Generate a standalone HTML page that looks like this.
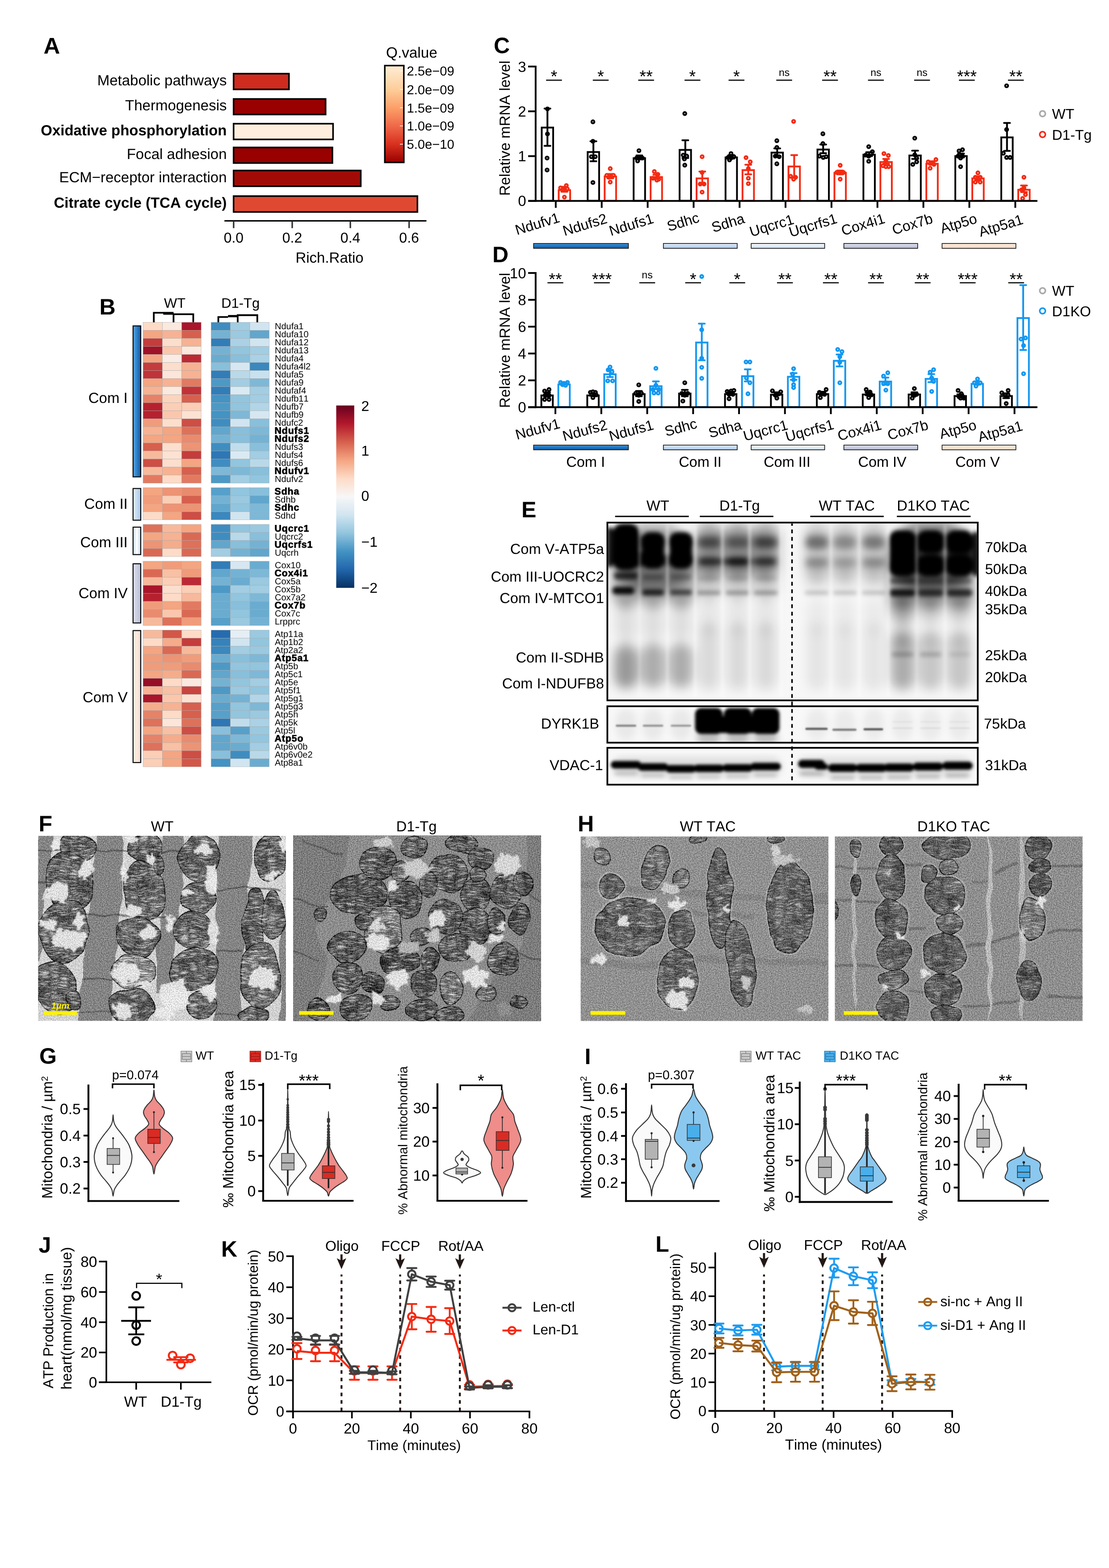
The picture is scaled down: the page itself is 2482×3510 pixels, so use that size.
<!DOCTYPE html>
<html lang="en"><head><meta charset="utf-8"><title>Figure</title>
<style>
html,body{margin:0;padding:0;background:#fff;}
body{width:2482px;height:3510px;overflow:hidden;}
svg{display:block;font-family:'Liberation Sans', Arial, Helvetica, sans-serif;font-kerning:none;text-rendering:geometricPrecision;}
</style></head><body>
<svg width="2482" height="3510" viewBox="0 0 2482 3510">
<defs>
<linearGradient id="qg" x1="0" y1="0" x2="0" y2="1"><stop offset="0" stop-color="#feead1"/><stop offset="0.06" stop-color="#fee6c8"/><stop offset="0.25" stop-color="#fdcd98"/><stop offset="0.44" stop-color="#fc9e68"/><stop offset="0.62" stop-color="#ef6a4a"/><stop offset="0.81" stop-color="#d8311f"/><stop offset="1" stop-color="#990000"/></linearGradient>
<linearGradient id="cb1" x1="0" y1="0" x2="0" y2="1"><stop offset="0" stop-color="#3f93d6"/><stop offset="1" stop-color="#0a59a6"/></linearGradient>
<linearGradient id="cb2" x1="0" y1="0" x2="0" y2="1"><stop offset="0" stop-color="#e2edf9"/><stop offset="1" stop-color="#a9c9ec"/></linearGradient>
<linearGradient id="cb3" x1="0" y1="0" x2="0" y2="1"><stop offset="0" stop-color="#fbfcfe"/><stop offset="1" stop-color="#c9ddf2"/></linearGradient>
<linearGradient id="cb4" x1="0" y1="0" x2="0" y2="1"><stop offset="0" stop-color="#dfe2ee"/><stop offset="1" stop-color="#b4b9d4"/></linearGradient>
<linearGradient id="cb5" x1="0" y1="0" x2="0" y2="1"><stop offset="0" stop-color="#fdebdd"/><stop offset="1" stop-color="#f6d9c4"/></linearGradient>
<linearGradient id="hb1" x1="0" y1="0" x2="1" y2="0"><stop offset="0" stop-color="#56a6e4"/><stop offset="1" stop-color="#0a5aa8"/></linearGradient>
<linearGradient id="hb2" x1="0" y1="0" x2="1" y2="0"><stop offset="0" stop-color="#e3eefa"/><stop offset="1" stop-color="#a6c7eb"/></linearGradient>
<linearGradient id="hb3" x1="0" y1="0" x2="1" y2="0"><stop offset="0" stop-color="#c4daf1"/><stop offset="0.5" stop-color="#ffffff"/><stop offset="1" stop-color="#c0d7f0"/></linearGradient>
<linearGradient id="hb4" x1="0" y1="0" x2="1" y2="0"><stop offset="0" stop-color="#dcdfec"/><stop offset="1" stop-color="#b9bed7"/></linearGradient>
<linearGradient id="hb5" x1="0" y1="0" x2="1" y2="0"><stop offset="0" stop-color="#fdebdd"/><stop offset="0.7" stop-color="#fbe5d8"/><stop offset="1" stop-color="#c9cdea"/></linearGradient>
<linearGradient id="rdbu" x1="0" y1="0" x2="0" y2="1"><stop offset="0" stop-color="#67001f"/><stop offset="0.1" stop-color="#b2182b"/><stop offset="0.2" stop-color="#d6604d"/><stop offset="0.3" stop-color="#f4a582"/><stop offset="0.4" stop-color="#fddbc7"/><stop offset="0.5" stop-color="#f7f7f7"/><stop offset="0.6" stop-color="#d1e5f0"/><stop offset="0.7" stop-color="#92c5de"/><stop offset="0.8" stop-color="#4393c3"/><stop offset="0.9" stop-color="#2166ac"/><stop offset="1" stop-color="#053061"/></linearGradient>
<filter id="bl3" x="-20%" y="-20%" width="140%" height="140%"><feGaussianBlur stdDeviation="3"/></filter>
<filter id="bl5" x="-20%" y="-20%" width="140%" height="140%"><feGaussianBlur stdDeviation="5"/></filter>
<filter id="bl8" x="-20%" y="-20%" width="140%" height="140%"><feGaussianBlur stdDeviation="8"/></filter>
<filter id="bl12" x="-20%" y="-20%" width="140%" height="140%"><feGaussianBlur stdDeviation="12"/></filter>
<filter id="bl2" x="-20%" y="-20%" width="140%" height="140%"><feGaussianBlur stdDeviation="1.6"/></filter>
<clipPath id="cE1"><rect x="1359.3" y="1169.8" width="829" height="398"/></clipPath>
<clipPath id="cE2"><rect x="1359.3" y="1581" width="829" height="81.5"/></clipPath>
<clipPath id="cE3"><rect x="1359.3" y="1674" width="829" height="82.5"/></clipPath>
<clipPath id="emc1"><rect x="85.3" y="1870.9" width="554.6" height="414.4"/></clipPath>
<filter id="emw1" x="65.3" y="1850.9" width="594.6" height="454.4" filterUnits="userSpaceOnUse" color-interpolation-filters="sRGB"><feTurbulence type="fractalNoise" baseFrequency="0.02" numOctaves="2" seed="3" result="lo"/><feDisplacementMap in="SourceGraphic" in2="lo" scale="16" xChannelSelector="R" yChannelSelector="G"/></filter>
<filter id="emg1" x="65.3" y="1850.9" width="594.6" height="454.4" filterUnits="userSpaceOnUse" color-interpolation-filters="sRGB"><feTurbulence type="fractalNoise" baseFrequency="0.42" numOctaves="2" seed="10" result="hi"/><feColorMatrix in="hi" type="matrix" values="1 0 0 0 0  1 0 0 0 0  1 0 0 0 0  0 0 0 0 1" result="g"/><feComposite in="SourceGraphic" in2="g" operator="arithmetic" k1="0" k2="1" k3="0.55" k4="-0.28"/></filter>
<filter id="emm1" x="65.3" y="1850.9" width="594.6" height="454.4" filterUnits="userSpaceOnUse" color-interpolation-filters="sRGB"><feTurbulence type="turbulence" baseFrequency="0.045 0.21" numOctaves="2" seed="16" result="hi"/><feColorMatrix in="hi" type="matrix" values="1 0 0 0 0  1 0 0 0 0  1 0 0 0 0  0 0 0 0 1" result="g"/><feTurbulence type="fractalNoise" baseFrequency="0.03" numOctaves="2" seed="44" result="lo"/><feColorMatrix in="lo" type="matrix" values="1 0 0 0 0  1 0 0 0 0  1 0 0 0 0  0 0 0 0 1" result="gl"/><feComposite in="SourceGraphic" in2="g" operator="arithmetic" k1="0" k2="1" k3="0.8" k4="-0.24" result="c0"/><feComposite in="c0" in2="gl" operator="arithmetic" k1="0" k2="1" k3="0.3" k4="-0.15" result="c"/><feComposite in="c" in2="SourceGraphic" operator="in"/></filter>
<filter id="emr1" x="65.3" y="1850.9" width="594.6" height="454.4" filterUnits="userSpaceOnUse" color-interpolation-filters="sRGB"><feTurbulence type="fractalNoise" baseFrequency="0.07" numOctaves="3" seed="32" result="lo"/><feDisplacementMap in="SourceGraphic" in2="lo" scale="26" xChannelSelector="R" yChannelSelector="G" result="d"/><feGaussianBlur in="d" stdDeviation="1.2"/></filter>
<pattern id="emp1" width="3.2" height="40" patternUnits="userSpaceOnUse"><rect width="3.2" height="40" fill="#8e8e8e"/><rect width="1.2" height="40" fill="#000" fill-opacity="0.16"/></pattern>
<clipPath id="emc2"><rect x="656.3" y="1870.9" width="554.2" height="414.6"/></clipPath>
<filter id="emw2" x="636.3" y="1850.9" width="594.2" height="454.6" filterUnits="userSpaceOnUse" color-interpolation-filters="sRGB"><feTurbulence type="fractalNoise" baseFrequency="0.02" numOctaves="2" seed="9" result="lo"/><feDisplacementMap in="SourceGraphic" in2="lo" scale="16" xChannelSelector="R" yChannelSelector="G"/></filter>
<filter id="emg2" x="636.3" y="1850.9" width="594.2" height="454.6" filterUnits="userSpaceOnUse" color-interpolation-filters="sRGB"><feTurbulence type="fractalNoise" baseFrequency="0.42" numOctaves="2" seed="16" result="hi"/><feColorMatrix in="hi" type="matrix" values="1 0 0 0 0  1 0 0 0 0  1 0 0 0 0  0 0 0 0 1" result="g"/><feComposite in="SourceGraphic" in2="g" operator="arithmetic" k1="0" k2="1" k3="0.55" k4="-0.28"/></filter>
<filter id="emm2" x="636.3" y="1850.9" width="594.2" height="454.6" filterUnits="userSpaceOnUse" color-interpolation-filters="sRGB"><feTurbulence type="turbulence" baseFrequency="0.045 0.21" numOctaves="2" seed="22" result="hi"/><feColorMatrix in="hi" type="matrix" values="1 0 0 0 0  1 0 0 0 0  1 0 0 0 0  0 0 0 0 1" result="g"/><feTurbulence type="fractalNoise" baseFrequency="0.03" numOctaves="2" seed="50" result="lo"/><feColorMatrix in="lo" type="matrix" values="1 0 0 0 0  1 0 0 0 0  1 0 0 0 0  0 0 0 0 1" result="gl"/><feComposite in="SourceGraphic" in2="g" operator="arithmetic" k1="0" k2="1" k3="0.8" k4="-0.24" result="c0"/><feComposite in="c0" in2="gl" operator="arithmetic" k1="0" k2="1" k3="0.3" k4="-0.15" result="c"/><feComposite in="c" in2="SourceGraphic" operator="in"/></filter>
<filter id="emr2" x="636.3" y="1850.9" width="594.2" height="454.6" filterUnits="userSpaceOnUse" color-interpolation-filters="sRGB"><feTurbulence type="fractalNoise" baseFrequency="0.07" numOctaves="3" seed="38" result="lo"/><feDisplacementMap in="SourceGraphic" in2="lo" scale="26" xChannelSelector="R" yChannelSelector="G" result="d"/><feGaussianBlur in="d" stdDeviation="1.2"/></filter>
<pattern id="emp2" width="3.2" height="40" patternUnits="userSpaceOnUse"><rect width="3.2" height="40" fill="#868686"/><rect width="1.2" height="40" fill="#000" fill-opacity="0.16"/></pattern>
<clipPath id="emc3"><rect x="1299.6" y="1872.6" width="554.4" height="412.8"/></clipPath>
<filter id="emw3" x="1279.6" y="1852.6" width="594.4" height="452.8" filterUnits="userSpaceOnUse" color-interpolation-filters="sRGB"><feTurbulence type="fractalNoise" baseFrequency="0.02" numOctaves="2" seed="17" result="lo"/><feDisplacementMap in="SourceGraphic" in2="lo" scale="16" xChannelSelector="R" yChannelSelector="G"/></filter>
<filter id="emg3" x="1279.6" y="1852.6" width="594.4" height="452.8" filterUnits="userSpaceOnUse" color-interpolation-filters="sRGB"><feTurbulence type="fractalNoise" baseFrequency="0.42" numOctaves="2" seed="24" result="hi"/><feColorMatrix in="hi" type="matrix" values="1 0 0 0 0  1 0 0 0 0  1 0 0 0 0  0 0 0 0 1" result="g"/><feComposite in="SourceGraphic" in2="g" operator="arithmetic" k1="0" k2="1" k3="0.55" k4="-0.28"/></filter>
<filter id="emm3" x="1279.6" y="1852.6" width="594.4" height="452.8" filterUnits="userSpaceOnUse" color-interpolation-filters="sRGB"><feTurbulence type="turbulence" baseFrequency="0.045 0.21" numOctaves="2" seed="30" result="hi"/><feColorMatrix in="hi" type="matrix" values="1 0 0 0 0  1 0 0 0 0  1 0 0 0 0  0 0 0 0 1" result="g"/><feTurbulence type="fractalNoise" baseFrequency="0.03" numOctaves="2" seed="58" result="lo"/><feColorMatrix in="lo" type="matrix" values="1 0 0 0 0  1 0 0 0 0  1 0 0 0 0  0 0 0 0 1" result="gl"/><feComposite in="SourceGraphic" in2="g" operator="arithmetic" k1="0" k2="1" k3="0.63" k4="-0.19" result="c0"/><feComposite in="c0" in2="gl" operator="arithmetic" k1="0" k2="1" k3="0.3" k4="-0.15" result="c"/><feComposite in="c" in2="SourceGraphic" operator="in"/></filter>
<filter id="emr3" x="1279.6" y="1852.6" width="594.4" height="452.8" filterUnits="userSpaceOnUse" color-interpolation-filters="sRGB"><feTurbulence type="fractalNoise" baseFrequency="0.07" numOctaves="3" seed="46" result="lo"/><feDisplacementMap in="SourceGraphic" in2="lo" scale="26" xChannelSelector="R" yChannelSelector="G" result="d"/><feGaussianBlur in="d" stdDeviation="1.2"/></filter>
<pattern id="emp3" width="3.2" height="40" patternUnits="userSpaceOnUse"><rect width="3.2" height="40" fill="#9b9b9b"/><rect width="1.2" height="40" fill="#000" fill-opacity="0.16"/></pattern>
<clipPath id="emc4"><rect x="1868.5" y="1872.6" width="554.3" height="412.8"/></clipPath>
<filter id="emw4" x="1848.5" y="1852.6" width="594.3" height="452.8" filterUnits="userSpaceOnUse" color-interpolation-filters="sRGB"><feTurbulence type="fractalNoise" baseFrequency="0.02" numOctaves="2" seed="23" result="lo"/><feDisplacementMap in="SourceGraphic" in2="lo" scale="16" xChannelSelector="R" yChannelSelector="G"/></filter>
<filter id="emg4" x="1848.5" y="1852.6" width="594.3" height="452.8" filterUnits="userSpaceOnUse" color-interpolation-filters="sRGB"><feTurbulence type="fractalNoise" baseFrequency="0.42" numOctaves="2" seed="30" result="hi"/><feColorMatrix in="hi" type="matrix" values="1 0 0 0 0  1 0 0 0 0  1 0 0 0 0  0 0 0 0 1" result="g"/><feComposite in="SourceGraphic" in2="g" operator="arithmetic" k1="0" k2="1" k3="0.55" k4="-0.28"/></filter>
<filter id="emm4" x="1848.5" y="1852.6" width="594.3" height="452.8" filterUnits="userSpaceOnUse" color-interpolation-filters="sRGB"><feTurbulence type="turbulence" baseFrequency="0.045 0.21" numOctaves="2" seed="36" result="hi"/><feColorMatrix in="hi" type="matrix" values="1 0 0 0 0  1 0 0 0 0  1 0 0 0 0  0 0 0 0 1" result="g"/><feTurbulence type="fractalNoise" baseFrequency="0.03" numOctaves="2" seed="64" result="lo"/><feColorMatrix in="lo" type="matrix" values="1 0 0 0 0  1 0 0 0 0  1 0 0 0 0  0 0 0 0 1" result="gl"/><feComposite in="SourceGraphic" in2="g" operator="arithmetic" k1="0" k2="1" k3="0.56" k4="-0.17" result="c0"/><feComposite in="c0" in2="gl" operator="arithmetic" k1="0" k2="1" k3="0.3" k4="-0.15" result="c"/><feComposite in="c" in2="SourceGraphic" operator="in"/></filter>
<filter id="emr4" x="1848.5" y="1852.6" width="594.3" height="452.8" filterUnits="userSpaceOnUse" color-interpolation-filters="sRGB"><feTurbulence type="fractalNoise" baseFrequency="0.07" numOctaves="3" seed="52" result="lo"/><feDisplacementMap in="SourceGraphic" in2="lo" scale="26" xChannelSelector="R" yChannelSelector="G" result="d"/><feGaussianBlur in="d" stdDeviation="1.2"/></filter>
<pattern id="emp4" width="3.2" height="40" patternUnits="userSpaceOnUse"><rect width="3.2" height="40" fill="#999999"/><rect width="1.2" height="40" fill="#000" fill-opacity="0.16"/></pattern>
</defs>
<rect width="2482" height="3510" fill="#fff"/>
<g id="panelA">
<text x="97.5" y="120" font-size="51" font-weight="bold">A</text>
<rect x="522.8" y="164.9" width="123.9" height="35.2" fill="#cf2b1e" stroke="#000" stroke-width="3.6"/>
<text x="507.5" y="191" font-size="33" text-anchor="end">Metabolic pathways</text>
<rect x="522.8" y="221.5" width="205.9" height="34.8" fill="#990000" stroke="#000" stroke-width="3.6"/>
<text x="507.5" y="247.4" font-size="33" text-anchor="end">Thermogenesis</text>
<rect x="522.8" y="276.9" width="222.6" height="35.2" fill="#feeedd" stroke="#000" stroke-width="3.6"/>
<text x="507.5" y="303" font-size="33" text-anchor="end" font-weight="bold">Oxidative phosphorylation</text>
<rect x="522.8" y="330.1" width="221.1" height="34.8" fill="#990000" stroke="#000" stroke-width="3.6"/>
<text x="507.5" y="356" font-size="33" text-anchor="end">Focal adhesion</text>
<rect x="522.8" y="381.7" width="284.6" height="35.2" fill="#a10b07" stroke="#000" stroke-width="3.6"/>
<text x="507.5" y="407.8" font-size="33" text-anchor="end">ECM−receptor interaction</text>
<rect x="522.8" y="439" width="411.4" height="35.5" fill="#e04931" stroke="#000" stroke-width="3.6"/>
<text x="507.5" y="465.25" font-size="33" text-anchor="end" font-weight="bold">Citrate cycle (TCA cycle)</text>
<line x1="502.3" y1="494.4" x2="954.4" y2="494.4" stroke="#000" stroke-width="3.4"/>
<line x1="522.9" y1="495" x2="522.9" y2="510.7" stroke="#333" stroke-width="3.4"/>
<text x="522.9" y="543.2" font-size="32" text-anchor="middle">0.0</text>
<line x1="654" y1="495" x2="654" y2="510.7" stroke="#333" stroke-width="3.4"/>
<text x="654" y="543.2" font-size="32" text-anchor="middle">0.2</text>
<line x1="784.1" y1="495" x2="784.1" y2="510.7" stroke="#333" stroke-width="3.4"/>
<text x="784.1" y="543.2" font-size="32" text-anchor="middle">0.4</text>
<line x1="915.6" y1="495" x2="915.6" y2="510.7" stroke="#333" stroke-width="3.4"/>
<text x="915.6" y="543.2" font-size="32" text-anchor="middle">0.6</text>
<text x="737.5" y="587.6" font-size="33" text-anchor="middle">Rich.Ratio</text>
<text x="864" y="129" font-size="33.3">Q.value</text>
<rect x="861.2" y="146.8" width="42.6" height="216.8" fill="url(#qg)" stroke="#000" stroke-width="3.4"/>
<line x1="895" y1="158.7" x2="902" y2="158.7" stroke="#fff" stroke-width="1.5"/>
<text x="910.5" y="169.3" font-size="29.2">2.5e−09</text>
<line x1="895" y1="200.1" x2="902" y2="200.1" stroke="#fff" stroke-width="1.5"/>
<text x="910.5" y="210.7" font-size="29.2">2.0e−09</text>
<line x1="895" y1="241.1" x2="902" y2="241.1" stroke="#fff" stroke-width="1.5"/>
<text x="910.5" y="251.7" font-size="29.2">1.5e−09</text>
<line x1="895" y1="281.7" x2="902" y2="281.7" stroke="#fff" stroke-width="1.5"/>
<text x="910.5" y="292.3" font-size="29.2">1.0e−09</text>
<line x1="895" y1="322.7" x2="902" y2="322.7" stroke="#fff" stroke-width="1.5"/>
<text x="910.5" y="333.3" font-size="29.2">5.0e−10</text>
</g>
<g>
<text x="1105" y="119" font-size="50" font-weight="bold">C</text>
<text text-anchor="middle" transform="translate(1141 287) rotate(-90)" font-size="33">Relative mRNA level</text>
<line x1="1243.8" y1="449.8" x2="1243.8" y2="465.3" stroke="#000" stroke-width="4"/>
<rect x="1212.4" y="285.58" width="25.6" height="163.92" fill="#fff" stroke="#000" stroke-width="4"/>
<line x1="1225.2" y1="242.93" x2="1225.2" y2="326.55" stroke="#000" stroke-width="4.1"/>
<line x1="1218.6" y1="242.93" x2="1231.8" y2="242.93" stroke="#000" stroke-width="4" stroke-linecap="round"/>
<line x1="1218.6" y1="326.55" x2="1231.8" y2="326.55" stroke="#000" stroke-width="4" stroke-linecap="round"/>
<circle cx="1225.26" cy="243.79" r="3.25" fill="none" stroke="#000" stroke-width="4.1"/>
<circle cx="1225.26" cy="299.83" r="3.25" fill="none" stroke="#000" stroke-width="4.1"/>
<circle cx="1224.4" cy="353.7" r="3.25" fill="none" stroke="#000" stroke-width="4.1"/>
<circle cx="1224.4" cy="380.43" r="3.25" fill="none" stroke="#000" stroke-width="4.1"/>
<rect x="1250.4" y="425.66" width="25.6" height="23.84" fill="#fff" stroke="#f42a12" stroke-width="4"/>
<line x1="1263.2" y1="418.36" x2="1263.2" y2="429.13" stroke="#f42a12" stroke-width="4.1"/>
<line x1="1256.6" y1="418.36" x2="1269.8" y2="418.36" stroke="#f42a12" stroke-width="4" stroke-linecap="round"/>
<line x1="1256.6" y1="429.13" x2="1269.8" y2="429.13" stroke="#f42a12" stroke-width="4" stroke-linecap="round"/>
<circle cx="1254.57" cy="420.51" r="3.25" fill="none" stroke="#f42a12" stroke-width="4.1"/>
<circle cx="1267.5" cy="415.34" r="3.25" fill="none" stroke="#f42a12" stroke-width="4.1"/>
<circle cx="1258.88" cy="424.82" r="3.25" fill="none" stroke="#f42a12" stroke-width="4.1"/>
<circle cx="1269.65" cy="422.67" r="3.25" fill="none" stroke="#f42a12" stroke-width="4.1"/>
<circle cx="1263.19" cy="441.2" r="3.25" fill="none" stroke="#f42a12" stroke-width="4.1"/>
<line x1="1222.2" y1="179.5" x2="1257.6" y2="179.5" stroke="#000" stroke-width="2.6"/>
<text x="1239.9" y="184.2" font-size="38" text-anchor="middle">*</text>
<text text-anchor="end" transform="translate(1254.6 496.5) rotate(-17)" font-size="32.2">Ndufv1</text>
<line x1="1346.65" y1="449.8" x2="1346.65" y2="465.3" stroke="#000" stroke-width="4"/>
<rect x="1315.25" y="340.32" width="25.6" height="109.18" fill="#fff" stroke="#000" stroke-width="4"/>
<line x1="1328.05" y1="316.2" x2="1328.05" y2="361.03" stroke="#000" stroke-width="4.1"/>
<line x1="1321.45" y1="316.2" x2="1334.65" y2="316.2" stroke="#000" stroke-width="4" stroke-linecap="round"/>
<line x1="1321.45" y1="361.03" x2="1334.65" y2="361.03" stroke="#000" stroke-width="4" stroke-linecap="round"/>
<circle cx="1326.98" cy="272.67" r="3.25" fill="none" stroke="#000" stroke-width="4.1"/>
<circle cx="1326.98" cy="316.2" r="3.25" fill="none" stroke="#000" stroke-width="4.1"/>
<circle cx="1323.53" cy="350.69" r="3.25" fill="none" stroke="#000" stroke-width="4.1"/>
<circle cx="1332.15" cy="350.69" r="3.25" fill="none" stroke="#000" stroke-width="4.1"/>
<circle cx="1326.98" cy="408.44" r="3.25" fill="none" stroke="#000" stroke-width="4.1"/>
<rect x="1353.25" y="395.06" width="25.6" height="54.44" fill="#fff" stroke="#f42a12" stroke-width="4"/>
<line x1="1366.05" y1="389.48" x2="1366.05" y2="398.96" stroke="#f42a12" stroke-width="4.1"/>
<line x1="1359.45" y1="389.48" x2="1372.65" y2="389.48" stroke="#f42a12" stroke-width="4" stroke-linecap="round"/>
<line x1="1359.45" y1="398.96" x2="1372.65" y2="398.96" stroke="#f42a12" stroke-width="4" stroke-linecap="round"/>
<circle cx="1365.77" cy="377.41" r="3.25" fill="none" stroke="#f42a12" stroke-width="4.1"/>
<circle cx="1358.01" cy="392.5" r="3.25" fill="none" stroke="#f42a12" stroke-width="4.1"/>
<circle cx="1373.1" cy="392.5" r="3.25" fill="none" stroke="#f42a12" stroke-width="4.1"/>
<circle cx="1362.32" cy="396.81" r="3.25" fill="none" stroke="#f42a12" stroke-width="4.1"/>
<circle cx="1365.77" cy="407.58" r="3.25" fill="none" stroke="#f42a12" stroke-width="4.1"/>
<line x1="1326.75" y1="179.5" x2="1362.15" y2="179.5" stroke="#000" stroke-width="2.6"/>
<text x="1344.45" y="184.2" font-size="38" text-anchor="middle">*</text>
<text text-anchor="end" transform="translate(1361 498.5) rotate(-17)" font-size="32.2">Ndufs2</text>
<line x1="1449.5" y1="449.8" x2="1449.5" y2="465.3" stroke="#000" stroke-width="4"/>
<rect x="1418.1" y="354.11" width="25.6" height="95.39" fill="#fff" stroke="#000" stroke-width="4"/>
<line x1="1430.9" y1="348.1" x2="1430.9" y2="356.72" stroke="#000" stroke-width="4.1"/>
<line x1="1424.3" y1="348.1" x2="1437.5" y2="348.1" stroke="#000" stroke-width="4" stroke-linecap="round"/>
<line x1="1424.3" y1="356.72" x2="1437.5" y2="356.72" stroke="#000" stroke-width="4" stroke-linecap="round"/>
<circle cx="1430" cy="337.32" r="3.25" fill="none" stroke="#000" stroke-width="4.1"/>
<circle cx="1424.82" cy="353.7" r="3.25" fill="none" stroke="#000" stroke-width="4.1"/>
<circle cx="1433.44" cy="352.41" r="3.25" fill="none" stroke="#000" stroke-width="4.1"/>
<circle cx="1437.75" cy="353.7" r="3.25" fill="none" stroke="#000" stroke-width="4.1"/>
<circle cx="1426.98" cy="360.17" r="3.25" fill="none" stroke="#000" stroke-width="4.1"/>
<rect x="1456.1" y="396.35" width="25.6" height="53.15" fill="#fff" stroke="#f42a12" stroke-width="4"/>
<line x1="1468.9" y1="391.2" x2="1468.9" y2="398.96" stroke="#f42a12" stroke-width="4.1"/>
<line x1="1462.3" y1="391.2" x2="1475.5" y2="391.2" stroke="#f42a12" stroke-width="4" stroke-linecap="round"/>
<line x1="1462.3" y1="398.96" x2="1475.5" y2="398.96" stroke="#f42a12" stroke-width="4" stroke-linecap="round"/>
<circle cx="1464.48" cy="383.88" r="3.25" fill="none" stroke="#f42a12" stroke-width="4.1"/>
<circle cx="1472.24" cy="390.34" r="3.25" fill="none" stroke="#f42a12" stroke-width="4.1"/>
<circle cx="1461.46" cy="398.96" r="3.25" fill="none" stroke="#f42a12" stroke-width="4.1"/>
<circle cx="1470.08" cy="403.27" r="3.25" fill="none" stroke="#f42a12" stroke-width="4.1"/>
<circle cx="1474.39" cy="401.12" r="3.25" fill="none" stroke="#f42a12" stroke-width="4.1"/>
<line x1="1428.4" y1="179.5" x2="1463.8" y2="179.5" stroke="#000" stroke-width="2.6"/>
<text x="1446.1" y="184.2" font-size="38" text-anchor="middle">**</text>
<text text-anchor="end" transform="translate(1464.9 498.5) rotate(-17)" font-size="32.2">Ndufs1</text>
<line x1="1552.35" y1="449.8" x2="1552.35" y2="465.3" stroke="#000" stroke-width="4"/>
<rect x="1520.95" y="335.58" width="25.6" height="113.92" fill="#fff" stroke="#000" stroke-width="4"/>
<line x1="1533.75" y1="314.05" x2="1533.75" y2="353.7" stroke="#000" stroke-width="4.1"/>
<line x1="1527.15" y1="314.05" x2="1540.35" y2="314.05" stroke="#000" stroke-width="4" stroke-linecap="round"/>
<line x1="1527.15" y1="353.7" x2="1540.35" y2="353.7" stroke="#000" stroke-width="4" stroke-linecap="round"/>
<circle cx="1532.58" cy="254.14" r="3.25" fill="none" stroke="#000" stroke-width="4.1"/>
<circle cx="1529.13" cy="347.24" r="3.25" fill="none" stroke="#000" stroke-width="4.1"/>
<circle cx="1536.89" cy="349.39" r="3.25" fill="none" stroke="#000" stroke-width="4.1"/>
<circle cx="1531.72" cy="355.86" r="3.25" fill="none" stroke="#000" stroke-width="4.1"/>
<circle cx="1532.58" cy="369.65" r="3.25" fill="none" stroke="#000" stroke-width="4.1"/>
<rect x="1558.95" y="399.37" width="25.6" height="50.13" fill="#fff" stroke="#f42a12" stroke-width="4"/>
<line x1="1571.75" y1="383.88" x2="1571.75" y2="411.89" stroke="#f42a12" stroke-width="4.1"/>
<line x1="1565.15" y1="383.88" x2="1578.35" y2="383.88" stroke="#f42a12" stroke-width="4" stroke-linecap="round"/>
<line x1="1565.15" y1="411.89" x2="1578.35" y2="411.89" stroke="#f42a12" stroke-width="4" stroke-linecap="round"/>
<circle cx="1571.37" cy="350.69" r="3.25" fill="none" stroke="#f42a12" stroke-width="4.1"/>
<circle cx="1571.37" cy="386.03" r="3.25" fill="none" stroke="#f42a12" stroke-width="4.1"/>
<circle cx="1567.06" cy="411.89" r="3.25" fill="none" stroke="#f42a12" stroke-width="4.1"/>
<circle cx="1575.68" cy="411.89" r="3.25" fill="none" stroke="#f42a12" stroke-width="4.1"/>
<circle cx="1571.37" cy="430" r="3.25" fill="none" stroke="#f42a12" stroke-width="4.1"/>
<line x1="1532.05" y1="179.5" x2="1567.45" y2="179.5" stroke="#000" stroke-width="2.6"/>
<text x="1549.75" y="184.2" font-size="38" text-anchor="middle">*</text>
<text text-anchor="end" transform="translate(1567 496.5) rotate(-17)" font-size="32.2">Sdhc</text>
<line x1="1655.2" y1="449.8" x2="1655.2" y2="465.3" stroke="#000" stroke-width="4"/>
<rect x="1623.8" y="352.39" width="25.6" height="97.11" fill="#fff" stroke="#000" stroke-width="4"/>
<line x1="1636.6" y1="347.24" x2="1636.6" y2="355" stroke="#000" stroke-width="4.1"/>
<line x1="1630" y1="347.24" x2="1643.2" y2="347.24" stroke="#000" stroke-width="4" stroke-linecap="round"/>
<line x1="1630" y1="355" x2="1643.2" y2="355" stroke="#000" stroke-width="4" stroke-linecap="round"/>
<circle cx="1636.03" cy="343.79" r="3.25" fill="none" stroke="#000" stroke-width="4.1"/>
<circle cx="1629.56" cy="352.41" r="3.25" fill="none" stroke="#000" stroke-width="4.1"/>
<circle cx="1636.03" cy="353.7" r="3.25" fill="none" stroke="#000" stroke-width="4.1"/>
<circle cx="1642.49" cy="350.69" r="3.25" fill="none" stroke="#000" stroke-width="4.1"/>
<circle cx="1632.58" cy="358.01" r="3.25" fill="none" stroke="#000" stroke-width="4.1"/>
<rect x="1661.8" y="380.83" width="25.6" height="68.67" fill="#fff" stroke="#f42a12" stroke-width="4"/>
<line x1="1674.6" y1="368.79" x2="1674.6" y2="390.34" stroke="#f42a12" stroke-width="4.1"/>
<line x1="1668" y1="368.79" x2="1681.2" y2="368.79" stroke="#f42a12" stroke-width="4" stroke-linecap="round"/>
<line x1="1668" y1="390.34" x2="1681.2" y2="390.34" stroke="#f42a12" stroke-width="4" stroke-linecap="round"/>
<circle cx="1669.65" cy="352.84" r="3.25" fill="none" stroke="#f42a12" stroke-width="4.1"/>
<circle cx="1679.13" cy="362.32" r="3.25" fill="none" stroke="#f42a12" stroke-width="4.1"/>
<circle cx="1674.82" cy="377.41" r="3.25" fill="none" stroke="#f42a12" stroke-width="4.1"/>
<circle cx="1674.82" cy="398.96" r="3.25" fill="none" stroke="#f42a12" stroke-width="4.1"/>
<circle cx="1674.82" cy="411.03" r="3.25" fill="none" stroke="#f42a12" stroke-width="4.1"/>
<line x1="1630.6" y1="179.5" x2="1666" y2="179.5" stroke="#000" stroke-width="2.6"/>
<text x="1648.3" y="184.2" font-size="38" text-anchor="middle">*</text>
<text text-anchor="end" transform="translate(1668.4 498.5) rotate(-17)" font-size="32.2">Sdha</text>
<line x1="1758.05" y1="449.8" x2="1758.05" y2="465.3" stroke="#000" stroke-width="4"/>
<rect x="1726.65" y="341.61" width="25.6" height="107.89" fill="#fff" stroke="#000" stroke-width="4"/>
<line x1="1739.45" y1="332.15" x2="1739.45" y2="349.39" stroke="#000" stroke-width="4.1"/>
<line x1="1732.85" y1="332.15" x2="1746.05" y2="332.15" stroke="#000" stroke-width="4" stroke-linecap="round"/>
<line x1="1732.85" y1="349.39" x2="1746.05" y2="349.39" stroke="#000" stroke-width="4" stroke-linecap="round"/>
<circle cx="1738.61" cy="314.91" r="3.25" fill="none" stroke="#000" stroke-width="4.1"/>
<circle cx="1738.61" cy="330" r="3.25" fill="none" stroke="#000" stroke-width="4.1"/>
<circle cx="1735.17" cy="349.39" r="3.25" fill="none" stroke="#000" stroke-width="4.1"/>
<circle cx="1743.79" cy="350.69" r="3.25" fill="none" stroke="#000" stroke-width="4.1"/>
<circle cx="1738.61" cy="366.63" r="3.25" fill="none" stroke="#000" stroke-width="4.1"/>
<rect x="1764.65" y="372.65" width="25.6" height="76.85" fill="#fff" stroke="#f42a12" stroke-width="4"/>
<line x1="1777.45" y1="347.24" x2="1777.45" y2="396.81" stroke="#f42a12" stroke-width="4.1"/>
<line x1="1770.85" y1="347.24" x2="1784.05" y2="347.24" stroke="#f42a12" stroke-width="4" stroke-linecap="round"/>
<line x1="1770.85" y1="396.81" x2="1784.05" y2="396.81" stroke="#f42a12" stroke-width="4" stroke-linecap="round"/>
<circle cx="1776.11" cy="271.81" r="3.25" fill="none" stroke="#f42a12" stroke-width="4.1"/>
<circle cx="1769.65" cy="394.65" r="3.25" fill="none" stroke="#f42a12" stroke-width="4.1"/>
<circle cx="1776.11" cy="401.12" r="3.25" fill="none" stroke="#f42a12" stroke-width="4.1"/>
<circle cx="1780.42" cy="396.81" r="3.25" fill="none" stroke="#f42a12" stroke-width="4.1"/>
<line x1="1737.35" y1="179.5" x2="1772.75" y2="179.5" stroke="#000" stroke-width="2.6"/>
<text x="1755.05" y="169.5" font-size="23" text-anchor="middle">ns</text>
<text text-anchor="end" transform="translate(1779 500.5) rotate(-17)" font-size="32.2">Uqcrc1</text>
<line x1="1860.9" y1="449.8" x2="1860.9" y2="465.3" stroke="#000" stroke-width="4"/>
<rect x="1829.5" y="334.71" width="25.6" height="114.79" fill="#fff" stroke="#000" stroke-width="4"/>
<line x1="1842.3" y1="323.53" x2="1842.3" y2="342.93" stroke="#000" stroke-width="4.1"/>
<line x1="1835.7" y1="323.53" x2="1848.9" y2="323.53" stroke="#000" stroke-width="4" stroke-linecap="round"/>
<line x1="1835.7" y1="342.93" x2="1848.9" y2="342.93" stroke="#000" stroke-width="4" stroke-linecap="round"/>
<circle cx="1841.64" cy="299.39" r="3.25" fill="none" stroke="#000" stroke-width="4.1"/>
<circle cx="1841.64" cy="321.38" r="3.25" fill="none" stroke="#000" stroke-width="4.1"/>
<circle cx="1833.88" cy="349.39" r="3.25" fill="none" stroke="#000" stroke-width="4.1"/>
<circle cx="1842.5" cy="352.41" r="3.25" fill="none" stroke="#000" stroke-width="4.1"/>
<circle cx="1848.96" cy="350.69" r="3.25" fill="none" stroke="#000" stroke-width="4.1"/>
<rect x="1867.5" y="386.87" width="25.6" height="62.63" fill="#fff" stroke="#f42a12" stroke-width="4"/>
<line x1="1880.3" y1="381.72" x2="1880.3" y2="390.34" stroke="#f42a12" stroke-width="4.1"/>
<line x1="1873.7" y1="381.72" x2="1886.9" y2="381.72" stroke="#f42a12" stroke-width="4" stroke-linecap="round"/>
<line x1="1873.7" y1="390.34" x2="1886.9" y2="390.34" stroke="#f42a12" stroke-width="4" stroke-linecap="round"/>
<circle cx="1880.43" cy="370.08" r="3.25" fill="none" stroke="#f42a12" stroke-width="4.1"/>
<circle cx="1872.67" cy="386.03" r="3.25" fill="none" stroke="#f42a12" stroke-width="4.1"/>
<circle cx="1880.43" cy="386.89" r="3.25" fill="none" stroke="#f42a12" stroke-width="4.1"/>
<circle cx="1887.76" cy="386.03" r="3.25" fill="none" stroke="#f42a12" stroke-width="4.1"/>
<circle cx="1880.43" cy="401.12" r="3.25" fill="none" stroke="#f42a12" stroke-width="4.1"/>
<line x1="1840" y1="179.5" x2="1875.4" y2="179.5" stroke="#000" stroke-width="2.6"/>
<text x="1857.7" y="184.2" font-size="38" text-anchor="middle">**</text>
<text text-anchor="end" transform="translate(1875.7 498.5) rotate(-17)" font-size="32.2">Uqcrfs1</text>
<line x1="1963.75" y1="449.8" x2="1963.75" y2="465.3" stroke="#000" stroke-width="4"/>
<rect x="1932.35" y="346.35" width="25.6" height="103.15" fill="#fff" stroke="#000" stroke-width="4"/>
<line x1="1945.15" y1="340.77" x2="1945.15" y2="349.39" stroke="#000" stroke-width="4.1"/>
<line x1="1938.55" y1="340.77" x2="1951.75" y2="340.77" stroke="#000" stroke-width="4" stroke-linecap="round"/>
<line x1="1938.55" y1="349.39" x2="1951.75" y2="349.39" stroke="#000" stroke-width="4" stroke-linecap="round"/>
<circle cx="1944.22" cy="328.27" r="3.25" fill="none" stroke="#000" stroke-width="4.1"/>
<circle cx="1952.41" cy="339.48" r="3.25" fill="none" stroke="#000" stroke-width="4.1"/>
<circle cx="1937.33" cy="347.24" r="3.25" fill="none" stroke="#000" stroke-width="4.1"/>
<circle cx="1944.22" cy="349.39" r="3.25" fill="none" stroke="#000" stroke-width="4.1"/>
<circle cx="1944.22" cy="361.03" r="3.25" fill="none" stroke="#000" stroke-width="4.1"/>
<rect x="1970.35" y="362.73" width="25.6" height="86.77" fill="#fff" stroke="#f42a12" stroke-width="4"/>
<line x1="1983.15" y1="355.86" x2="1983.15" y2="366.63" stroke="#f42a12" stroke-width="4.1"/>
<line x1="1976.55" y1="355.86" x2="1989.75" y2="355.86" stroke="#f42a12" stroke-width="4" stroke-linecap="round"/>
<line x1="1976.55" y1="366.63" x2="1989.75" y2="366.63" stroke="#f42a12" stroke-width="4" stroke-linecap="round"/>
<circle cx="1978.27" cy="343.79" r="3.25" fill="none" stroke="#f42a12" stroke-width="4.1"/>
<circle cx="1988.19" cy="348.1" r="3.25" fill="none" stroke="#f42a12" stroke-width="4.1"/>
<circle cx="1982.58" cy="360.17" r="3.25" fill="none" stroke="#f42a12" stroke-width="4.1"/>
<circle cx="1976.12" cy="370.95" r="3.25" fill="none" stroke="#f42a12" stroke-width="4.1"/>
<circle cx="1982.58" cy="373.1" r="3.25" fill="none" stroke="#f42a12" stroke-width="4.1"/>
<circle cx="1989.05" cy="373.1" r="3.25" fill="none" stroke="#f42a12" stroke-width="4.1"/>
<line x1="1942.65" y1="179.5" x2="1978.05" y2="179.5" stroke="#000" stroke-width="2.6"/>
<text x="1960.35" y="169.5" font-size="23" text-anchor="middle">ns</text>
<text text-anchor="end" transform="translate(1982.6 498.5) rotate(-17)" font-size="32.2">Cox4i1</text>
<line x1="2066.6" y1="449.8" x2="2066.6" y2="465.3" stroke="#000" stroke-width="4"/>
<rect x="2035.2" y="348.08" width="25.6" height="101.42" fill="#fff" stroke="#000" stroke-width="4"/>
<line x1="2048" y1="337.32" x2="2048" y2="355.86" stroke="#000" stroke-width="4.1"/>
<line x1="2041.4" y1="337.32" x2="2054.6" y2="337.32" stroke="#000" stroke-width="4" stroke-linecap="round"/>
<line x1="2041.4" y1="355.86" x2="2054.6" y2="355.86" stroke="#000" stroke-width="4" stroke-linecap="round"/>
<circle cx="2047.24" cy="309.31" r="3.25" fill="none" stroke="#000" stroke-width="4.1"/>
<circle cx="2047.24" cy="346.38" r="3.25" fill="none" stroke="#000" stroke-width="4.1"/>
<circle cx="2051.55" cy="353.7" r="3.25" fill="none" stroke="#000" stroke-width="4.1"/>
<circle cx="2042.93" cy="367.93" r="3.25" fill="none" stroke="#000" stroke-width="4.1"/>
<circle cx="2051.55" cy="362.32" r="3.25" fill="none" stroke="#000" stroke-width="4.1"/>
<rect x="2073.2" y="366.61" width="25.6" height="82.89" fill="#fff" stroke="#f42a12" stroke-width="4"/>
<line x1="2086" y1="361.03" x2="2086" y2="368.79" stroke="#f42a12" stroke-width="4.1"/>
<line x1="2079.4" y1="361.03" x2="2092.6" y2="361.03" stroke="#f42a12" stroke-width="4" stroke-linecap="round"/>
<line x1="2079.4" y1="368.79" x2="2092.6" y2="368.79" stroke="#f42a12" stroke-width="4" stroke-linecap="round"/>
<circle cx="2094.65" cy="357.15" r="3.25" fill="none" stroke="#f42a12" stroke-width="4.1"/>
<circle cx="2077.41" cy="362.32" r="3.25" fill="none" stroke="#f42a12" stroke-width="4.1"/>
<circle cx="2086.03" cy="364.48" r="3.25" fill="none" stroke="#f42a12" stroke-width="4.1"/>
<circle cx="2090.34" cy="367.93" r="3.25" fill="none" stroke="#f42a12" stroke-width="4.1"/>
<circle cx="2081.72" cy="376.55" r="3.25" fill="none" stroke="#f42a12" stroke-width="4.1"/>
<line x1="2045.9" y1="179.5" x2="2081.3" y2="179.5" stroke="#000" stroke-width="2.6"/>
<text x="2063.6" y="169.5" font-size="23" text-anchor="middle">ns</text>
<text text-anchor="end" transform="translate(2089.5 498.5) rotate(-17)" font-size="32.2">Cox7b</text>
<line x1="2169.45" y1="449.8" x2="2169.45" y2="465.3" stroke="#000" stroke-width="4"/>
<rect x="2138.05" y="349.37" width="25.6" height="100.13" fill="#fff" stroke="#000" stroke-width="4"/>
<line x1="2150.85" y1="343.79" x2="2150.85" y2="352.41" stroke="#000" stroke-width="4.1"/>
<line x1="2144.25" y1="343.79" x2="2157.45" y2="343.79" stroke="#000" stroke-width="4" stroke-linecap="round"/>
<line x1="2144.25" y1="352.41" x2="2157.45" y2="352.41" stroke="#000" stroke-width="4" stroke-linecap="round"/>
<circle cx="2154.13" cy="335.17" r="3.25" fill="none" stroke="#000" stroke-width="4.1"/>
<circle cx="2146.38" cy="337.76" r="3.25" fill="none" stroke="#000" stroke-width="4.1"/>
<circle cx="2144.22" cy="349.39" r="3.25" fill="none" stroke="#000" stroke-width="4.1"/>
<circle cx="2154.13" cy="349.39" r="3.25" fill="none" stroke="#000" stroke-width="4.1"/>
<circle cx="2149.82" cy="353.7" r="3.25" fill="none" stroke="#000" stroke-width="4.1"/>
<circle cx="2149.82" cy="373.1" r="3.25" fill="none" stroke="#000" stroke-width="4.1"/>
<rect x="2176.05" y="399.37" width="25.6" height="50.13" fill="#fff" stroke="#f42a12" stroke-width="4"/>
<line x1="2188.85" y1="394.65" x2="2188.85" y2="401.12" stroke="#f42a12" stroke-width="4.1"/>
<line x1="2182.25" y1="394.65" x2="2195.45" y2="394.65" stroke="#f42a12" stroke-width="4" stroke-linecap="round"/>
<line x1="2182.25" y1="401.12" x2="2195.45" y2="401.12" stroke="#f42a12" stroke-width="4" stroke-linecap="round"/>
<circle cx="2188.62" cy="386.89" r="3.25" fill="none" stroke="#f42a12" stroke-width="4.1"/>
<circle cx="2183.01" cy="396.81" r="3.25" fill="none" stroke="#f42a12" stroke-width="4.1"/>
<circle cx="2193.79" cy="396.81" r="3.25" fill="none" stroke="#f42a12" stroke-width="4.1"/>
<circle cx="2188.62" cy="401.12" r="3.25" fill="none" stroke="#f42a12" stroke-width="4.1"/>
<circle cx="2183.01" cy="407.58" r="3.25" fill="none" stroke="#f42a12" stroke-width="4.1"/>
<circle cx="2193.79" cy="407.58" r="3.25" fill="none" stroke="#f42a12" stroke-width="4.1"/>
<line x1="2146.15" y1="179.5" x2="2181.55" y2="179.5" stroke="#000" stroke-width="2.6"/>
<text x="2163.85" y="184.2" font-size="38" text-anchor="middle">***</text>
<text text-anchor="end" transform="translate(2188.6 498.5) rotate(-17)" font-size="32.2">Atp5o</text>
<line x1="2272.3" y1="449.8" x2="2272.3" y2="465.3" stroke="#000" stroke-width="4"/>
<rect x="2240.9" y="307.56" width="25.6" height="141.94" fill="#fff" stroke="#000" stroke-width="4"/>
<line x1="2253.7" y1="275.26" x2="2253.7" y2="337.76" stroke="#000" stroke-width="4.1"/>
<line x1="2247.1" y1="275.26" x2="2260.3" y2="275.26" stroke="#000" stroke-width="4" stroke-linecap="round"/>
<line x1="2247.1" y1="337.76" x2="2260.3" y2="337.76" stroke="#000" stroke-width="4" stroke-linecap="round"/>
<circle cx="2252.84" cy="192.07" r="3.25" fill="none" stroke="#000" stroke-width="4.1"/>
<circle cx="2252.84" cy="289.91" r="3.25" fill="none" stroke="#000" stroke-width="4.1"/>
<circle cx="2245.51" cy="342.93" r="3.25" fill="none" stroke="#000" stroke-width="4.1"/>
<circle cx="2252.84" cy="352.41" r="3.25" fill="none" stroke="#000" stroke-width="4.1"/>
<circle cx="2260.6" cy="352.41" r="3.25" fill="none" stroke="#000" stroke-width="4.1"/>
<rect x="2278.9" y="424.8" width="25.6" height="24.7" fill="#fff" stroke="#f42a12" stroke-width="4"/>
<line x1="2291.7" y1="415.34" x2="2291.7" y2="430" stroke="#f42a12" stroke-width="4.1"/>
<line x1="2285.1" y1="415.34" x2="2298.3" y2="415.34" stroke="#f42a12" stroke-width="4" stroke-linecap="round"/>
<line x1="2285.1" y1="430" x2="2298.3" y2="430" stroke="#f42a12" stroke-width="4" stroke-linecap="round"/>
<circle cx="2291.63" cy="396.81" r="3.25" fill="none" stroke="#f42a12" stroke-width="4.1"/>
<circle cx="2291.63" cy="420.51" r="3.25" fill="none" stroke="#f42a12" stroke-width="4.1"/>
<circle cx="2286.46" cy="424.82" r="3.25" fill="none" stroke="#f42a12" stroke-width="4.1"/>
<circle cx="2295.08" cy="435.6" r="3.25" fill="none" stroke="#f42a12" stroke-width="4.1"/>
<circle cx="2288.62" cy="444.22" r="3.25" fill="none" stroke="#f42a12" stroke-width="4.1"/>
<line x1="2255.9" y1="179.5" x2="2291.3" y2="179.5" stroke="#000" stroke-width="2.6"/>
<text x="2273.6" y="184.2" font-size="38" text-anchor="middle">**</text>
<text text-anchor="end" transform="translate(2292 500.5) rotate(-17)" font-size="32.2">Atp5a1</text>
<line x1="1198.8" y1="146.9" x2="1198.8" y2="451.8" stroke="#000" stroke-width="4"/>
<line x1="1182" y1="449.8" x2="2321.8" y2="449.8" stroke="#000" stroke-width="4"/>
<line x1="1182" y1="449.8" x2="1198.8" y2="449.8" stroke="#000" stroke-width="4"/>
<text x="1177.5" y="461.4" font-size="33" text-anchor="end">0</text>
<line x1="1182" y1="349.5" x2="1198.8" y2="349.5" stroke="#000" stroke-width="4"/>
<text x="1177.5" y="361.1" font-size="33" text-anchor="end">1</text>
<line x1="1182" y1="249.2" x2="1198.8" y2="249.2" stroke="#000" stroke-width="4"/>
<text x="1177.5" y="260.8" font-size="33" text-anchor="end">2</text>
<line x1="1182" y1="148.9" x2="1198.8" y2="148.9" stroke="#000" stroke-width="4"/>
<text x="1177.5" y="160.5" font-size="33" text-anchor="end">3</text>
<rect x="1194.2" y="545" width="212.2" height="10.9" fill="url(#cb1)" stroke="#111" stroke-width="1.6"/>
<rect x="1484.7" y="545" width="165.2" height="10.9" fill="url(#cb2)" stroke="#111" stroke-width="1.6"/>
<rect x="1681.2" y="545" width="164.4" height="10.9" fill="url(#cb3)" stroke="#111" stroke-width="1.6"/>
<rect x="1888.6" y="545" width="165.2" height="10.9" fill="url(#cb4)" stroke="#111" stroke-width="1.6"/>
<rect x="2108.4" y="545" width="165.2" height="10.9" fill="url(#cb5)" stroke="#111" stroke-width="1.6"/>
<circle cx="2333.3" cy="254.6" r="6.3" fill="none" stroke="#aaaaaa" stroke-width="3.6"/>
<text x="2354.5" y="266.1" font-size="32">WT</text>
<circle cx="2333.3" cy="301.1" r="6.3" fill="none" stroke="#f42a12" stroke-width="3.6"/>
<text x="2354.5" y="312.6" font-size="32">D1-Tg</text>
</g>
<g>
<text x="1102" y="587" font-size="50" font-weight="bold">D</text>
<text text-anchor="middle" transform="translate(1141 762) rotate(-90)" font-size="33">Relative mRNA level</text>
<line x1="1243" y1="911.5" x2="1243" y2="927" stroke="#000" stroke-width="4"/>
<rect x="1211.6" y="885.23" width="25.6" height="25.97" fill="#fff" stroke="#000" stroke-width="4"/>
<line x1="1224.4" y1="878.36" x2="1224.4" y2="888.27" stroke="#000" stroke-width="4.1"/>
<line x1="1217.8" y1="878.36" x2="1231" y2="878.36" stroke="#000" stroke-width="4" stroke-linecap="round"/>
<line x1="1217.8" y1="888.27" x2="1231" y2="888.27" stroke="#000" stroke-width="4" stroke-linecap="round"/>
<circle cx="1218.79" cy="875.34" r="3.25" fill="none" stroke="#000" stroke-width="4.1"/>
<circle cx="1228.71" cy="871.89" r="3.25" fill="none" stroke="#000" stroke-width="4.1"/>
<circle cx="1220.08" cy="884.82" r="3.25" fill="none" stroke="#000" stroke-width="4.1"/>
<circle cx="1228.71" cy="884.82" r="3.25" fill="none" stroke="#000" stroke-width="4.1"/>
<circle cx="1218.79" cy="894.31" r="3.25" fill="none" stroke="#000" stroke-width="4.1"/>
<circle cx="1228.71" cy="894.31" r="3.25" fill="none" stroke="#000" stroke-width="4.1"/>
<rect x="1249.6" y="860.66" width="25.6" height="50.54" fill="#fff" stroke="#1397f0" stroke-width="4"/>
<line x1="1262.4" y1="856.81" x2="1262.4" y2="861.12" stroke="#1397f0" stroke-width="4.1"/>
<line x1="1255.8" y1="856.81" x2="1269" y2="856.81" stroke="#1397f0" stroke-width="4" stroke-linecap="round"/>
<line x1="1255.8" y1="861.12" x2="1269" y2="861.12" stroke="#1397f0" stroke-width="4" stroke-linecap="round"/>
<circle cx="1254.57" cy="855.94" r="3.25" fill="none" stroke="#1397f0" stroke-width="4.1"/>
<circle cx="1262.33" cy="858.1" r="3.25" fill="none" stroke="#1397f0" stroke-width="4.1"/>
<circle cx="1270.08" cy="855.94" r="3.25" fill="none" stroke="#1397f0" stroke-width="4.1"/>
<circle cx="1258.88" cy="861.12" r="3.25" fill="none" stroke="#1397f0" stroke-width="4.1"/>
<circle cx="1265.77" cy="862.41" r="3.25" fill="none" stroke="#1397f0" stroke-width="4.1"/>
<line x1="1225.3" y1="633" x2="1260.7" y2="633" stroke="#000" stroke-width="2.6"/>
<text x="1243" y="637.7" font-size="38" text-anchor="middle">**</text>
<text text-anchor="end" transform="translate(1255.4 957.8) rotate(-15.2)" font-size="32.2">Ndufv1</text>
<line x1="1345.75" y1="911.5" x2="1345.75" y2="927" stroke="#000" stroke-width="4"/>
<rect x="1314.35" y="885.23" width="25.6" height="25.97" fill="#fff" stroke="#000" stroke-width="4"/>
<line x1="1327.15" y1="880.51" x2="1327.15" y2="886.12" stroke="#000" stroke-width="4.1"/>
<line x1="1320.55" y1="880.51" x2="1333.75" y2="880.51" stroke="#000" stroke-width="4" stroke-linecap="round"/>
<line x1="1320.55" y1="886.12" x2="1333.75" y2="886.12" stroke="#000" stroke-width="4" stroke-linecap="round"/>
<circle cx="1321.38" cy="878.36" r="3.25" fill="none" stroke="#000" stroke-width="4.1"/>
<circle cx="1326.98" cy="877.07" r="3.25" fill="none" stroke="#000" stroke-width="4.1"/>
<circle cx="1332.58" cy="878.36" r="3.25" fill="none" stroke="#000" stroke-width="4.1"/>
<circle cx="1326.98" cy="890" r="3.25" fill="none" stroke="#000" stroke-width="4.1"/>
<circle cx="1334.31" cy="883.96" r="3.25" fill="none" stroke="#000" stroke-width="4.1"/>
<rect x="1352.35" y="837.82" width="25.6" height="73.38" fill="#fff" stroke="#1397f0" stroke-width="4"/>
<line x1="1365.15" y1="827.93" x2="1365.15" y2="843.88" stroke="#1397f0" stroke-width="4.1"/>
<line x1="1358.55" y1="827.93" x2="1371.75" y2="827.93" stroke="#1397f0" stroke-width="4" stroke-linecap="round"/>
<line x1="1358.55" y1="843.88" x2="1371.75" y2="843.88" stroke="#1397f0" stroke-width="4" stroke-linecap="round"/>
<circle cx="1365.34" cy="821.46" r="3.25" fill="none" stroke="#1397f0" stroke-width="4.1"/>
<circle cx="1361.03" cy="827.93" r="3.25" fill="none" stroke="#1397f0" stroke-width="4.1"/>
<circle cx="1369.65" cy="832.24" r="3.25" fill="none" stroke="#1397f0" stroke-width="4.1"/>
<circle cx="1360.17" cy="852.5" r="3.25" fill="none" stroke="#1397f0" stroke-width="4.1"/>
<circle cx="1370.95" cy="852.5" r="3.25" fill="none" stroke="#1397f0" stroke-width="4.1"/>
<line x1="1329.35" y1="633" x2="1364.75" y2="633" stroke="#000" stroke-width="2.6"/>
<text x="1347.05" y="637.7" font-size="38" text-anchor="middle">***</text>
<text text-anchor="end" transform="translate(1361 960.8) rotate(-15.2)" font-size="32.2">Ndufs2</text>
<line x1="1448.5" y1="911.5" x2="1448.5" y2="927" stroke="#000" stroke-width="4"/>
<rect x="1417.1" y="882.21" width="25.6" height="28.99" fill="#fff" stroke="#000" stroke-width="4"/>
<line x1="1429.9" y1="875.34" x2="1429.9" y2="886.98" stroke="#000" stroke-width="4.1"/>
<line x1="1423.3" y1="875.34" x2="1436.5" y2="875.34" stroke="#000" stroke-width="4" stroke-linecap="round"/>
<line x1="1423.3" y1="886.98" x2="1436.5" y2="886.98" stroke="#000" stroke-width="4" stroke-linecap="round"/>
<circle cx="1429.57" cy="861.55" r="3.25" fill="none" stroke="#000" stroke-width="4.1"/>
<circle cx="1422.67" cy="880.51" r="3.25" fill="none" stroke="#000" stroke-width="4.1"/>
<circle cx="1435.6" cy="880.51" r="3.25" fill="none" stroke="#000" stroke-width="4.1"/>
<circle cx="1429.57" cy="884.82" r="3.25" fill="none" stroke="#000" stroke-width="4.1"/>
<circle cx="1429.57" cy="898.62" r="3.25" fill="none" stroke="#000" stroke-width="4.1"/>
<rect x="1455.1" y="864.54" width="25.6" height="46.66" fill="#fff" stroke="#1397f0" stroke-width="4"/>
<line x1="1467.9" y1="853.79" x2="1467.9" y2="871.03" stroke="#1397f0" stroke-width="4.1"/>
<line x1="1461.3" y1="853.79" x2="1474.5" y2="853.79" stroke="#1397f0" stroke-width="4" stroke-linecap="round"/>
<line x1="1461.3" y1="871.03" x2="1474.5" y2="871.03" stroke="#1397f0" stroke-width="4" stroke-linecap="round"/>
<circle cx="1467.93" cy="824.48" r="3.25" fill="none" stroke="#1397f0" stroke-width="4.1"/>
<circle cx="1467.93" cy="862.41" r="3.25" fill="none" stroke="#1397f0" stroke-width="4.1"/>
<circle cx="1461.46" cy="871.89" r="3.25" fill="none" stroke="#1397f0" stroke-width="4.1"/>
<circle cx="1474.39" cy="871.89" r="3.25" fill="none" stroke="#1397f0" stroke-width="4.1"/>
<circle cx="1463.62" cy="879.65" r="3.25" fill="none" stroke="#1397f0" stroke-width="4.1"/>
<circle cx="1473.1" cy="879.65" r="3.25" fill="none" stroke="#1397f0" stroke-width="4.1"/>
<line x1="1430.8" y1="633" x2="1466.2" y2="633" stroke="#000" stroke-width="2.6"/>
<text x="1448.5" y="623" font-size="23" text-anchor="middle">ns</text>
<text text-anchor="end" transform="translate(1464.9 960.8) rotate(-15.2)" font-size="32.2">Ndufs1</text>
<line x1="1551.25" y1="911.5" x2="1551.25" y2="927" stroke="#000" stroke-width="4"/>
<rect x="1519.85" y="880.92" width="25.6" height="30.28" fill="#fff" stroke="#000" stroke-width="4"/>
<line x1="1532.65" y1="872.76" x2="1532.65" y2="886.98" stroke="#000" stroke-width="4.1"/>
<line x1="1526.05" y1="872.76" x2="1539.25" y2="872.76" stroke="#000" stroke-width="4" stroke-linecap="round"/>
<line x1="1526.05" y1="886.98" x2="1539.25" y2="886.98" stroke="#000" stroke-width="4" stroke-linecap="round"/>
<circle cx="1532.58" cy="856.81" r="3.25" fill="none" stroke="#000" stroke-width="4.1"/>
<circle cx="1526.12" cy="880.51" r="3.25" fill="none" stroke="#000" stroke-width="4.1"/>
<circle cx="1539.05" cy="880.51" r="3.25" fill="none" stroke="#000" stroke-width="4.1"/>
<circle cx="1532.58" cy="884.82" r="3.25" fill="none" stroke="#000" stroke-width="4.1"/>
<circle cx="1528.27" cy="897.75" r="3.25" fill="none" stroke="#000" stroke-width="4.1"/>
<rect x="1557.85" y="766.7" width="25.6" height="144.5" fill="#fff" stroke="#1397f0" stroke-width="4"/>
<line x1="1570.65" y1="724.48" x2="1570.65" y2="806.38" stroke="#1397f0" stroke-width="4.1"/>
<line x1="1564.05" y1="724.48" x2="1577.25" y2="724.48" stroke="#1397f0" stroke-width="4" stroke-linecap="round"/>
<line x1="1564.05" y1="806.38" x2="1577.25" y2="806.38" stroke="#1397f0" stroke-width="4" stroke-linecap="round"/>
<circle cx="1570.51" cy="618.88" r="3.25" fill="none" stroke="#1397f0" stroke-width="4.1"/>
<circle cx="1570.51" cy="738.27" r="3.25" fill="none" stroke="#1397f0" stroke-width="4.1"/>
<circle cx="1570.51" cy="802.07" r="3.25" fill="none" stroke="#1397f0" stroke-width="4.1"/>
<circle cx="1570.51" cy="822.32" r="3.25" fill="none" stroke="#1397f0" stroke-width="4.1"/>
<circle cx="1570.51" cy="846.89" r="3.25" fill="none" stroke="#1397f0" stroke-width="4.1"/>
<line x1="1533.55" y1="633" x2="1568.95" y2="633" stroke="#000" stroke-width="2.6"/>
<text x="1551.25" y="637.7" font-size="38" text-anchor="middle">*</text>
<text text-anchor="end" transform="translate(1561.9 957.8) rotate(-15.2)" font-size="32.2">Sdhc</text>
<line x1="1654" y1="911.5" x2="1654" y2="927" stroke="#000" stroke-width="4"/>
<rect x="1622.6" y="882.21" width="25.6" height="28.99" fill="#fff" stroke="#000" stroke-width="4"/>
<line x1="1635.4" y1="877.07" x2="1635.4" y2="882.67" stroke="#000" stroke-width="4.1"/>
<line x1="1628.8" y1="877.07" x2="1642" y2="877.07" stroke="#000" stroke-width="4" stroke-linecap="round"/>
<line x1="1628.8" y1="882.67" x2="1642" y2="882.67" stroke="#000" stroke-width="4" stroke-linecap="round"/>
<circle cx="1627.41" cy="876.2" r="3.25" fill="none" stroke="#000" stroke-width="4.1"/>
<circle cx="1636.03" cy="875.34" r="3.25" fill="none" stroke="#000" stroke-width="4.1"/>
<circle cx="1642.49" cy="874.05" r="3.25" fill="none" stroke="#000" stroke-width="4.1"/>
<circle cx="1631.72" cy="882.67" r="3.25" fill="none" stroke="#000" stroke-width="4.1"/>
<circle cx="1640.34" cy="882.67" r="3.25" fill="none" stroke="#000" stroke-width="4.1"/>
<circle cx="1631.72" cy="892.58" r="3.25" fill="none" stroke="#000" stroke-width="4.1"/>
<rect x="1660.6" y="842.13" width="25.6" height="69.07" fill="#fff" stroke="#1397f0" stroke-width="4"/>
<line x1="1673.4" y1="826.63" x2="1673.4" y2="853.79" stroke="#1397f0" stroke-width="4.1"/>
<line x1="1666.8" y1="826.63" x2="1680" y2="826.63" stroke="#1397f0" stroke-width="4" stroke-linecap="round"/>
<line x1="1666.8" y1="853.79" x2="1680" y2="853.79" stroke="#1397f0" stroke-width="4" stroke-linecap="round"/>
<circle cx="1669.65" cy="810.26" r="3.25" fill="none" stroke="#1397f0" stroke-width="4.1"/>
<circle cx="1678.27" cy="810.26" r="3.25" fill="none" stroke="#1397f0" stroke-width="4.1"/>
<circle cx="1670.51" cy="846.03" r="3.25" fill="none" stroke="#1397f0" stroke-width="4.1"/>
<circle cx="1678.27" cy="856.81" r="3.25" fill="none" stroke="#1397f0" stroke-width="4.1"/>
<circle cx="1673.96" cy="881.38" r="3.25" fill="none" stroke="#1397f0" stroke-width="4.1"/>
<line x1="1632.3" y1="633" x2="1667.7" y2="633" stroke="#000" stroke-width="2.6"/>
<text x="1650" y="637.7" font-size="38" text-anchor="middle">*</text>
<text text-anchor="end" transform="translate(1661.9 960.8) rotate(-15.2)" font-size="32.2">Sdha</text>
<line x1="1756.75" y1="911.5" x2="1756.75" y2="927" stroke="#000" stroke-width="4"/>
<rect x="1725.35" y="883.51" width="25.6" height="27.69" fill="#fff" stroke="#000" stroke-width="4"/>
<line x1="1738.15" y1="878.36" x2="1738.15" y2="884.82" stroke="#000" stroke-width="4.1"/>
<line x1="1731.55" y1="878.36" x2="1744.75" y2="878.36" stroke="#000" stroke-width="4" stroke-linecap="round"/>
<line x1="1731.55" y1="884.82" x2="1744.75" y2="884.82" stroke="#000" stroke-width="4" stroke-linecap="round"/>
<circle cx="1728.7" cy="874.91" r="3.25" fill="none" stroke="#000" stroke-width="4.1"/>
<circle cx="1747.23" cy="877.07" r="3.25" fill="none" stroke="#000" stroke-width="4.1"/>
<circle cx="1738.61" cy="882.67" r="3.25" fill="none" stroke="#000" stroke-width="4.1"/>
<circle cx="1735.17" cy="884.82" r="3.25" fill="none" stroke="#000" stroke-width="4.1"/>
<circle cx="1738.61" cy="891.29" r="3.25" fill="none" stroke="#000" stroke-width="4.1"/>
<rect x="1763.35" y="843.42" width="25.6" height="67.78" fill="#fff" stroke="#1397f0" stroke-width="4"/>
<line x1="1776.15" y1="835.26" x2="1776.15" y2="850.34" stroke="#1397f0" stroke-width="4.1"/>
<line x1="1769.55" y1="835.26" x2="1782.75" y2="835.26" stroke="#1397f0" stroke-width="4" stroke-linecap="round"/>
<line x1="1769.55" y1="850.34" x2="1782.75" y2="850.34" stroke="#1397f0" stroke-width="4" stroke-linecap="round"/>
<circle cx="1776.11" cy="825.34" r="3.25" fill="none" stroke="#1397f0" stroke-width="4.1"/>
<circle cx="1773.96" cy="837.41" r="3.25" fill="none" stroke="#1397f0" stroke-width="4.1"/>
<circle cx="1776.11" cy="850.34" r="3.25" fill="none" stroke="#1397f0" stroke-width="4.1"/>
<circle cx="1776.11" cy="861.12" r="3.25" fill="none" stroke="#1397f0" stroke-width="4.1"/>
<circle cx="1776.11" cy="867.58" r="3.25" fill="none" stroke="#1397f0" stroke-width="4.1"/>
<line x1="1739.05" y1="633" x2="1774.45" y2="633" stroke="#000" stroke-width="2.6"/>
<text x="1756.75" y="637.7" font-size="38" text-anchor="middle">**</text>
<text text-anchor="end" transform="translate(1765.3 960.8) rotate(-15.2)" font-size="32.2">Uqcrc1</text>
<line x1="1859.5" y1="911.5" x2="1859.5" y2="927" stroke="#000" stroke-width="4"/>
<rect x="1828.1" y="882.21" width="25.6" height="28.99" fill="#fff" stroke="#000" stroke-width="4"/>
<line x1="1840.9" y1="877.07" x2="1840.9" y2="883.96" stroke="#000" stroke-width="4.1"/>
<line x1="1834.3" y1="877.07" x2="1847.5" y2="877.07" stroke="#000" stroke-width="4" stroke-linecap="round"/>
<line x1="1834.3" y1="883.96" x2="1847.5" y2="883.96" stroke="#000" stroke-width="4" stroke-linecap="round"/>
<circle cx="1848.96" cy="871.89" r="3.25" fill="none" stroke="#000" stroke-width="4.1"/>
<circle cx="1833.88" cy="878.36" r="3.25" fill="none" stroke="#000" stroke-width="4.1"/>
<circle cx="1841.64" cy="881.38" r="3.25" fill="none" stroke="#000" stroke-width="4.1"/>
<circle cx="1845.52" cy="882.67" r="3.25" fill="none" stroke="#000" stroke-width="4.1"/>
<circle cx="1836.03" cy="890" r="3.25" fill="none" stroke="#000" stroke-width="4.1"/>
<rect x="1866.1" y="807.65" width="25.6" height="103.55" fill="#fff" stroke="#1397f0" stroke-width="4"/>
<line x1="1878.9" y1="793.45" x2="1878.9" y2="820.17" stroke="#1397f0" stroke-width="4.1"/>
<line x1="1872.3" y1="793.45" x2="1885.5" y2="793.45" stroke="#1397f0" stroke-width="4" stroke-linecap="round"/>
<line x1="1872.3" y1="820.17" x2="1885.5" y2="820.17" stroke="#1397f0" stroke-width="4" stroke-linecap="round"/>
<circle cx="1874.83" cy="782.24" r="3.25" fill="none" stroke="#1397f0" stroke-width="4.1"/>
<circle cx="1884.31" cy="786.98" r="3.25" fill="none" stroke="#1397f0" stroke-width="4.1"/>
<circle cx="1879.57" cy="798.62" r="3.25" fill="none" stroke="#1397f0" stroke-width="4.1"/>
<circle cx="1879.57" cy="810.69" r="3.25" fill="none" stroke="#1397f0" stroke-width="4.1"/>
<circle cx="1879.57" cy="856.81" r="3.25" fill="none" stroke="#1397f0" stroke-width="4.1"/>
<line x1="1841.8" y1="633" x2="1877.2" y2="633" stroke="#000" stroke-width="2.6"/>
<text x="1859.5" y="637.7" font-size="38" text-anchor="middle">**</text>
<text text-anchor="end" transform="translate(1868.4 959.8) rotate(-15.2)" font-size="32.2">Uqcrfs1</text>
<line x1="1962.25" y1="911.5" x2="1962.25" y2="927" stroke="#000" stroke-width="4"/>
<rect x="1930.85" y="883.08" width="25.6" height="28.12" fill="#fff" stroke="#000" stroke-width="4"/>
<line x1="1943.65" y1="878.36" x2="1943.65" y2="884.82" stroke="#000" stroke-width="4.1"/>
<line x1="1937.05" y1="878.36" x2="1950.25" y2="878.36" stroke="#000" stroke-width="4" stroke-linecap="round"/>
<line x1="1937.05" y1="884.82" x2="1950.25" y2="884.82" stroke="#000" stroke-width="4" stroke-linecap="round"/>
<circle cx="1938.62" cy="871.89" r="3.25" fill="none" stroke="#000" stroke-width="4.1"/>
<circle cx="1947.24" cy="877.5" r="3.25" fill="none" stroke="#000" stroke-width="4.1"/>
<circle cx="1941.64" cy="882.67" r="3.25" fill="none" stroke="#000" stroke-width="4.1"/>
<circle cx="1950.26" cy="883.96" r="3.25" fill="none" stroke="#000" stroke-width="4.1"/>
<circle cx="1944.22" cy="890" r="3.25" fill="none" stroke="#000" stroke-width="4.1"/>
<rect x="1968.85" y="854.2" width="25.6" height="57" fill="#fff" stroke="#1397f0" stroke-width="4"/>
<line x1="1981.65" y1="845.17" x2="1981.65" y2="861.12" stroke="#1397f0" stroke-width="4.1"/>
<line x1="1975.05" y1="845.17" x2="1988.25" y2="845.17" stroke="#1397f0" stroke-width="4" stroke-linecap="round"/>
<line x1="1975.05" y1="861.12" x2="1988.25" y2="861.12" stroke="#1397f0" stroke-width="4" stroke-linecap="round"/>
<circle cx="1986.89" cy="834.39" r="3.25" fill="none" stroke="#1397f0" stroke-width="4.1"/>
<circle cx="1977.41" cy="841.72" r="3.25" fill="none" stroke="#1397f0" stroke-width="4.1"/>
<circle cx="1982.58" cy="856.81" r="3.25" fill="none" stroke="#1397f0" stroke-width="4.1"/>
<circle cx="1986.89" cy="858.96" r="3.25" fill="none" stroke="#1397f0" stroke-width="4.1"/>
<circle cx="1977.41" cy="858.96" r="3.25" fill="none" stroke="#1397f0" stroke-width="4.1"/>
<circle cx="1982.58" cy="873.19" r="3.25" fill="none" stroke="#1397f0" stroke-width="4.1"/>
<line x1="1942.85" y1="633" x2="1978.25" y2="633" stroke="#000" stroke-width="2.6"/>
<text x="1960.55" y="637.7" font-size="38" text-anchor="middle">**</text>
<text text-anchor="end" transform="translate(1974.8 960.8) rotate(-15.2)" font-size="32.2">Cox4i1</text>
<line x1="2065" y1="911.5" x2="2065" y2="927" stroke="#000" stroke-width="4"/>
<rect x="2033.6" y="883.08" width="25.6" height="28.12" fill="#fff" stroke="#000" stroke-width="4"/>
<line x1="2046.4" y1="878.36" x2="2046.4" y2="884.82" stroke="#000" stroke-width="4.1"/>
<line x1="2039.8" y1="878.36" x2="2053" y2="878.36" stroke="#000" stroke-width="4" stroke-linecap="round"/>
<line x1="2039.8" y1="884.82" x2="2053" y2="884.82" stroke="#000" stroke-width="4" stroke-linecap="round"/>
<circle cx="2046.38" cy="869.74" r="3.25" fill="none" stroke="#000" stroke-width="4.1"/>
<circle cx="2042.93" cy="882.67" r="3.25" fill="none" stroke="#000" stroke-width="4.1"/>
<circle cx="2051.55" cy="882.67" r="3.25" fill="none" stroke="#000" stroke-width="4.1"/>
<circle cx="2047.24" cy="884.82" r="3.25" fill="none" stroke="#000" stroke-width="4.1"/>
<circle cx="2041.64" cy="891.29" r="3.25" fill="none" stroke="#000" stroke-width="4.1"/>
<rect x="2071.6" y="848.16" width="25.6" height="63.04" fill="#fff" stroke="#1397f0" stroke-width="4"/>
<line x1="2084.4" y1="837.41" x2="2084.4" y2="855.51" stroke="#1397f0" stroke-width="4.1"/>
<line x1="2077.8" y1="837.41" x2="2091" y2="837.41" stroke="#1397f0" stroke-width="4" stroke-linecap="round"/>
<line x1="2077.8" y1="855.51" x2="2091" y2="855.51" stroke="#1397f0" stroke-width="4" stroke-linecap="round"/>
<circle cx="2089.48" cy="827.5" r="3.25" fill="none" stroke="#1397f0" stroke-width="4.1"/>
<circle cx="2081.72" cy="833.1" r="3.25" fill="none" stroke="#1397f0" stroke-width="4.1"/>
<circle cx="2085.17" cy="846.03" r="3.25" fill="none" stroke="#1397f0" stroke-width="4.1"/>
<circle cx="2089.48" cy="853.79" r="3.25" fill="none" stroke="#1397f0" stroke-width="4.1"/>
<circle cx="2085.17" cy="876.2" r="3.25" fill="none" stroke="#1397f0" stroke-width="4.1"/>
<line x1="2047.3" y1="633" x2="2082.7" y2="633" stroke="#000" stroke-width="2.6"/>
<text x="2065" y="637.7" font-size="38" text-anchor="middle">**</text>
<text text-anchor="end" transform="translate(2079.6 960.8) rotate(-15.2)" font-size="32.2">Cox7b</text>
<line x1="2167.75" y1="911.5" x2="2167.75" y2="927" stroke="#000" stroke-width="4"/>
<rect x="2136.35" y="886.52" width="25.6" height="24.68" fill="#fff" stroke="#000" stroke-width="4"/>
<line x1="2149.15" y1="882.67" x2="2149.15" y2="888.27" stroke="#000" stroke-width="4.1"/>
<line x1="2142.55" y1="882.67" x2="2155.75" y2="882.67" stroke="#000" stroke-width="4" stroke-linecap="round"/>
<line x1="2142.55" y1="888.27" x2="2155.75" y2="888.27" stroke="#000" stroke-width="4" stroke-linecap="round"/>
<circle cx="2144.22" cy="874.05" r="3.25" fill="none" stroke="#000" stroke-width="4.1"/>
<circle cx="2151.55" cy="881.38" r="3.25" fill="none" stroke="#000" stroke-width="4.1"/>
<circle cx="2146.38" cy="888.27" r="3.25" fill="none" stroke="#000" stroke-width="4.1"/>
<circle cx="2155" cy="888.27" r="3.25" fill="none" stroke="#000" stroke-width="4.1"/>
<circle cx="2149.82" cy="891.29" r="3.25" fill="none" stroke="#000" stroke-width="4.1"/>
<circle cx="2157.15" cy="891.29" r="3.25" fill="none" stroke="#000" stroke-width="4.1"/>
<rect x="2174.35" y="859.37" width="25.6" height="51.83" fill="#fff" stroke="#1397f0" stroke-width="4"/>
<line x1="2187.15" y1="853.79" x2="2187.15" y2="861.12" stroke="#1397f0" stroke-width="4.1"/>
<line x1="2180.55" y1="853.79" x2="2193.75" y2="853.79" stroke="#1397f0" stroke-width="4" stroke-linecap="round"/>
<line x1="2180.55" y1="861.12" x2="2193.75" y2="861.12" stroke="#1397f0" stroke-width="4" stroke-linecap="round"/>
<circle cx="2187.75" cy="848.19" r="3.25" fill="none" stroke="#1397f0" stroke-width="4.1"/>
<circle cx="2180.86" cy="856.81" r="3.25" fill="none" stroke="#1397f0" stroke-width="4.1"/>
<circle cx="2193.79" cy="856.81" r="3.25" fill="none" stroke="#1397f0" stroke-width="4.1"/>
<circle cx="2187.75" cy="858.96" r="3.25" fill="none" stroke="#1397f0" stroke-width="4.1"/>
<circle cx="2184.31" cy="864.13" r="3.25" fill="none" stroke="#1397f0" stroke-width="4.1"/>
<line x1="2148.05" y1="633" x2="2183.45" y2="633" stroke="#000" stroke-width="2.6"/>
<text x="2165.75" y="637.7" font-size="38" text-anchor="middle">***</text>
<text text-anchor="end" transform="translate(2187.3 960.8) rotate(-15.2)" font-size="32.2">Atp5o</text>
<line x1="2270.5" y1="911.5" x2="2270.5" y2="927" stroke="#000" stroke-width="4"/>
<rect x="2239.1" y="886.52" width="25.6" height="24.68" fill="#fff" stroke="#000" stroke-width="4"/>
<line x1="2251.9" y1="880.51" x2="2251.9" y2="891.29" stroke="#000" stroke-width="4.1"/>
<line x1="2245.3" y1="880.51" x2="2258.5" y2="880.51" stroke="#000" stroke-width="4" stroke-linecap="round"/>
<line x1="2245.3" y1="891.29" x2="2258.5" y2="891.29" stroke="#000" stroke-width="4" stroke-linecap="round"/>
<circle cx="2256.29" cy="874.05" r="3.25" fill="none" stroke="#000" stroke-width="4.1"/>
<circle cx="2242.06" cy="879.22" r="3.25" fill="none" stroke="#000" stroke-width="4.1"/>
<circle cx="2249.82" cy="884.82" r="3.25" fill="none" stroke="#000" stroke-width="4.1"/>
<circle cx="2256.29" cy="884.82" r="3.25" fill="none" stroke="#000" stroke-width="4.1"/>
<circle cx="2251.98" cy="903.36" r="3.25" fill="none" stroke="#000" stroke-width="4.1"/>
<rect x="2277.1" y="711.96" width="25.6" height="199.24" fill="#fff" stroke="#1397f0" stroke-width="4"/>
<line x1="2289.9" y1="638.27" x2="2289.9" y2="783.53" stroke="#1397f0" stroke-width="4.1"/>
<line x1="2283.3" y1="638.27" x2="2296.5" y2="638.27" stroke="#1397f0" stroke-width="4" stroke-linecap="round"/>
<line x1="2283.3" y1="783.53" x2="2296.5" y2="783.53" stroke="#1397f0" stroke-width="4" stroke-linecap="round"/>
<circle cx="2285.17" cy="758.96" r="3.25" fill="none" stroke="#1397f0" stroke-width="4.1"/>
<circle cx="2295.08" cy="756.38" r="3.25" fill="none" stroke="#1397f0" stroke-width="4.1"/>
<circle cx="2290.77" cy="773.62" r="3.25" fill="none" stroke="#1397f0" stroke-width="4.1"/>
<circle cx="2290.77" cy="836.55" r="3.25" fill="none" stroke="#1397f0" stroke-width="4.1"/>
<line x1="2256.5" y1="633" x2="2291.9" y2="633" stroke="#000" stroke-width="2.6"/>
<text x="2274.2" y="637.7" font-size="38" text-anchor="middle">**</text>
<text text-anchor="end" transform="translate(2290.8 962.8) rotate(-15.2)" font-size="32.2">Atp5a1</text>
<line x1="1198.8" y1="609.1" x2="1198.8" y2="913.5" stroke="#000" stroke-width="4"/>
<line x1="1182" y1="911.5" x2="2321.8" y2="911.5" stroke="#000" stroke-width="4"/>
<line x1="1182" y1="911.5" x2="1198.8" y2="911.5" stroke="#000" stroke-width="4"/>
<text x="1177.5" y="923.1" font-size="33" text-anchor="end">0</text>
<line x1="1182" y1="851.42" x2="1198.8" y2="851.42" stroke="#000" stroke-width="4"/>
<text x="1177.5" y="863.02" font-size="33" text-anchor="end">2</text>
<line x1="1182" y1="791.34" x2="1198.8" y2="791.34" stroke="#000" stroke-width="4"/>
<text x="1177.5" y="802.94" font-size="33" text-anchor="end">4</text>
<line x1="1182" y1="731.26" x2="1198.8" y2="731.26" stroke="#000" stroke-width="4"/>
<text x="1177.5" y="742.86" font-size="33" text-anchor="end">6</text>
<line x1="1182" y1="671.18" x2="1198.8" y2="671.18" stroke="#000" stroke-width="4"/>
<text x="1177.5" y="682.78" font-size="33" text-anchor="end">8</text>
<line x1="1182" y1="611.1" x2="1198.8" y2="611.1" stroke="#000" stroke-width="4"/>
<text x="1177.5" y="622.7" font-size="33" text-anchor="end">10</text>
<rect x="1194.2" y="996.4" width="212.2" height="10.5" fill="url(#cb1)" stroke="#111" stroke-width="1.6"/>
<rect x="1484.7" y="996.4" width="165.2" height="10.5" fill="url(#cb2)" stroke="#111" stroke-width="1.6"/>
<rect x="1681.2" y="996.4" width="164.4" height="10.5" fill="url(#cb3)" stroke="#111" stroke-width="1.6"/>
<rect x="1888.6" y="996.4" width="165.2" height="10.5" fill="url(#cb4)" stroke="#111" stroke-width="1.6"/>
<rect x="2108.4" y="996.4" width="165.2" height="10.5" fill="url(#cb5)" stroke="#111" stroke-width="1.6"/>
<text x="1310.6" y="1045.3" font-size="32.5" text-anchor="middle">Com I</text>
<text x="1567" y="1045.3" font-size="32.5" text-anchor="middle">Com II</text>
<text x="1761.5" y="1045.3" font-size="32.5" text-anchor="middle">Com III</text>
<text x="1974.6" y="1045.3" font-size="32.5" text-anchor="middle">Com IV</text>
<text x="2188" y="1045.3" font-size="32.5" text-anchor="middle">Com V</text>
<circle cx="2333.3" cy="650.8" r="6.3" fill="none" stroke="#aaaaaa" stroke-width="3.6"/>
<text x="2354.5" y="662.3" font-size="32">WT</text>
<circle cx="2333.3" cy="696" r="6.3" fill="none" stroke="#1397f0" stroke-width="3.6"/>
<text x="2354.5" y="707.5" font-size="32">D1KO</text>
</g>
<g id="panelB">
<text x="222.5" y="704" font-size="50" font-weight="bold">B</text>
<text x="391" y="689.3" font-size="31" text-anchor="middle">WT</text>
<text x="538.2" y="689.3" font-size="31" text-anchor="middle">D1-Tg</text>
<g stroke="#a9a9a9" stroke-width="0.6">
<rect x="320.1" y="721.5" width="43.35" height="18" fill="#fddbc7"/>
<rect x="363.45" y="721.5" width="43.35" height="18" fill="#fae9df"/>
<rect x="406.8" y="721.5" width="43.35" height="18" fill="#a9152a"/>
<rect x="472.4" y="721.5" width="43.35" height="18" fill="#3f8dc0"/>
<rect x="515.75" y="721.5" width="43.35" height="18" fill="#a2cde2"/>
<rect x="559.1" y="721.5" width="43.35" height="18" fill="#d1e5f0"/>
<rect x="320.1" y="739.5" width="43.35" height="18" fill="#f4a582"/>
<rect x="363.45" y="739.5" width="43.35" height="18" fill="#f6b293"/>
<rect x="406.8" y="739.5" width="43.35" height="18" fill="#d6604d"/>
<rect x="472.4" y="739.5" width="43.35" height="18" fill="#74b2d4"/>
<rect x="515.75" y="739.5" width="43.35" height="18" fill="#9ac9e0"/>
<rect x="559.1" y="739.5" width="43.35" height="18" fill="#61a6cd"/>
<rect x="320.1" y="757.5" width="43.35" height="18" fill="#c43c3c"/>
<rect x="363.45" y="757.5" width="43.35" height="18" fill="#fcdecd"/>
<rect x="406.8" y="757.5" width="43.35" height="18" fill="#f6b293"/>
<rect x="472.4" y="757.5" width="43.35" height="18" fill="#327db8"/>
<rect x="515.75" y="757.5" width="43.35" height="18" fill="#aad1e5"/>
<rect x="559.1" y="757.5" width="43.35" height="18" fill="#d1e5f0"/>
<rect x="320.1" y="775.5" width="43.35" height="18" fill="#9f1228"/>
<rect x="363.45" y="775.5" width="43.35" height="18" fill="#fac7ad"/>
<rect x="406.8" y="775.5" width="43.35" height="18" fill="#fae9df"/>
<rect x="472.4" y="775.5" width="43.35" height="18" fill="#74b2d4"/>
<rect x="515.75" y="775.5" width="43.35" height="18" fill="#92c5de"/>
<rect x="559.1" y="775.5" width="43.35" height="18" fill="#a2cde2"/>
<rect x="320.1" y="793.5" width="43.35" height="18" fill="#f4a582"/>
<rect x="363.45" y="793.5" width="43.35" height="18" fill="#f9ece5"/>
<rect x="406.8" y="793.5" width="43.35" height="18" fill="#bb2a34"/>
<rect x="472.4" y="793.5" width="43.35" height="18" fill="#6aacd0"/>
<rect x="515.75" y="793.5" width="43.35" height="18" fill="#88bfdb"/>
<rect x="559.1" y="793.5" width="43.35" height="18" fill="#aad1e5"/>
<rect x="320.1" y="811.5" width="43.35" height="18" fill="#c43c3c"/>
<rect x="363.45" y="811.5" width="43.35" height="18" fill="#fcdecd"/>
<rect x="406.8" y="811.5" width="43.35" height="18" fill="#f6b293"/>
<rect x="472.4" y="811.5" width="43.35" height="18" fill="#88bfdb"/>
<rect x="515.75" y="811.5" width="43.35" height="18" fill="#d6e7f1"/>
<rect x="559.1" y="811.5" width="43.35" height="18" fill="#3a88bd"/>
<rect x="320.1" y="829.5" width="43.35" height="18" fill="#c03338"/>
<rect x="363.45" y="829.5" width="43.35" height="18" fill="#fbe6d9"/>
<rect x="406.8" y="829.5" width="43.35" height="18" fill="#f6b293"/>
<rect x="472.4" y="829.5" width="43.35" height="18" fill="#327db8"/>
<rect x="515.75" y="829.5" width="43.35" height="18" fill="#b9d9e9"/>
<rect x="559.1" y="829.5" width="43.35" height="18" fill="#c9e1ee"/>
<rect x="320.1" y="847.5" width="43.35" height="18" fill="#f4a582"/>
<rect x="363.45" y="847.5" width="43.35" height="18" fill="#f6b293"/>
<rect x="406.8" y="847.5" width="43.35" height="18" fill="#e17a61"/>
<rect x="472.4" y="847.5" width="43.35" height="18" fill="#4d99c6"/>
<rect x="515.75" y="847.5" width="43.35" height="18" fill="#a2cde2"/>
<rect x="559.1" y="847.5" width="43.35" height="18" fill="#7eb8d7"/>
<rect x="320.1" y="865.5" width="43.35" height="18" fill="#f6b293"/>
<rect x="363.45" y="865.5" width="43.35" height="18" fill="#fae9df"/>
<rect x="406.8" y="865.5" width="43.35" height="18" fill="#c03338"/>
<rect x="472.4" y="865.5" width="43.35" height="18" fill="#327db8"/>
<rect x="515.75" y="865.5" width="43.35" height="18" fill="#daeaf2"/>
<rect x="559.1" y="865.5" width="43.35" height="18" fill="#a2cde2"/>
<rect x="320.1" y="883.5" width="43.35" height="18" fill="#e58268"/>
<rect x="363.45" y="883.5" width="43.35" height="18" fill="#fcd4be"/>
<rect x="406.8" y="883.5" width="43.35" height="18" fill="#d6604d"/>
<rect x="472.4" y="883.5" width="43.35" height="18" fill="#4393c3"/>
<rect x="515.75" y="883.5" width="43.35" height="18" fill="#92c5de"/>
<rect x="559.1" y="883.5" width="43.35" height="18" fill="#a2cde2"/>
<rect x="320.1" y="901.5" width="43.35" height="18" fill="#b6212f"/>
<rect x="363.45" y="901.5" width="43.35" height="18" fill="#fbceb6"/>
<rect x="406.8" y="901.5" width="43.35" height="18" fill="#fbceb6"/>
<rect x="472.4" y="901.5" width="43.35" height="18" fill="#4d99c6"/>
<rect x="515.75" y="901.5" width="43.35" height="18" fill="#92c5de"/>
<rect x="559.1" y="901.5" width="43.35" height="18" fill="#b2d5e7"/>
<rect x="320.1" y="919.5" width="43.35" height="18" fill="#b6212f"/>
<rect x="363.45" y="919.5" width="43.35" height="18" fill="#fac7ad"/>
<rect x="406.8" y="919.5" width="43.35" height="18" fill="#fce2d3"/>
<rect x="472.4" y="919.5" width="43.35" height="18" fill="#4393c3"/>
<rect x="515.75" y="919.5" width="43.35" height="18" fill="#7eb8d7"/>
<rect x="559.1" y="919.5" width="43.35" height="18" fill="#d6e7f1"/>
<rect x="320.1" y="937.5" width="43.35" height="18" fill="#f09c7b"/>
<rect x="363.45" y="937.5" width="43.35" height="18" fill="#fcdecd"/>
<rect x="406.8" y="937.5" width="43.35" height="18" fill="#cd4e44"/>
<rect x="472.4" y="937.5" width="43.35" height="18" fill="#3f8dc0"/>
<rect x="515.75" y="937.5" width="43.35" height="18" fill="#d1e5f0"/>
<rect x="559.1" y="937.5" width="43.35" height="18" fill="#88bfdb"/>
<rect x="320.1" y="955.5" width="43.35" height="18" fill="#f6b293"/>
<rect x="363.45" y="955.5" width="43.35" height="18" fill="#f4a582"/>
<rect x="406.8" y="955.5" width="43.35" height="18" fill="#de715a"/>
<rect x="472.4" y="955.5" width="43.35" height="18" fill="#61a6cd"/>
<rect x="515.75" y="955.5" width="43.35" height="18" fill="#88bfdb"/>
<rect x="559.1" y="955.5" width="43.35" height="18" fill="#7eb8d7"/>
<rect x="320.1" y="973.5" width="43.35" height="18" fill="#f4a582"/>
<rect x="363.45" y="973.5" width="43.35" height="18" fill="#f4a582"/>
<rect x="406.8" y="973.5" width="43.35" height="18" fill="#e98b6e"/>
<rect x="472.4" y="973.5" width="43.35" height="18" fill="#74b2d4"/>
<rect x="515.75" y="973.5" width="43.35" height="18" fill="#88bfdb"/>
<rect x="559.1" y="973.5" width="43.35" height="18" fill="#74b2d4"/>
<rect x="320.1" y="991.5" width="43.35" height="18" fill="#d6604d"/>
<rect x="363.45" y="991.5" width="43.35" height="18" fill="#fcdecd"/>
<rect x="406.8" y="991.5" width="43.35" height="18" fill="#ec9475"/>
<rect x="472.4" y="991.5" width="43.35" height="18" fill="#3f8dc0"/>
<rect x="515.75" y="991.5" width="43.35" height="18" fill="#c1ddec"/>
<rect x="559.1" y="991.5" width="43.35" height="18" fill="#88bfdb"/>
<rect x="320.1" y="1009.5" width="43.35" height="18" fill="#f7b99c"/>
<rect x="363.45" y="1009.5" width="43.35" height="18" fill="#fce2d3"/>
<rect x="406.8" y="1009.5" width="43.35" height="18" fill="#c43c3c"/>
<rect x="472.4" y="1009.5" width="43.35" height="18" fill="#2e77b5"/>
<rect x="515.75" y="1009.5" width="43.35" height="18" fill="#daeaf2"/>
<rect x="559.1" y="1009.5" width="43.35" height="18" fill="#a2cde2"/>
<rect x="320.1" y="1027.5" width="43.35" height="18" fill="#cd4e44"/>
<rect x="363.45" y="1027.5" width="43.35" height="18" fill="#fcdecd"/>
<rect x="406.8" y="1027.5" width="43.35" height="18" fill="#f4a582"/>
<rect x="472.4" y="1027.5" width="43.35" height="18" fill="#3f8dc0"/>
<rect x="515.75" y="1027.5" width="43.35" height="18" fill="#92c5de"/>
<rect x="559.1" y="1027.5" width="43.35" height="18" fill="#b9d9e9"/>
<rect x="320.1" y="1045.5" width="43.35" height="18" fill="#f7b99c"/>
<rect x="363.45" y="1045.5" width="43.35" height="18" fill="#f6b293"/>
<rect x="406.8" y="1045.5" width="43.35" height="18" fill="#d6604d"/>
<rect x="472.4" y="1045.5" width="43.35" height="18" fill="#7eb8d7"/>
<rect x="515.75" y="1045.5" width="43.35" height="18" fill="#7eb8d7"/>
<rect x="559.1" y="1045.5" width="43.35" height="18" fill="#88bfdb"/>
<rect x="320.1" y="1063.5" width="43.35" height="18" fill="#e17a61"/>
<rect x="363.45" y="1063.5" width="43.35" height="18" fill="#fddbc7"/>
<rect x="406.8" y="1063.5" width="43.35" height="18" fill="#e17a61"/>
<rect x="472.4" y="1063.5" width="43.35" height="18" fill="#4d99c6"/>
<rect x="515.75" y="1063.5" width="43.35" height="18" fill="#a2cde2"/>
<rect x="559.1" y="1063.5" width="43.35" height="18" fill="#92c5de"/>
<rect x="320.1" y="1091.7" width="43.35" height="18" fill="#f4a582"/>
<rect x="363.45" y="1091.7" width="43.35" height="18" fill="#ec9475"/>
<rect x="406.8" y="1091.7" width="43.35" height="18" fill="#e98b6e"/>
<rect x="472.4" y="1091.7" width="43.35" height="18" fill="#57a0ca"/>
<rect x="515.75" y="1091.7" width="43.35" height="18" fill="#92c5de"/>
<rect x="559.1" y="1091.7" width="43.35" height="18" fill="#88bfdb"/>
<rect x="320.1" y="1109.7" width="43.35" height="18" fill="#f09c7b"/>
<rect x="363.45" y="1109.7" width="43.35" height="18" fill="#fbceb6"/>
<rect x="406.8" y="1109.7" width="43.35" height="18" fill="#d6604d"/>
<rect x="472.4" y="1109.7" width="43.35" height="18" fill="#74b2d4"/>
<rect x="515.75" y="1109.7" width="43.35" height="18" fill="#9ac9e0"/>
<rect x="559.1" y="1109.7" width="43.35" height="18" fill="#61a6cd"/>
<rect x="320.1" y="1127.7" width="43.35" height="18" fill="#f4a582"/>
<rect x="363.45" y="1127.7" width="43.35" height="18" fill="#ec9475"/>
<rect x="406.8" y="1127.7" width="43.35" height="18" fill="#ec9475"/>
<rect x="472.4" y="1127.7" width="43.35" height="18" fill="#61a6cd"/>
<rect x="515.75" y="1127.7" width="43.35" height="18" fill="#92c5de"/>
<rect x="559.1" y="1127.7" width="43.35" height="18" fill="#7eb8d7"/>
<rect x="320.1" y="1145.7" width="43.35" height="18" fill="#fddbc7"/>
<rect x="363.45" y="1145.7" width="43.35" height="18" fill="#f4a582"/>
<rect x="406.8" y="1145.7" width="43.35" height="18" fill="#cd4e44"/>
<rect x="472.4" y="1145.7" width="43.35" height="18" fill="#3a88bd"/>
<rect x="515.75" y="1145.7" width="43.35" height="18" fill="#d1e5f0"/>
<rect x="559.1" y="1145.7" width="43.35" height="18" fill="#7eb8d7"/>
<rect x="320.1" y="1173.9" width="43.35" height="18" fill="#de715a"/>
<rect x="363.45" y="1173.9" width="43.35" height="18" fill="#f7b99c"/>
<rect x="406.8" y="1173.9" width="43.35" height="18" fill="#f4a582"/>
<rect x="472.4" y="1173.9" width="43.35" height="18" fill="#3f8dc0"/>
<rect x="515.75" y="1173.9" width="43.35" height="18" fill="#92c5de"/>
<rect x="559.1" y="1173.9" width="43.35" height="18" fill="#9ac9e0"/>
<rect x="320.1" y="1191.9" width="43.35" height="18" fill="#f4a582"/>
<rect x="363.45" y="1191.9" width="43.35" height="18" fill="#f6b293"/>
<rect x="406.8" y="1191.9" width="43.35" height="18" fill="#da6954"/>
<rect x="472.4" y="1191.9" width="43.35" height="18" fill="#3f8dc0"/>
<rect x="515.75" y="1191.9" width="43.35" height="18" fill="#b9d9e9"/>
<rect x="559.1" y="1191.9" width="43.35" height="18" fill="#88bfdb"/>
<rect x="320.1" y="1209.9" width="43.35" height="18" fill="#ec9475"/>
<rect x="363.45" y="1209.9" width="43.35" height="18" fill="#f5ac8b"/>
<rect x="406.8" y="1209.9" width="43.35" height="18" fill="#de715a"/>
<rect x="472.4" y="1209.9" width="43.35" height="18" fill="#61a6cd"/>
<rect x="515.75" y="1209.9" width="43.35" height="18" fill="#88bfdb"/>
<rect x="559.1" y="1209.9" width="43.35" height="18" fill="#74b2d4"/>
<rect x="320.1" y="1227.9" width="43.35" height="18" fill="#da6954"/>
<rect x="363.45" y="1227.9" width="43.35" height="18" fill="#fddbc7"/>
<rect x="406.8" y="1227.9" width="43.35" height="18" fill="#da6954"/>
<rect x="472.4" y="1227.9" width="43.35" height="18" fill="#a2cde2"/>
<rect x="515.75" y="1227.9" width="43.35" height="18" fill="#74b2d4"/>
<rect x="559.1" y="1227.9" width="43.35" height="18" fill="#61a6cd"/>
<rect x="320.1" y="1256.2" width="43.35" height="18" fill="#f4a582"/>
<rect x="363.45" y="1256.2" width="43.35" height="18" fill="#f09c7b"/>
<rect x="406.8" y="1256.2" width="43.35" height="18" fill="#f4a582"/>
<rect x="472.4" y="1256.2" width="43.35" height="18" fill="#327db8"/>
<rect x="515.75" y="1256.2" width="43.35" height="18" fill="#d6e7f1"/>
<rect x="559.1" y="1256.2" width="43.35" height="18" fill="#6aacd0"/>
<rect x="320.1" y="1274.2" width="43.35" height="18" fill="#da6954"/>
<rect x="363.45" y="1274.2" width="43.35" height="18" fill="#f8c0a4"/>
<rect x="406.8" y="1274.2" width="43.35" height="18" fill="#f09c7b"/>
<rect x="472.4" y="1274.2" width="43.35" height="18" fill="#61a6cd"/>
<rect x="515.75" y="1274.2" width="43.35" height="18" fill="#74b2d4"/>
<rect x="559.1" y="1274.2" width="43.35" height="18" fill="#7eb8d7"/>
<rect x="320.1" y="1292.2" width="43.35" height="18" fill="#f7b99c"/>
<rect x="363.45" y="1292.2" width="43.35" height="18" fill="#fbceb6"/>
<rect x="406.8" y="1292.2" width="43.35" height="18" fill="#bb2a34"/>
<rect x="472.4" y="1292.2" width="43.35" height="18" fill="#74b2d4"/>
<rect x="515.75" y="1292.2" width="43.35" height="18" fill="#6aacd0"/>
<rect x="559.1" y="1292.2" width="43.35" height="18" fill="#9ac9e0"/>
<rect x="320.1" y="1310.2" width="43.35" height="18" fill="#a9152a"/>
<rect x="363.45" y="1310.2" width="43.35" height="18" fill="#fcdecd"/>
<rect x="406.8" y="1310.2" width="43.35" height="18" fill="#fbceb6"/>
<rect x="472.4" y="1310.2" width="43.35" height="18" fill="#4d99c6"/>
<rect x="515.75" y="1310.2" width="43.35" height="18" fill="#a2cde2"/>
<rect x="559.1" y="1310.2" width="43.35" height="18" fill="#a2cde2"/>
<rect x="320.1" y="1328.2" width="43.35" height="18" fill="#b6212f"/>
<rect x="363.45" y="1328.2" width="43.35" height="18" fill="#fddbc7"/>
<rect x="406.8" y="1328.2" width="43.35" height="18" fill="#f7b99c"/>
<rect x="472.4" y="1328.2" width="43.35" height="18" fill="#6aacd0"/>
<rect x="515.75" y="1328.2" width="43.35" height="18" fill="#92c5de"/>
<rect x="559.1" y="1328.2" width="43.35" height="18" fill="#7eb8d7"/>
<rect x="320.1" y="1346.2" width="43.35" height="18" fill="#f09c7b"/>
<rect x="363.45" y="1346.2" width="43.35" height="18" fill="#f4a582"/>
<rect x="406.8" y="1346.2" width="43.35" height="18" fill="#e17a61"/>
<rect x="472.4" y="1346.2" width="43.35" height="18" fill="#6aacd0"/>
<rect x="515.75" y="1346.2" width="43.35" height="18" fill="#88bfdb"/>
<rect x="559.1" y="1346.2" width="43.35" height="18" fill="#6aacd0"/>
<rect x="320.1" y="1364.2" width="43.35" height="18" fill="#e98b6e"/>
<rect x="363.45" y="1364.2" width="43.35" height="18" fill="#fac7ad"/>
<rect x="406.8" y="1364.2" width="43.35" height="18" fill="#da6954"/>
<rect x="472.4" y="1364.2" width="43.35" height="18" fill="#6aacd0"/>
<rect x="515.75" y="1364.2" width="43.35" height="18" fill="#92c5de"/>
<rect x="559.1" y="1364.2" width="43.35" height="18" fill="#6aacd0"/>
<rect x="320.1" y="1382.2" width="43.35" height="18" fill="#f7b99c"/>
<rect x="363.45" y="1382.2" width="43.35" height="18" fill="#de715a"/>
<rect x="406.8" y="1382.2" width="43.35" height="18" fill="#f09c7b"/>
<rect x="472.4" y="1382.2" width="43.35" height="18" fill="#57a0ca"/>
<rect x="515.75" y="1382.2" width="43.35" height="18" fill="#9ac9e0"/>
<rect x="559.1" y="1382.2" width="43.35" height="18" fill="#74b2d4"/>
<rect x="320.1" y="1410.4" width="43.35" height="18" fill="#f7b99c"/>
<rect x="363.45" y="1410.4" width="43.35" height="18" fill="#d25749"/>
<rect x="406.8" y="1410.4" width="43.35" height="18" fill="#fddbc7"/>
<rect x="472.4" y="1410.4" width="43.35" height="18" fill="#256caf"/>
<rect x="515.75" y="1410.4" width="43.35" height="18" fill="#e4eef4"/>
<rect x="559.1" y="1410.4" width="43.35" height="18" fill="#9ac9e0"/>
<rect x="320.1" y="1428.4" width="43.35" height="18" fill="#fddbc7"/>
<rect x="363.45" y="1428.4" width="43.35" height="18" fill="#f5ac8b"/>
<rect x="406.8" y="1428.4" width="43.35" height="18" fill="#c43c3c"/>
<rect x="472.4" y="1428.4" width="43.35" height="18" fill="#3682ba"/>
<rect x="515.75" y="1428.4" width="43.35" height="18" fill="#d1e5f0"/>
<rect x="559.1" y="1428.4" width="43.35" height="18" fill="#92c5de"/>
<rect x="320.1" y="1446.4" width="43.35" height="18" fill="#f4a582"/>
<rect x="363.45" y="1446.4" width="43.35" height="18" fill="#da6954"/>
<rect x="406.8" y="1446.4" width="43.35" height="18" fill="#f7b99c"/>
<rect x="472.4" y="1446.4" width="43.35" height="18" fill="#3a88bd"/>
<rect x="515.75" y="1446.4" width="43.35" height="18" fill="#a2cde2"/>
<rect x="559.1" y="1446.4" width="43.35" height="18" fill="#9ac9e0"/>
<rect x="320.1" y="1464.4" width="43.35" height="18" fill="#f09c7b"/>
<rect x="363.45" y="1464.4" width="43.35" height="18" fill="#ec9475"/>
<rect x="406.8" y="1464.4" width="43.35" height="18" fill="#f09c7b"/>
<rect x="472.4" y="1464.4" width="43.35" height="18" fill="#6aacd0"/>
<rect x="515.75" y="1464.4" width="43.35" height="18" fill="#88bfdb"/>
<rect x="559.1" y="1464.4" width="43.35" height="18" fill="#7eb8d7"/>
<rect x="320.1" y="1482.4" width="43.35" height="18" fill="#f09c7b"/>
<rect x="363.45" y="1482.4" width="43.35" height="18" fill="#f09c7b"/>
<rect x="406.8" y="1482.4" width="43.35" height="18" fill="#e98b6e"/>
<rect x="472.4" y="1482.4" width="43.35" height="18" fill="#4d99c6"/>
<rect x="515.75" y="1482.4" width="43.35" height="18" fill="#92c5de"/>
<rect x="559.1" y="1482.4" width="43.35" height="18" fill="#92c5de"/>
<rect x="320.1" y="1500.4" width="43.35" height="18" fill="#f4a582"/>
<rect x="363.45" y="1500.4" width="43.35" height="18" fill="#f5ac8b"/>
<rect x="406.8" y="1500.4" width="43.35" height="18" fill="#da6954"/>
<rect x="472.4" y="1500.4" width="43.35" height="18" fill="#61a6cd"/>
<rect x="515.75" y="1500.4" width="43.35" height="18" fill="#88bfdb"/>
<rect x="559.1" y="1500.4" width="43.35" height="18" fill="#7eb8d7"/>
<rect x="320.1" y="1518.4" width="43.35" height="18" fill="#960f26"/>
<rect x="363.45" y="1518.4" width="43.35" height="18" fill="#fddbc7"/>
<rect x="406.8" y="1518.4" width="43.35" height="18" fill="#fae9df"/>
<rect x="472.4" y="1518.4" width="43.35" height="18" fill="#74b2d4"/>
<rect x="515.75" y="1518.4" width="43.35" height="18" fill="#92c5de"/>
<rect x="559.1" y="1518.4" width="43.35" height="18" fill="#a2cde2"/>
<rect x="320.1" y="1536.4" width="43.35" height="18" fill="#f6b293"/>
<rect x="363.45" y="1536.4" width="43.35" height="18" fill="#f8c0a4"/>
<rect x="406.8" y="1536.4" width="43.35" height="18" fill="#c84540"/>
<rect x="472.4" y="1536.4" width="43.35" height="18" fill="#4d99c6"/>
<rect x="515.75" y="1536.4" width="43.35" height="18" fill="#9ac9e0"/>
<rect x="559.1" y="1536.4" width="43.35" height="18" fill="#92c5de"/>
<rect x="320.1" y="1554.4" width="43.35" height="18" fill="#a9152a"/>
<rect x="363.45" y="1554.4" width="43.35" height="18" fill="#fac7ad"/>
<rect x="406.8" y="1554.4" width="43.35" height="18" fill="#fce2d3"/>
<rect x="472.4" y="1554.4" width="43.35" height="18" fill="#6aacd0"/>
<rect x="515.75" y="1554.4" width="43.35" height="18" fill="#74b2d4"/>
<rect x="559.1" y="1554.4" width="43.35" height="18" fill="#b2d5e7"/>
<rect x="320.1" y="1572.4" width="43.35" height="18" fill="#f5ac8b"/>
<rect x="363.45" y="1572.4" width="43.35" height="18" fill="#f6b293"/>
<rect x="406.8" y="1572.4" width="43.35" height="18" fill="#d6604d"/>
<rect x="472.4" y="1572.4" width="43.35" height="18" fill="#57a0ca"/>
<rect x="515.75" y="1572.4" width="43.35" height="18" fill="#92c5de"/>
<rect x="559.1" y="1572.4" width="43.35" height="18" fill="#7eb8d7"/>
<rect x="320.1" y="1590.4" width="43.35" height="18" fill="#e58268"/>
<rect x="363.45" y="1590.4" width="43.35" height="18" fill="#fddbc7"/>
<rect x="406.8" y="1590.4" width="43.35" height="18" fill="#d6604d"/>
<rect x="472.4" y="1590.4" width="43.35" height="18" fill="#57a0ca"/>
<rect x="515.75" y="1590.4" width="43.35" height="18" fill="#92c5de"/>
<rect x="559.1" y="1590.4" width="43.35" height="18" fill="#9ac9e0"/>
<rect x="320.1" y="1608.4" width="43.35" height="18" fill="#de715a"/>
<rect x="363.45" y="1608.4" width="43.35" height="18" fill="#fbe6d9"/>
<rect x="406.8" y="1608.4" width="43.35" height="18" fill="#de715a"/>
<rect x="472.4" y="1608.4" width="43.35" height="18" fill="#2e77b5"/>
<rect x="515.75" y="1608.4" width="43.35" height="18" fill="#c1ddec"/>
<rect x="559.1" y="1608.4" width="43.35" height="18" fill="#aad1e5"/>
<rect x="320.1" y="1626.4" width="43.35" height="18" fill="#f4a582"/>
<rect x="363.45" y="1626.4" width="43.35" height="18" fill="#f8c0a4"/>
<rect x="406.8" y="1626.4" width="43.35" height="18" fill="#cd4e44"/>
<rect x="472.4" y="1626.4" width="43.35" height="18" fill="#88bfdb"/>
<rect x="515.75" y="1626.4" width="43.35" height="18" fill="#57a0ca"/>
<rect x="559.1" y="1626.4" width="43.35" height="18" fill="#9ac9e0"/>
<rect x="320.1" y="1644.4" width="43.35" height="18" fill="#e58268"/>
<rect x="363.45" y="1644.4" width="43.35" height="18" fill="#f5ac8b"/>
<rect x="406.8" y="1644.4" width="43.35" height="18" fill="#e98b6e"/>
<rect x="472.4" y="1644.4" width="43.35" height="18" fill="#61a6cd"/>
<rect x="515.75" y="1644.4" width="43.35" height="18" fill="#7eb8d7"/>
<rect x="559.1" y="1644.4" width="43.35" height="18" fill="#92c5de"/>
<rect x="320.1" y="1662.4" width="43.35" height="18" fill="#de715a"/>
<rect x="363.45" y="1662.4" width="43.35" height="18" fill="#f8c0a4"/>
<rect x="406.8" y="1662.4" width="43.35" height="18" fill="#ec9475"/>
<rect x="472.4" y="1662.4" width="43.35" height="18" fill="#61a6cd"/>
<rect x="515.75" y="1662.4" width="43.35" height="18" fill="#6aacd0"/>
<rect x="559.1" y="1662.4" width="43.35" height="18" fill="#a2cde2"/>
<rect x="320.1" y="1680.4" width="43.35" height="18" fill="#fbceb6"/>
<rect x="363.45" y="1680.4" width="43.35" height="18" fill="#f4a582"/>
<rect x="406.8" y="1680.4" width="43.35" height="18" fill="#cd4e44"/>
<rect x="472.4" y="1680.4" width="43.35" height="18" fill="#88bfdb"/>
<rect x="515.75" y="1680.4" width="43.35" height="18" fill="#3f8dc0"/>
<rect x="559.1" y="1680.4" width="43.35" height="18" fill="#b9d9e9"/>
<rect x="320.1" y="1698.4" width="43.35" height="18" fill="#fbceb6"/>
<rect x="363.45" y="1698.4" width="43.35" height="18" fill="#f4a582"/>
<rect x="406.8" y="1698.4" width="43.35" height="18" fill="#d25749"/>
<rect x="472.4" y="1698.4" width="43.35" height="18" fill="#4393c3"/>
<rect x="515.75" y="1698.4" width="43.35" height="18" fill="#d1e5f0"/>
<rect x="559.1" y="1698.4" width="43.35" height="18" fill="#6aacd0"/>
</g>
<text x="615" y="737.1" font-size="20">Ndufa1</text>
<text x="615" y="755.1" font-size="20">Ndufa10</text>
<text x="615" y="773.1" font-size="20">Ndufa12</text>
<text x="615" y="791.1" font-size="20">Ndufa13</text>
<text x="615" y="809.1" font-size="20">Ndufa4</text>
<text x="615" y="827.1" font-size="20">Ndufa4l2</text>
<text x="615" y="845.1" font-size="20">Ndufa5</text>
<text x="615" y="863.1" font-size="20">Ndufa9</text>
<text x="615" y="881.1" font-size="20">Ndufaf4</text>
<text x="615" y="899.1" font-size="20">Ndufb11</text>
<text x="615" y="917.1" font-size="20">Ndufb7</text>
<text x="615" y="935.1" font-size="20">Ndufb9</text>
<text x="615" y="953.1" font-size="20">Ndufc2</text>
<text x="614.6" y="971.1" font-size="21.3" font-weight="bold" stroke="#000" stroke-width="0.8" letter-spacing="0.9">Ndufs1</text>
<text x="614.6" y="989.1" font-size="21.3" font-weight="bold" stroke="#000" stroke-width="0.8" letter-spacing="0.9">Ndufs2</text>
<text x="615" y="1007.1" font-size="20">Ndufs3</text>
<text x="615" y="1025.1" font-size="20">Ndufs4</text>
<text x="615" y="1043.1" font-size="20">Ndufs6</text>
<text x="614.6" y="1061.1" font-size="21.3" font-weight="bold" stroke="#000" stroke-width="0.8" letter-spacing="0.9">Ndufv1</text>
<text x="615" y="1079.1" font-size="20">Ndufv2</text>
<rect x="297.8" y="729.5" width="17.2" height="338" fill="url(#hb1)" stroke="#000" stroke-width="2.2"/>
<text x="285.8" y="901.6" font-size="33" text-anchor="end">Com I</text>
<text x="614.6" y="1107.3" font-size="21.3" font-weight="bold" stroke="#000" stroke-width="0.8" letter-spacing="0.9">Sdha</text>
<text x="615" y="1125.3" font-size="20">Sdhb</text>
<text x="614.6" y="1143.3" font-size="21.3" font-weight="bold" stroke="#000" stroke-width="0.8" letter-spacing="0.9">Sdhc</text>
<text x="615" y="1161.3" font-size="20">Sdhd</text>
<rect x="297.8" y="1093.5" width="17.2" height="71" fill="url(#hb2)" stroke="#000" stroke-width="2.2"/>
<text x="285.8" y="1138.5" font-size="33" text-anchor="end">Com II</text>
<text x="614.6" y="1189.5" font-size="21.3" font-weight="bold" stroke="#000" stroke-width="0.8" letter-spacing="0.9">Uqcrc1</text>
<text x="615" y="1207.5" font-size="20">Uqcrc2</text>
<text x="614.6" y="1225.5" font-size="21.3" font-weight="bold" stroke="#000" stroke-width="0.8" letter-spacing="0.9">Uqcrfs1</text>
<text x="615" y="1243.5" font-size="20">Uqcrh</text>
<rect x="297.8" y="1180" width="17.2" height="61.5" fill="url(#hb3)" stroke="#000" stroke-width="2.2"/>
<text x="285.8" y="1225" font-size="33" text-anchor="end">Com III</text>
<text x="615" y="1271.8" font-size="20">Cox10</text>
<text x="614.6" y="1289.8" font-size="21.3" font-weight="bold" stroke="#000" stroke-width="0.8" letter-spacing="0.9">Cox4i1</text>
<text x="615" y="1307.8" font-size="20">Cox5a</text>
<text x="615" y="1325.8" font-size="20">Cox5b</text>
<text x="615" y="1343.8" font-size="20">Cox7a2</text>
<text x="614.6" y="1361.8" font-size="21.3" font-weight="bold" stroke="#000" stroke-width="0.8" letter-spacing="0.9">Cox7b</text>
<text x="615" y="1379.8" font-size="20">Cox7c</text>
<text x="615" y="1397.8" font-size="20">Lrpprc</text>
<rect x="297.8" y="1262" width="17.2" height="132.5" fill="url(#hb4)" stroke="#000" stroke-width="2.2"/>
<text x="285.8" y="1339" font-size="33" text-anchor="end">Com IV</text>
<text x="615" y="1426" font-size="20">Atp11a</text>
<text x="615" y="1444" font-size="20">Atp1b2</text>
<text x="615" y="1462" font-size="20">Atp2a2</text>
<text x="614.6" y="1480" font-size="21.3" font-weight="bold" stroke="#000" stroke-width="0.8" letter-spacing="0.9">Atp5a1</text>
<text x="615" y="1498" font-size="20">Atp5b</text>
<text x="615" y="1516" font-size="20">Atp5c1</text>
<text x="615" y="1534" font-size="20">Atp5e</text>
<text x="615" y="1552" font-size="20">Atp5f1</text>
<text x="615" y="1570" font-size="20">Atp5g1</text>
<text x="615" y="1588" font-size="20">Atp5g3</text>
<text x="615" y="1606" font-size="20">Atp5h</text>
<text x="615" y="1624" font-size="20">Atp5k</text>
<text x="615" y="1642" font-size="20">Atp5l</text>
<text x="614.6" y="1660" font-size="21.3" font-weight="bold" stroke="#000" stroke-width="0.8" letter-spacing="0.9">Atp5o</text>
<text x="615" y="1678" font-size="20">Atp6v0b</text>
<text x="615" y="1696" font-size="20">Atp6v0e2</text>
<text x="615" y="1714" font-size="20">Atp8a1</text>
<rect x="297.8" y="1411.5" width="17.2" height="295.5" fill="url(#hb5)" stroke="#000" stroke-width="2.2"/>
<text x="285.8" y="1572" font-size="33" text-anchor="end">Com V</text>
<path d="M344.21 721.5 L344.21 700.1 L388.38 700.1" fill="none" stroke="#000" stroke-width="3.8" stroke-linejoin="miter"/>
<path d="M388.38 721.5 L388.38 703.35 L432.54 703.35 L432.54 721.5" fill="none" stroke="#000" stroke-width="3.8" stroke-linejoin="miter"/>
<path d="M365.35 702.27 L388.38 702.27" fill="none" stroke="#000" stroke-width="4.5" stroke-linejoin="miter"/>
<path d="M488.62 721.5 L488.62 709.58 L510.3 709.58" fill="none" stroke="#000" stroke-width="3.8" stroke-linejoin="miter"/>
<path d="M531.97 721.5 L531.97 705.52 L575.87 705.52 L575.87 721.5" fill="none" stroke="#000" stroke-width="3.8" stroke-linejoin="miter"/>
<path d="M510.3 707.69 L531.97 707.69" fill="none" stroke="#000" stroke-width="5" stroke-linejoin="miter"/>
<rect x="752.5" y="907.7" width="40.3" height="408.2" fill="url(#rdbu)"/>
<text x="808.5" y="919.5" font-size="32">2</text>
<text x="808.5" y="1020" font-size="32">1</text>
<text x="808.5" y="1121" font-size="32">0</text>
<text x="808.5" y="1223.5" font-size="32">−1</text>
<text x="808.5" y="1326.5" font-size="32">−2</text>
</g>
<g id="panelE">
<text x="1167" y="1157.5" font-size="50" font-weight="bold">E</text>
<text x="1472.2" y="1143.3" font-size="32.7" text-anchor="middle">WT</text>
<line x1="1376.6" y1="1156" x2="1541.6" y2="1156" stroke="#000" stroke-width="2.8"/>
<text x="1655.4" y="1143.3" font-size="32.7" text-anchor="middle">D1-Tg</text>
<line x1="1566.2" y1="1156" x2="1730.9" y2="1156" stroke="#000" stroke-width="2.8"/>
<text x="1895.2" y="1143.3" font-size="32.7" text-anchor="middle">WT TAC</text>
<line x1="1813.3" y1="1156" x2="1977.9" y2="1156" stroke="#000" stroke-width="2.8"/>
<text x="2089" y="1143.3" font-size="32.7" text-anchor="middle">D1KO TAC</text>
<line x1="2007.2" y1="1156" x2="2172.3" y2="1156" stroke="#000" stroke-width="2.8"/>
<text x="1351.8" y="1240.1" font-size="32.6" text-anchor="end">Com V-ATP5a</text>
<text x="1351.8" y="1301.7" font-size="32.6" text-anchor="end">Com III-UOCRC2</text>
<text x="1351.8" y="1350" font-size="32.6" text-anchor="end">Com IV-MTCO1</text>
<text x="1351.8" y="1482.8" font-size="32.6" text-anchor="end">Com II-SDHB</text>
<text x="1351.8" y="1540.5" font-size="32.6" text-anchor="end">Com I-NDUFB8</text>
<text x="1341" y="1631.4" font-size="32.6" text-anchor="end">DYRK1B</text>
<text x="1349.5" y="1724" font-size="32.6" text-anchor="end">VDAC-1</text>
<text x="2204.5" y="1235.8" font-size="32.5">70kDa</text>
<text x="2204.5" y="1284.5" font-size="32.5">50kDa</text>
<text x="2204.5" y="1334" font-size="32.5">40kDa</text>
<text x="2204.5" y="1374.6" font-size="32.5">35kDa</text>
<text x="2204.5" y="1478.4" font-size="32.5">25kDa</text>
<text x="2204.5" y="1526.7" font-size="32.5">20kDa</text>
<text x="2204.5" y="1724" font-size="32.5">31kDa</text>
<text x="2202" y="1630.5" font-size="32.5">75kDa</text>
<g clip-path="url(#cE1)">
<rect x="1359.3" y="1169.8" width="829" height="398" fill="#f7f7f7"/>
<g filter="url(#bl12)">
<rect x="1371" y="1240" width="60" height="120" rx="30" fill="#000" fill-opacity="0.34"/>
<rect x="1375" y="1440" width="52" height="100" rx="26" fill="#000" fill-opacity="0.3"/>
<rect x="1378" y="1345" width="46" height="90" rx="23" fill="#000" fill-opacity="0.1"/>
<rect x="1431.5" y="1240" width="60" height="120" rx="30" fill="#000" fill-opacity="0.34"/>
<rect x="1435.5" y="1440" width="52" height="100" rx="26" fill="#000" fill-opacity="0.3"/>
<rect x="1438.5" y="1345" width="46" height="90" rx="23" fill="#000" fill-opacity="0.1"/>
<rect x="1494" y="1240" width="60" height="120" rx="30" fill="#000" fill-opacity="0.34"/>
<rect x="1498" y="1440" width="52" height="100" rx="26" fill="#000" fill-opacity="0.3"/>
<rect x="1501" y="1345" width="46" height="90" rx="23" fill="#000" fill-opacity="0.1"/>
<rect x="1372" y="1175" width="180" height="150" rx="75" fill="#000" fill-opacity="0.35"/>
<rect x="1375" y="1455" width="52" height="90" rx="26" fill="#000" fill-opacity="0.12"/>
<rect x="1555.5" y="1170" width="62" height="130" rx="31" fill="#000" fill-opacity="0.34"/>
<rect x="1557.5" y="1275" width="58" height="70" rx="29" fill="#000" fill-opacity="0.16"/>
<rect x="1563.5" y="1395" width="46" height="150" rx="23" fill="#000" fill-opacity="0.12"/>
<rect x="1564.5" y="1340" width="44" height="80" rx="22" fill="#000" fill-opacity="0.07"/>
<rect x="1620" y="1170" width="62" height="130" rx="31" fill="#000" fill-opacity="0.34"/>
<rect x="1622" y="1275" width="58" height="70" rx="29" fill="#000" fill-opacity="0.16"/>
<rect x="1628" y="1395" width="46" height="150" rx="23" fill="#000" fill-opacity="0.12"/>
<rect x="1629" y="1340" width="44" height="80" rx="22" fill="#000" fill-opacity="0.07"/>
<rect x="1682.6" y="1170" width="62" height="130" rx="31" fill="#000" fill-opacity="0.34"/>
<rect x="1684.6" y="1275" width="58" height="70" rx="29" fill="#000" fill-opacity="0.16"/>
<rect x="1690.6" y="1395" width="46" height="150" rx="23" fill="#000" fill-opacity="0.12"/>
<rect x="1691.6" y="1340" width="44" height="80" rx="22" fill="#000" fill-opacity="0.07"/>
<rect x="1565" y="1190" width="170" height="100" rx="50" fill="#000" fill-opacity="0.12"/>
<rect x="1800.4" y="1170" width="56" height="130" rx="28" fill="#000" fill-opacity="0.2"/>
<rect x="1801.4" y="1270" width="54" height="60" rx="27" fill="#000" fill-opacity="0.08"/>
<rect x="1806.4" y="1395" width="44" height="150" rx="22" fill="#000" fill-opacity="0.08"/>
<rect x="1806.4" y="1340" width="44" height="80" rx="22" fill="#000" fill-opacity="0.05"/>
<rect x="1862.9" y="1170" width="56" height="130" rx="28" fill="#000" fill-opacity="0.2"/>
<rect x="1863.9" y="1270" width="54" height="60" rx="27" fill="#000" fill-opacity="0.08"/>
<rect x="1868.9" y="1395" width="44" height="150" rx="22" fill="#000" fill-opacity="0.08"/>
<rect x="1868.9" y="1340" width="44" height="80" rx="22" fill="#000" fill-opacity="0.05"/>
<rect x="1927.5" y="1170" width="56" height="130" rx="28" fill="#000" fill-opacity="0.2"/>
<rect x="1928.5" y="1270" width="54" height="60" rx="27" fill="#000" fill-opacity="0.08"/>
<rect x="1933.5" y="1395" width="44" height="150" rx="22" fill="#000" fill-opacity="0.08"/>
<rect x="1933.5" y="1340" width="44" height="80" rx="22" fill="#000" fill-opacity="0.05"/>
<rect x="1989" y="1235" width="62" height="130" rx="31" fill="#000" fill-opacity="0.4"/>
<rect x="1993" y="1325" width="54" height="70" rx="27" fill="#000" fill-opacity="0.3"/>
<rect x="1994" y="1415" width="52" height="130" rx="26" fill="#000" fill-opacity="0.3"/>
<rect x="1997" y="1390" width="46" height="60" rx="23" fill="#000" fill-opacity="0.14"/>
<rect x="2051.7" y="1235" width="62" height="130" rx="31" fill="#000" fill-opacity="0.4"/>
<rect x="2055.7" y="1325" width="54" height="70" rx="27" fill="#000" fill-opacity="0.16"/>
<rect x="2056.7" y="1415" width="52" height="130" rx="26" fill="#000" fill-opacity="0.2"/>
<rect x="2059.7" y="1390" width="46" height="60" rx="23" fill="#000" fill-opacity="0.06"/>
<rect x="2116.3" y="1235" width="62" height="130" rx="31" fill="#000" fill-opacity="0.4"/>
<rect x="2120.3" y="1325" width="54" height="70" rx="27" fill="#000" fill-opacity="0.16"/>
<rect x="2121.3" y="1415" width="52" height="130" rx="26" fill="#000" fill-opacity="0.2"/>
<rect x="2124.3" y="1390" width="46" height="60" rx="23" fill="#000" fill-opacity="0.06"/>
<rect x="1989" y="1170" width="190" height="150" rx="75" fill="#000" fill-opacity="0.5"/>
</g>
<g filter="url(#bl8)">
<rect x="1559.5" y="1201" width="54" height="26" rx="13" fill="#000" fill-opacity="0.55"/>
<rect x="1560.5" y="1246" width="52" height="22" rx="11" fill="#000" fill-opacity="0.6"/>
<rect x="1624" y="1201" width="54" height="26" rx="13" fill="#000" fill-opacity="0.45"/>
<rect x="1625" y="1246" width="52" height="22" rx="11" fill="#000" fill-opacity="0.7"/>
<rect x="1686.6" y="1201" width="54" height="26" rx="13" fill="#000" fill-opacity="0.6"/>
<rect x="1687.6" y="1246" width="52" height="22" rx="11" fill="#000" fill-opacity="0.58"/>
<rect x="1802.4" y="1199" width="52" height="30" rx="15" fill="#000" fill-opacity="0.45"/>
<rect x="1802.4" y="1248" width="52" height="22" rx="11" fill="#000" fill-opacity="0.32"/>
<rect x="1864.9" y="1199" width="52" height="30" rx="15" fill="#000" fill-opacity="0.32"/>
<rect x="1864.9" y="1248" width="52" height="22" rx="11" fill="#000" fill-opacity="0.24"/>
<rect x="1929.5" y="1199" width="52" height="30" rx="15" fill="#000" fill-opacity="0.4"/>
<rect x="1929.5" y="1248" width="52" height="22" rx="11" fill="#000" fill-opacity="0.32"/>
</g>
<g filter="url(#bl5)">
<rect x="1371" y="1172" width="60" height="104" rx="22" fill="#000" fill-opacity="1"/>
<rect x="1373" y="1174" width="56" height="100" rx="22" fill="#000" fill-opacity="1"/>
<rect x="1434.5" y="1191" width="54" height="46" rx="20" fill="#000" fill-opacity="1"/>
<rect x="1434.5" y="1231" width="54" height="42" rx="20" fill="#000" fill-opacity="1"/>
<rect x="1436.5" y="1193" width="50" height="78" rx="20" fill="#000" fill-opacity="1"/>
<rect x="1438.5" y="1195" width="46" height="74" rx="20" fill="#000" fill-opacity="1"/>
<rect x="1497" y="1191" width="54" height="46" rx="20" fill="#000" fill-opacity="1"/>
<rect x="1497" y="1231" width="54" height="42" rx="20" fill="#000" fill-opacity="1"/>
<rect x="1499" y="1193" width="50" height="78" rx="20" fill="#000" fill-opacity="1"/>
<rect x="1501" y="1195" width="46" height="74" rx="20" fill="#000" fill-opacity="1"/>
<rect x="1422" y="1234" width="18" height="36" rx="9" fill="#000" fill-opacity="0.85"/>
<rect x="1424" y="1197" width="14" height="36" rx="7" fill="#000" fill-opacity="0.45"/>
<rect x="1486" y="1241" width="14" height="28" rx="7" fill="#000" fill-opacity="0.5"/>
<rect x="1374" y="1281" width="54" height="16" rx="8" fill="#000" fill-opacity="0.72"/>
<rect x="1370" y="1313.5" width="50" height="17" rx="8.5" fill="#000" fill-opacity="0.95"/>
<rect x="1437.5" y="1285" width="48" height="14" rx="7" fill="#000" fill-opacity="0.3"/>
<rect x="1436.5" y="1319" width="50" height="14" rx="7" fill="#000" fill-opacity="0.78"/>
<rect x="1500" y="1285" width="48" height="14" rx="7" fill="#000" fill-opacity="0.25"/>
<rect x="1499" y="1320" width="50" height="12" rx="6" fill="#000" fill-opacity="0.62"/>
<rect x="1566.5" y="1251" width="40" height="12" rx="6" fill="#000" fill-opacity="0.35"/>
<rect x="1559.5" y="1322.5" width="54" height="9" rx="4.5" fill="#000" fill-opacity="0.33"/>
<rect x="1561.5" y="1290" width="50" height="10" rx="5" fill="#000" fill-opacity="0.1"/>
<rect x="1631" y="1251" width="40" height="12" rx="6" fill="#000" fill-opacity="0.55"/>
<rect x="1624" y="1322.5" width="54" height="9" rx="4.5" fill="#000" fill-opacity="0.33"/>
<rect x="1626" y="1290" width="50" height="10" rx="5" fill="#000" fill-opacity="0.1"/>
<rect x="1693.6" y="1251" width="40" height="12" rx="6" fill="#000" fill-opacity="0.3"/>
<rect x="1686.6" y="1322.5" width="54" height="9" rx="4.5" fill="#000" fill-opacity="0.33"/>
<rect x="1688.6" y="1290" width="50" height="10" rx="5" fill="#000" fill-opacity="0.1"/>
<rect x="1604" y="1250" width="30" height="14" rx="7" fill="#000" fill-opacity="0.4"/>
<rect x="1667" y="1251" width="30" height="12" rx="6" fill="#000" fill-opacity="0.25"/>
<rect x="1801.4" y="1323.5" width="54" height="7" rx="3.5" fill="#000" fill-opacity="0.24"/>
<rect x="1863.9" y="1323.5" width="54" height="7" rx="3.5" fill="#000" fill-opacity="0.24"/>
<rect x="1928.5" y="1323.5" width="54" height="7" rx="3.5" fill="#000" fill-opacity="0.24"/>
<rect x="1990" y="1187" width="60" height="52" rx="20" fill="#000" fill-opacity="1"/>
<rect x="1992" y="1189" width="56" height="48" rx="20" fill="#000" fill-opacity="1"/>
<rect x="1990" y="1242" width="60" height="48" rx="20" fill="#000" fill-opacity="1"/>
<rect x="1992" y="1244" width="56" height="44" rx="20" fill="#000" fill-opacity="1"/>
<rect x="1991" y="1210" width="58" height="60" rx="16" fill="#000" fill-opacity="1"/>
<rect x="1993" y="1195" width="54" height="90" rx="16" fill="#000" fill-opacity="1"/>
<rect x="1991" y="1319" width="58" height="16" rx="8" fill="#000" fill-opacity="0.85"/>
<rect x="1992" y="1293" width="56" height="14" rx="7" fill="#000" fill-opacity="0.5"/>
<rect x="1995" y="1460" width="50" height="10" rx="5" fill="#000" fill-opacity="0.22"/>
<rect x="2052.7" y="1187" width="60" height="52" rx="20" fill="#000" fill-opacity="1"/>
<rect x="2054.7" y="1189" width="56" height="48" rx="20" fill="#000" fill-opacity="1"/>
<rect x="2052.7" y="1242" width="60" height="48" rx="20" fill="#000" fill-opacity="1"/>
<rect x="2054.7" y="1244" width="56" height="44" rx="20" fill="#000" fill-opacity="1"/>
<rect x="2053.7" y="1210" width="58" height="60" rx="16" fill="#000" fill-opacity="0.35"/>
<rect x="2055.7" y="1195" width="54" height="90" rx="16" fill="#000" fill-opacity="0.2"/>
<rect x="2053.7" y="1319" width="58" height="16" rx="8" fill="#000" fill-opacity="0.68"/>
<rect x="2054.7" y="1293" width="56" height="14" rx="7" fill="#000" fill-opacity="0.32"/>
<rect x="2057.7" y="1460" width="50" height="10" rx="5" fill="#000" fill-opacity="0.2"/>
<rect x="2117.3" y="1187" width="60" height="52" rx="20" fill="#000" fill-opacity="1"/>
<rect x="2119.3" y="1189" width="56" height="48" rx="20" fill="#000" fill-opacity="1"/>
<rect x="2117.3" y="1242" width="60" height="48" rx="20" fill="#000" fill-opacity="1"/>
<rect x="2119.3" y="1244" width="56" height="44" rx="20" fill="#000" fill-opacity="1"/>
<rect x="2118.3" y="1210" width="58" height="60" rx="16" fill="#000" fill-opacity="0.6"/>
<rect x="2120.3" y="1195" width="54" height="90" rx="16" fill="#000" fill-opacity="0.4"/>
<rect x="2118.3" y="1319" width="58" height="16" rx="8" fill="#000" fill-opacity="0.72"/>
<rect x="2119.3" y="1293" width="56" height="14" rx="7" fill="#000" fill-opacity="0.32"/>
<rect x="2122.3" y="1460" width="50" height="10" rx="5" fill="#000" fill-opacity="0.1"/>
<rect x="2045" y="1195" width="12" height="90" rx="6" fill="#000" fill-opacity="0.7"/>
<rect x="2109" y="1246" width="12" height="36" rx="6" fill="#000" fill-opacity="0.6"/>
<rect x="2109" y="1194" width="12" height="36" rx="6" fill="#000" fill-opacity="0.5"/>
<rect x="2176" y="1190" width="16" height="100" rx="8" fill="#000" fill-opacity="0.9"/>
<rect x="1358" y="1180" width="14" height="90" rx="7" fill="#000" fill-opacity="0.9"/>
</g>
<g filter="url(#bl3)">
<rect x="1428.75" y="1175" width="5.5" height="385" fill="#fff" fill-opacity="0.28"/>
<rect x="1490.85" y="1175" width="5.5" height="385" fill="#fff" fill-opacity="0.42"/>
<rect x="1553.15" y="1175" width="5.5" height="385" fill="#fff" fill-opacity="0.5"/>
<rect x="1614.15" y="1175" width="5.5" height="385" fill="#fff" fill-opacity="0.5"/>
<rect x="1675.05" y="1175" width="5.5" height="385" fill="#fff" fill-opacity="0.5"/>
<rect x="1745.75" y="1175" width="5.5" height="385" fill="#fff" fill-opacity="0.5"/>
<rect x="1856.95" y="1175" width="5.5" height="385" fill="#fff" fill-opacity="0.45"/>
<rect x="1920.45" y="1175" width="5.5" height="385" fill="#fff" fill-opacity="0.45"/>
<rect x="1984.95" y="1175" width="5.5" height="385" fill="#fff" fill-opacity="0.4"/>
<rect x="2048.65" y="1175" width="5.5" height="385" fill="#fff" fill-opacity="0.3"/>
<rect x="2112.25" y="1175" width="5.5" height="385" fill="#fff" fill-opacity="0.36"/>
</g>
</g>
<g clip-path="url(#cE2)">
<rect x="1359.3" y="1581" width="829" height="81.5" fill="#f8f8f8"/>
<g filter="url(#bl8)">
<rect x="1378" y="1587" width="46" height="70" rx="23" fill="#000" fill-opacity="0.06"/>
<rect x="1438.5" y="1587" width="46" height="70" rx="23" fill="#000" fill-opacity="0.06"/>
<rect x="1501" y="1587" width="46" height="70" rx="23" fill="#000" fill-opacity="0.06"/>
<rect x="1805.4" y="1587" width="46" height="70" rx="23" fill="#000" fill-opacity="0.05"/>
<rect x="1867.9" y="1587" width="46" height="70" rx="23" fill="#000" fill-opacity="0.05"/>
<rect x="1932.5" y="1587" width="46" height="70" rx="23" fill="#000" fill-opacity="0.05"/>
<rect x="1997" y="1587" width="46" height="70" rx="23" fill="#000" fill-opacity="0.05"/>
<rect x="2059.7" y="1587" width="46" height="70" rx="23" fill="#000" fill-opacity="0.05"/>
<rect x="2124.3" y="1587" width="46" height="70" rx="23" fill="#000" fill-opacity="0.05"/>
<rect x="1559.5" y="1635" width="54" height="30" rx="15" fill="#000" fill-opacity="0.25"/>
<rect x="1624" y="1635" width="54" height="30" rx="15" fill="#000" fill-opacity="0.25"/>
<rect x="1686.6" y="1635" width="54" height="30" rx="15" fill="#000" fill-opacity="0.25"/>
</g>
<g filter="url(#bl3)">
<rect x="1555.5" y="1585" width="62" height="58" rx="14" fill="#000" fill-opacity="1"/>
<rect x="1557.5" y="1587" width="58" height="54" rx="14" fill="#000" fill-opacity="1"/>
<rect x="1620" y="1585" width="62" height="58" rx="14" fill="#000" fill-opacity="1"/>
<rect x="1622" y="1587" width="58" height="54" rx="14" fill="#000" fill-opacity="1"/>
<rect x="1682.6" y="1585" width="62" height="58" rx="14" fill="#000" fill-opacity="1"/>
<rect x="1684.6" y="1587" width="58" height="54" rx="14" fill="#000" fill-opacity="1"/>
<rect x="1557" y="1603" width="186" height="38" rx="16" fill="#000" fill-opacity="1"/>
<rect x="1560" y="1604" width="180" height="36" rx="16" fill="#000" fill-opacity="1"/>
</g>
<g filter="url(#bl2)">
<rect x="1378" y="1622.25" width="46" height="4.5" rx="2.25" fill="#000" fill-opacity="0.45"/>
<rect x="1438.5" y="1622.25" width="46" height="4.5" rx="2.25" fill="#000" fill-opacity="0.38"/>
<rect x="1501" y="1622.25" width="46" height="4.5" rx="2.25" fill="#000" fill-opacity="0.35"/>
<rect x="1802.4" y="1629" width="50" height="5" rx="2.5" fill="#000" fill-opacity="0.6"/>
<rect x="1862.9" y="1631" width="54" height="5" rx="2.5" fill="#000" fill-opacity="0.48"/>
<rect x="1932.5" y="1630" width="44" height="5" rx="2.5" fill="#000" fill-opacity="0.62"/>
<rect x="1997" y="1628.5" width="46" height="3" rx="1.5" fill="#000" fill-opacity="0.08"/>
<rect x="1997" y="1614.5" width="46" height="3" rx="1.5" fill="#000" fill-opacity="0.05"/>
<rect x="2059.7" y="1628.5" width="46" height="3" rx="1.5" fill="#000" fill-opacity="0.08"/>
<rect x="2059.7" y="1614.5" width="46" height="3" rx="1.5" fill="#000" fill-opacity="0.05"/>
<rect x="2124.3" y="1628.5" width="46" height="3" rx="1.5" fill="#000" fill-opacity="0.08"/>
<rect x="2124.3" y="1614.5" width="46" height="3" rx="1.5" fill="#000" fill-opacity="0.05"/>
</g>
</g>
<g clip-path="url(#cE3)">
<rect x="1359.3" y="1674" width="829" height="82.5" fill="#f8f8f8"/>
<g filter="url(#bl8)">
<rect x="1370" y="1694" width="380" height="44" rx="22" fill="#000" fill-opacity="0.1"/>
<rect x="1785" y="1694" width="390" height="44" rx="22" fill="#000" fill-opacity="0.1"/>
</g>
<g filter="url(#bl3)">
<rect x="1367" y="1703.5" width="68" height="17" rx="8.5" fill="#000" fill-opacity="1"/>
<rect x="1370" y="1704.5" width="62" height="15" rx="7.5" fill="#000" fill-opacity="1"/>
<rect x="1427.5" y="1708.5" width="68" height="17" rx="8.5" fill="#000" fill-opacity="1"/>
<rect x="1430.5" y="1709.5" width="62" height="15" rx="7.5" fill="#000" fill-opacity="1"/>
<rect x="1490" y="1712.5" width="68" height="17" rx="8.5" fill="#000" fill-opacity="1"/>
<rect x="1493" y="1713.5" width="62" height="15" rx="7.5" fill="#000" fill-opacity="1"/>
<rect x="1552.5" y="1711.5" width="68" height="17" rx="8.5" fill="#000" fill-opacity="1"/>
<rect x="1555.5" y="1712.5" width="62" height="15" rx="7.5" fill="#000" fill-opacity="1"/>
<rect x="1617" y="1710.5" width="68" height="17" rx="8.5" fill="#000" fill-opacity="1"/>
<rect x="1620" y="1711.5" width="62" height="15" rx="7.5" fill="#000" fill-opacity="1"/>
<rect x="1679.6" y="1707.5" width="68" height="17" rx="8.5" fill="#000" fill-opacity="1"/>
<rect x="1682.6" y="1708.5" width="62" height="15" rx="7.5" fill="#000" fill-opacity="1"/>
<rect x="1786" y="1701" width="60" height="18" rx="9" fill="#000" fill-opacity="1"/>
<rect x="1789" y="1702" width="54" height="16" rx="8" fill="#000" fill-opacity="1"/>
<rect x="1853" y="1710" width="66" height="18" rx="9" fill="#000" fill-opacity="1"/>
<rect x="1856" y="1711" width="60" height="16" rx="8" fill="#000" fill-opacity="1"/>
<rect x="1915" y="1710" width="70" height="18" rx="9" fill="#000" fill-opacity="1"/>
<rect x="1918" y="1711" width="64" height="16" rx="8" fill="#000" fill-opacity="1"/>
<rect x="1978" y="1709" width="68" height="18" rx="9" fill="#000" fill-opacity="1"/>
<rect x="1981" y="1710" width="62" height="16" rx="8" fill="#000" fill-opacity="1"/>
<rect x="2043" y="1707" width="68" height="18" rx="9" fill="#000" fill-opacity="1"/>
<rect x="2046" y="1708" width="62" height="16" rx="8" fill="#000" fill-opacity="1"/>
<rect x="2109" y="1705" width="68" height="18" rx="9" fill="#000" fill-opacity="1"/>
<rect x="2112" y="1706" width="62" height="16" rx="8" fill="#000" fill-opacity="1"/>
<rect x="1823" y="1709" width="30" height="14" rx="7" fill="#000" fill-opacity="1"/>
</g>
<g filter="url(#bl5)">
<rect x="1375" y="1727.5" width="52" height="7" rx="3.5" fill="#000" fill-opacity="0.2"/>
<rect x="1435.5" y="1732.5" width="52" height="7" rx="3.5" fill="#000" fill-opacity="0.2"/>
<rect x="1498" y="1736.5" width="52" height="7" rx="3.5" fill="#000" fill-opacity="0.2"/>
<rect x="1560.5" y="1735.5" width="52" height="7" rx="3.5" fill="#000" fill-opacity="0.2"/>
<rect x="1625" y="1734.5" width="52" height="7" rx="3.5" fill="#000" fill-opacity="0.2"/>
<rect x="1687.6" y="1731.5" width="52" height="7" rx="3.5" fill="#000" fill-opacity="0.2"/>
<rect x="1789" y="1728" width="54" height="8" rx="4" fill="#000" fill-opacity="0.24"/>
<rect x="1859" y="1737" width="54" height="8" rx="4" fill="#000" fill-opacity="0.24"/>
<rect x="1923" y="1737" width="54" height="8" rx="4" fill="#000" fill-opacity="0.24"/>
<rect x="1985" y="1736" width="54" height="8" rx="4" fill="#000" fill-opacity="0.24"/>
<rect x="2050" y="1734" width="54" height="8" rx="4" fill="#000" fill-opacity="0.24"/>
<rect x="2116" y="1732" width="54" height="8" rx="4" fill="#000" fill-opacity="0.24"/>
</g>
</g>
<line x1="1772.6" y1="1172" x2="1772.6" y2="1752" stroke="#000" stroke-width="3.4" stroke-dasharray="8.4 8.35" stroke-dashoffset="3.45"/>
<rect x="1359.3" y="1169.8" width="829" height="398" fill="none" stroke="#000" stroke-width="3.8"/>
<rect x="1359.3" y="1581" width="829" height="81.5" fill="none" stroke="#000" stroke-width="3.8"/>
<rect x="1359.3" y="1674" width="829" height="82.5" fill="none" stroke="#000" stroke-width="3.8"/>
</g>
<g id="panelFH">
<text x="86.5" y="1861" font-size="50" font-weight="bold">F</text>
<text x="1293" y="1861" font-size="50" font-weight="bold">H</text>
<text x="363" y="1860.5" font-size="32.6" text-anchor="middle">WT</text>
<text x="932" y="1860.5" font-size="32.6" text-anchor="middle">D1-Tg</text>
<text x="1584" y="1860.5" font-size="32.6" text-anchor="middle">WT TAC</text>
<text x="2134.5" y="1860.5" font-size="32.6" text-anchor="middle">D1KO TAC</text>
<g clip-path="url(#emc1)">
<g filter="url(#emg1)">
<rect x="65.3" y="1850.9" width="594.6" height="454.4" fill="#d2d2d2"/>
<g filter="url(#emw1)">
<rect x="65.3" y="1850.9" width="594.6" height="454.4" fill="#d2d2d2"/>
<polygon points="80.9,1867.27 116.5,1867.27 111.78,1968.99 91.8,2012.59 80.9,2012.59" fill="url(#emp1)"/>
<polygon points="213.5,1867.27 276.35,1867.27 270.54,2041.65 253.47,2186.97 246.2,2292.33 171.72,2292.33 182.62,2186.97 197.16,2041.65" fill="url(#emp1)"/>
<polygon points="362.46,1867.27 408.6,1867.27 407.14,2005.32 391.52,2114.31 382.44,2223.3 349.74,2223.3 351.56,2114.31 366.09,2005.32" fill="url(#emp1)"/>
<polygon points="487.8,1867.27 566.99,1867.27 551.37,2041.65 541.56,2186.97 539.38,2292.33 479.8,2292.33 484.16,2186.97 484.89,2041.65" fill="url(#emp1)"/>
<polygon points="629.48,2063.45 644.01,2063.45 644.01,2292.33 625.85,2292.33" fill="url(#emp1)"/>
<polygon points="80.9,2012.59 95.43,2012.59 91.8,2150.64 80.9,2150.64" fill="url(#emp1)"/>
<path d="M85.26 1905.41 L135.39 1903.6 L215.32 1906.5 L277.08 1904.32 L360.64 1907.23 L407.87 1905.41" fill="none" stroke="#333" stroke-opacity="0.5" stroke-width="4" stroke-linecap="round"/>
<path d="M193.52 2047.1 L266.18 2048.19 L360.64 2054.37 L396.97 2056.18" fill="none" stroke="#333" stroke-opacity="0.5" stroke-width="4" stroke-linecap="round"/>
<path d="M182.62 2190.6 L251.65 2192.42" fill="none" stroke="#333" stroke-opacity="0.5" stroke-width="4" stroke-linecap="round"/>
<path d="M484.16 1992.6 L553.19 1985.34 L629.48 1994.42" fill="none" stroke="#333" stroke-opacity="0.5" stroke-width="4" stroke-linecap="round"/>
<path d="M487.8 2130.66 L542.29 2128.84" fill="none" stroke="#333" stroke-opacity="0.5" stroke-width="4" stroke-linecap="round"/>
<path d="M85.26 1974.44 L106.33 1975.53" fill="none" stroke="#333" stroke-opacity="0.5" stroke-width="4" stroke-linecap="round"/>
<path d="M171.72 2263.26 L244.38 2263.99" fill="none" stroke="#333" stroke-opacity="0.4" stroke-width="3" stroke-linecap="round"/>
<path d="M480.53 2274.16 L538.66 2272.35" fill="none" stroke="#333" stroke-opacity="0.4" stroke-width="3" stroke-linecap="round"/>
<g filter="url(#emm1)">
<ellipse cx="173.54" cy="1898.15" rx="39.24" ry="30.88" fill="#747474" stroke="#303030" stroke-width="1.8" transform="rotate(10 173.54 1898.15)"/>
<ellipse cx="155.38" cy="1974.44" rx="52.68" ry="69.03" fill="#747474" stroke="#303030" stroke-width="1.8" transform="rotate(-8 155.38 1974.44)"/>
<ellipse cx="142.66" cy="2083.43" rx="54.5" ry="72.66" fill="#747474" stroke="#303030" stroke-width="1.8" transform="rotate(5 142.66 2083.43)"/>
<ellipse cx="124.5" cy="2210.58" rx="45.41" ry="59.94" fill="#747474" stroke="#303030" stroke-width="1.8" transform="rotate(-15 124.5 2210.58)"/>
<ellipse cx="166.27" cy="2237.83" rx="16.35" ry="19.98" fill="#747474" stroke="#303030" stroke-width="1.8" transform="rotate(0 166.27 2237.83)"/>
<ellipse cx="324.31" cy="1898.15" rx="40.69" ry="33.42" fill="#747474" stroke="#303030" stroke-width="1.8" transform="rotate(0 324.31 1898.15)"/>
<ellipse cx="322.49" cy="1995.15" rx="47.23" ry="67.21" fill="#747474" stroke="#303030" stroke-width="1.8" transform="rotate(-8 322.49 1995.15)"/>
<ellipse cx="307.96" cy="2096.87" rx="49.05" ry="43.6" fill="#747474" stroke="#303030" stroke-width="1.8" transform="rotate(8 307.96 2096.87)"/>
<ellipse cx="298.88" cy="2173.16" rx="49.05" ry="38.15" fill="#9a9a9a" stroke="#303030" stroke-width="1.8" transform="rotate(0 298.88 2173.16)"/>
<ellipse cx="295.25" cy="2254.18" rx="51.59" ry="40.69" fill="#747474" stroke="#303030" stroke-width="1.8" transform="rotate(0 295.25 2254.18)"/>
<ellipse cx="357.01" cy="1936.29" rx="12.72" ry="23.61" fill="#747474" stroke="#303030" stroke-width="1.8" transform="rotate(0 357.01 1936.29)"/>
<ellipse cx="446.02" cy="1919.94" rx="45.41" ry="51.59" fill="#747474" stroke="#303030" stroke-width="1.8" transform="rotate(0 446.02 1919.94)"/>
<ellipse cx="444.2" cy="2008.95" rx="39.96" ry="36.33" fill="#747474" stroke="#303030" stroke-width="1.8" transform="rotate(0 444.2 2008.95)"/>
<ellipse cx="435.12" cy="2082.34" rx="47.23" ry="41.78" fill="#747474" stroke="#303030" stroke-width="1.8" transform="rotate(0 435.12 2082.34)"/>
<ellipse cx="433.3" cy="2170.62" rx="58.13" ry="47.23" fill="#747474" stroke="#303030" stroke-width="1.8" transform="rotate(-20 433.3 2170.62)"/>
<ellipse cx="451.47" cy="2250.55" rx="32.7" ry="29.06" fill="#747474" stroke="#303030" stroke-width="1.8" transform="rotate(0 451.47 2250.55)"/>
<ellipse cx="604.05" cy="1921.76" rx="36.33" ry="51.59" fill="#747474" stroke="#303030" stroke-width="1.8" transform="rotate(0 604.05 1921.76)"/>
<ellipse cx="567.72" cy="2063.45" rx="23.61" ry="77.02" fill="#747474" stroke="#303030" stroke-width="1.8" transform="rotate(3 567.72 2063.45)"/>
<ellipse cx="611.32" cy="2048.92" rx="25.43" ry="54.5" fill="#747474" stroke="#303030" stroke-width="1.8" transform="rotate(0 611.32 2048.92)"/>
<ellipse cx="582.25" cy="2183.34" rx="45.41" ry="74.48" fill="#808080" stroke="#303030" stroke-width="1.8" transform="rotate(0 582.25 2183.34)"/>
<ellipse cx="567.72" cy="2272.35" rx="36.33" ry="18.16" fill="#747474" stroke="#303030" stroke-width="1.8" transform="rotate(0 567.72 2272.35)"/>
</g>
<g filter="url(#emr1)">
<ellipse cx="124.5" cy="1889.06" rx="14.53" ry="14.53" fill="#e9e9e9" fill-opacity="0.92"/>
<ellipse cx="193.52" cy="1947.19" rx="13.81" ry="21.8" fill="#e9e9e9" fill-opacity="0.92"/>
<ellipse cx="129.94" cy="1996.24" rx="25.43" ry="18.16" fill="#e9e9e9" fill-opacity="0.92"/>
<ellipse cx="153.56" cy="2105.23" rx="39.96" ry="21.8" fill="#e9e9e9" fill-opacity="0.92"/>
<ellipse cx="113.6" cy="2072.53" rx="18.16" ry="14.53" fill="#e9e9e9" fill-opacity="0.92"/>
<ellipse cx="178.99" cy="2063.45" rx="10.9" ry="18.16" fill="#e9e9e9" fill-opacity="0.92"/>
<ellipse cx="282.53" cy="2177.89" rx="29.06" ry="22.52" fill="#e9e9e9" fill-opacity="0.92"/>
<ellipse cx="333.39" cy="2087.06" rx="18.16" ry="14.53" fill="#e9e9e9" fill-opacity="0.92"/>
<ellipse cx="391.52" cy="2226.93" rx="36.33" ry="32.7" fill="#e9e9e9" fill-opacity="0.92"/>
<ellipse cx="273.45" cy="2261.45" rx="21.8" ry="18.16" fill="#e9e9e9" fill-opacity="0.92"/>
<ellipse cx="587.7" cy="2188.79" rx="32.7" ry="27.25" fill="#e9e9e9" fill-opacity="0.92"/>
<ellipse cx="473.26" cy="1968.99" rx="14.53" ry="30.88" fill="#e9e9e9" fill-opacity="0.92"/>
<ellipse cx="469.63" cy="2223.3" rx="14.53" ry="21.8" fill="#e9e9e9" fill-opacity="0.92"/>
<ellipse cx="418.77" cy="1998.05" rx="14.53" ry="7.27" fill="#e9e9e9" fill-opacity="0.92"/>
<ellipse cx="369.72" cy="2268.71" rx="21.8" ry="14.53" fill="#e9e9e9" fill-opacity="0.92"/>
<ellipse cx="302.51" cy="2038.02" rx="18.16" ry="10.9" fill="#e9e9e9" fill-opacity="0.92"/>
<ellipse cx="476.9" cy="2085.25" rx="10.9" ry="29.06" fill="#e9e9e9" fill-opacity="0.92"/>
<ellipse cx="611.32" cy="1961.72" rx="18.16" ry="9.08" fill="#e9e9e9" fill-opacity="0.92"/>
<ellipse cx="324.31" cy="2201.5" rx="14.53" ry="10.9" fill="#e9e9e9" fill-opacity="0.92"/>
<ellipse cx="455.1" cy="1903.6" rx="18.16" ry="10.9" fill="#e9e9e9" fill-opacity="0.92"/>
<ellipse cx="338.84" cy="1921.76" rx="10.9" ry="9.08" fill="#e9e9e9" fill-opacity="0.92"/>
<ellipse cx="295.25" cy="1874.53" rx="14.53" ry="9.08" fill="#e9e9e9" fill-opacity="0.92"/>
<ellipse cx="633.12" cy="1889.06" rx="7.27" ry="14.53" fill="#e9e9e9" fill-opacity="0.92"/>
<ellipse cx="277.08" cy="1954.46" rx="7.27" ry="21.8" fill="#e9e9e9" fill-opacity="0.92"/>
<ellipse cx="378.81" cy="2063.45" rx="9.08" ry="21.8" fill="#e9e9e9" fill-opacity="0.92"/>
</g>
</g>
</g>
</g>
<g clip-path="url(#emc2)">
<g filter="url(#emg2)">
<rect x="636.3" y="1850.9" width="594.2" height="454.6" fill="#8e8e8e"/>
<g filter="url(#emw2)">
<rect x="636.3" y="1850.9" width="594.2" height="454.6" fill="#8e8e8e"/>
<polygon points="650.9,1867.27 781.69,1867.27 761.71,1968.99 736.27,2012.59 707.21,2077.98 732.64,2150.64 714.48,2223.3 689.05,2292.33 650.9,2292.33" fill="url(#emp2)"/>
<polygon points="1177.68,1867.27 1217.65,1867.27 1217.65,2292.33 1039.63,2292.33 1094.12,2205.14 1166.78,2121.58 1184.95,2005.32" fill="url(#emp2)"/>
<path d="M676.33 1881.8 L763.52 1914.49" fill="none" stroke="#333" stroke-opacity="0.4" stroke-width="4" stroke-linecap="round"/>
<path d="M656.35 2012.59 L730.83 2034.38" fill="none" stroke="#333" stroke-opacity="0.4" stroke-width="4" stroke-linecap="round"/>
<path d="M656.35 2128.84 L712.66 2150.64" fill="none" stroke="#333" stroke-opacity="0.4" stroke-width="4" stroke-linecap="round"/>
<path d="M1166.78 2136.11 L1210.38 2150.64" fill="none" stroke="#333" stroke-opacity="0.4" stroke-width="4" stroke-linecap="round"/>
<path d="M1177.68 1998.05 L1210.38 2016.22" fill="none" stroke="#333" stroke-opacity="0.4" stroke-width="4" stroke-linecap="round"/>
<g filter="url(#emm2)">
<ellipse cx="803.49" cy="2001.69" rx="67.21" ry="42.87" fill="#6a6a6a" stroke="#303030" stroke-width="1.8" transform="rotate(-5 803.49 2001.69)"/>
<ellipse cx="845.26" cy="1932.66" rx="40.69" ry="37.06" fill="#6a6a6a" stroke="#303030" stroke-width="1.8" transform="rotate(0 845.26 1932.66)"/>
<ellipse cx="927.01" cy="1896.33" rx="29.79" ry="26.16" fill="#6a6a6a" stroke="#303030" stroke-width="1.8" transform="rotate(0 927.01 1896.33)"/>
<ellipse cx="1003.3" cy="1954.46" rx="44.32" ry="40.69" fill="#6a6a6a" stroke="#303030" stroke-width="1.8" transform="rotate(20 1003.3 1954.46)"/>
<ellipse cx="1036" cy="1889.06" rx="37.06" ry="20.71" fill="#6a6a6a" stroke="#303030" stroke-width="1.8" transform="rotate(0 1036 1889.06)"/>
<ellipse cx="1075.96" cy="1921.76" rx="29.06" ry="25.43" fill="#6a6a6a" stroke="#303030" stroke-width="1.8" transform="rotate(0 1075.96 1921.76)"/>
<ellipse cx="908.84" cy="2012.59" rx="36.33" ry="39.96" fill="#6a6a6a" stroke="#303030" stroke-width="1.8" transform="rotate(0 908.84 2012.59)"/>
<ellipse cx="1065.06" cy="2005.32" rx="32.7" ry="37.06" fill="#6a6a6a" stroke="#303030" stroke-width="1.8" transform="rotate(0 1065.06 2005.32)"/>
<ellipse cx="1130.45" cy="1995.15" rx="35.24" ry="36.33" fill="#6a6a6a" stroke="#303030" stroke-width="1.8" transform="rotate(0 1130.45 1995.15)"/>
<ellipse cx="1171.14" cy="1976.26" rx="21.8" ry="26.16" fill="#6a6a6a" stroke="#303030" stroke-width="1.8" transform="rotate(0 1171.14 1976.26)"/>
<ellipse cx="1163.15" cy="2056.18" rx="21.8" ry="36.33" fill="#6a6a6a" stroke="#303030" stroke-width="1.8" transform="rotate(0 1163.15 2056.18)"/>
<ellipse cx="1065.06" cy="2072.53" rx="35.24" ry="39.96" fill="#6a6a6a" stroke="#303030" stroke-width="1.8" transform="rotate(0 1065.06 2072.53)"/>
<ellipse cx="997.85" cy="2052.55" rx="39.96" ry="36.33" fill="#6a6a6a" stroke="#303030" stroke-width="1.8" transform="rotate(0 997.85 2052.55)"/>
<ellipse cx="857.98" cy="2079.8" rx="44.32" ry="54.5" fill="#8a8a8a" stroke="#303030" stroke-width="1.8" transform="rotate(0 857.98 2079.8)"/>
<ellipse cx="778.05" cy="2118.67" rx="42.51" ry="34.51" fill="#6a6a6a" stroke="#303030" stroke-width="1.8" transform="rotate(0 778.05 2118.67)"/>
<ellipse cx="778.05" cy="2186.97" rx="34.51" ry="36.33" fill="#6a6a6a" stroke="#303030" stroke-width="1.8" transform="rotate(0 778.05 2186.97)"/>
<ellipse cx="836.18" cy="2201.5" rx="26.16" ry="26.16" fill="#555555" stroke="#303030" stroke-width="1.8" transform="rotate(0 836.18 2201.5)"/>
<ellipse cx="894.31" cy="2150.64" rx="43.6" ry="29.06" fill="#5e5e5e" stroke="#303030" stroke-width="1.8" transform="rotate(0 894.31 2150.64)"/>
<ellipse cx="948.81" cy="2201.5" rx="29.79" ry="29.79" fill="#6a6a6a" stroke="#303030" stroke-width="1.8" transform="rotate(0 948.81 2201.5)"/>
<ellipse cx="1021.47" cy="2121.58" rx="39.96" ry="32.7" fill="#6a6a6a" stroke="#303030" stroke-width="1.8" transform="rotate(0 1021.47 2121.58)"/>
<ellipse cx="1126.82" cy="2147.01" rx="36.33" ry="36.33" fill="#6a6a6a" stroke="#303030" stroke-width="1.8" transform="rotate(0 1126.82 2147.01)"/>
<ellipse cx="963.34" cy="2150.64" rx="21.8" ry="26.16" fill="#6a6a6a" stroke="#303030" stroke-width="1.8" transform="rotate(0 963.34 2150.64)"/>
<ellipse cx="796.22" cy="2256" rx="36.33" ry="29.06" fill="#6a6a6a" stroke="#303030" stroke-width="1.8" transform="rotate(0 796.22 2256)"/>
<ellipse cx="945.17" cy="2259.63" rx="36.33" ry="25.43" fill="#6a6a6a" stroke="#303030" stroke-width="1.8" transform="rotate(0 945.17 2259.63)"/>
<ellipse cx="1006.93" cy="2272.35" rx="32.7" ry="18.16" fill="#6a6a6a" stroke="#303030" stroke-width="1.8" transform="rotate(0 1006.93 2272.35)"/>
<ellipse cx="712.66" cy="2261.45" rx="25.43" ry="25.43" fill="#6a6a6a" stroke="#303030" stroke-width="1.8" transform="rotate(0 712.66 2261.45)"/>
<ellipse cx="1010.57" cy="2214.22" rx="25.43" ry="36.33" fill="#8a8a8a" stroke="#303030" stroke-width="1.8" transform="rotate(0 1010.57 2214.22)"/>
<ellipse cx="1159.52" cy="2241.47" rx="18.16" ry="14.53" fill="#6a6a6a" stroke="#303030" stroke-width="1.8" transform="rotate(0 1159.52 2241.47)"/>
<ellipse cx="716.29" cy="2048.92" rx="12.72" ry="15.26" fill="#6a6a6a" stroke="#303030" stroke-width="1.8" transform="rotate(0 716.29 2048.92)"/>
<ellipse cx="1112.29" cy="2063.45" rx="21.8" ry="29.06" fill="#6a6a6a" stroke="#303030" stroke-width="1.8" transform="rotate(0 1112.29 2063.45)"/>
<ellipse cx="872.51" cy="2245.1" rx="21.8" ry="18.16" fill="#6a6a6a" stroke="#303030" stroke-width="1.8" transform="rotate(0 872.51 2245.1)"/>
<ellipse cx="959.7" cy="1979.89" rx="21.8" ry="29.06" fill="#6a6a6a" stroke="#303030" stroke-width="1.8" transform="rotate(0 959.7 1979.89)"/>
<ellipse cx="894.31" cy="1950.83" rx="18.16" ry="21.8" fill="#7a7a7a" stroke="#303030" stroke-width="1.8" transform="rotate(0 894.31 1950.83)"/>
<ellipse cx="1086.86" cy="2223.3" rx="21.8" ry="18.16" fill="#7c7c7c" stroke="#303030" stroke-width="1.8" transform="rotate(0 1086.86 2223.3)"/>
<ellipse cx="941.54" cy="2096.14" rx="25.43" ry="21.8" fill="#777777" stroke="#303030" stroke-width="1.8" transform="rotate(0 941.54 2096.14)"/>
<ellipse cx="814.38" cy="2063.45" rx="21.8" ry="18.16" fill="#747474" stroke="#303030" stroke-width="1.8" transform="rotate(0 814.38 2063.45)"/>
<ellipse cx="1068.69" cy="1958.09" rx="18.16" ry="18.16" fill="#777777" stroke="#303030" stroke-width="1.8" transform="rotate(0 1068.69 1958.09)"/>
</g>
<g filter="url(#emr2)">
<ellipse cx="1135.9" cy="1936.29" rx="30.88" ry="25.43" fill="#dcdcdc" fill-opacity="0.92"/>
<ellipse cx="977.87" cy="2056.18" rx="18.16" ry="18.16" fill="#e9e9e9" fill-opacity="0.92"/>
<ellipse cx="890.68" cy="2188.79" rx="23.61" ry="21.8" fill="#e9e9e9" fill-opacity="0.92"/>
<ellipse cx="1065.06" cy="2186.97" rx="28.34" ry="22.52" fill="#e9e9e9" fill-opacity="0.92"/>
<ellipse cx="843.45" cy="2110.68" rx="22.52" ry="18.89" fill="#e9e9e9" fill-opacity="0.92"/>
<ellipse cx="928.82" cy="1945.38" rx="29.06" ry="18.16" fill="#cfcfcf" fill-opacity="0.92"/>
<ellipse cx="1065.06" cy="2128.84" rx="21.8" ry="22.52" fill="#d8d8d8" fill-opacity="0.92"/>
<ellipse cx="748.99" cy="2234.2" rx="16.35" ry="10.9" fill="#e9e9e9" fill-opacity="0.92"/>
<ellipse cx="843.45" cy="2237.83" rx="14.53" ry="12.72" fill="#e9e9e9" fill-opacity="0.92"/>
<ellipse cx="970.6" cy="2092.51" rx="14.53" ry="14.53" fill="#cccccc" fill-opacity="0.92"/>
<ellipse cx="857.98" cy="1883.61" rx="18.16" ry="10.9" fill="#d0d0d0" fill-opacity="0.92"/>
<ellipse cx="1108.66" cy="2103.41" rx="14.53" ry="9.08" fill="#e9e9e9" fill-opacity="0.92"/>
<ellipse cx="1130.45" cy="2259.63" rx="19.98" ry="18.16" fill="#909090" fill-opacity="0.92"/>
<ellipse cx="843.45" cy="2074.35" rx="14.53" ry="14.53" fill="#dddddd" fill-opacity="0.92"/>
<ellipse cx="916.11" cy="2121.58" rx="25.43" ry="14.53" fill="#b8b8b8" fill-opacity="0.92"/>
<ellipse cx="1126.82" cy="2074.35" rx="9.08" ry="14.53" fill="#e9e9e9" fill-opacity="0.92"/>
<ellipse cx="879.78" cy="1979.89" rx="9.08" ry="10.9" fill="#e9e9e9" fill-opacity="0.92"/>
</g>
</g>
</g>
</g>
<g clip-path="url(#emc3)">
<g filter="url(#emg3)">
<rect x="1279.6" y="1852.6" width="594.4" height="452.8" fill="#9e9e9e"/>
<g filter="url(#emw3)">
<rect x="1279.6" y="1852.6" width="594.4" height="452.8" fill="#9e9e9e"/>
<polygon points="1295.9,1867.27 1859.01,1867.27 1859.01,2292.33 1295.9,2292.33" fill="url(#emp3)"/>
<path d="M1299.53 1979.89 L1430.32 1990.79 L1575.64 2001.69 L1720.96 2012.59 L1854.29 2005.32" fill="none" stroke="#333" stroke-opacity="0.12" stroke-width="14" stroke-linecap="round"/>
<path d="M1299.53 2150.64 L1430.32 2161.54 L1575.64 2147.01 L1720.96 2150.64 L1854.29 2157.91" fill="none" stroke="#333" stroke-opacity="0.12" stroke-width="14" stroke-linecap="round"/>
<path d="M1713.69 2019.85 L1854.29 2019.85" fill="none" stroke="#333" stroke-opacity="0.15" stroke-width="10" stroke-linecap="round"/>
<path d="M1539.31 2041.65 L1684.63 2048.92" fill="none" stroke="#333" stroke-opacity="0.15" stroke-width="10" stroke-linecap="round"/>
<ellipse cx="1408.52" cy="2074.35" rx="82.02" ry="70.39" fill="#e0e0e0" fill-opacity="0.3" transform="rotate(-15 1408.52 2074.35)"/>
<ellipse cx="1366.74" cy="1983.52" rx="32.25" ry="32.25" fill="#e0e0e0" fill-opacity="0.42" transform="rotate(0 1366.74 1983.52)"/>
<ellipse cx="1466.65" cy="1939.93" rx="32.25" ry="56.59" fill="#e0e0e0" fill-opacity="0.18" transform="rotate(15 1466.65 1939.93)"/>
<ellipse cx="1524.78" cy="2079.8" rx="34.79" ry="47.51" fill="#e0e0e0" fill-opacity="0.3" transform="rotate(0 1524.78 2079.8)"/>
<ellipse cx="1516.42" cy="2192.42" rx="51.14" ry="74.03" fill="#e0e0e0" fill-opacity="0.24" transform="rotate(0 1516.42 2192.42)"/>
<ellipse cx="1610.15" cy="2008.95" rx="32.97" ry="118.35" fill="#e0e0e0" fill-opacity="0.18" transform="rotate(0 1610.15 2008.95)"/>
<ellipse cx="1656.29" cy="2157.91" rx="36.61" ry="103.82" fill="#e0e0e0" fill-opacity="0.18" transform="rotate(-8 1656.29 2157.91)"/>
<ellipse cx="1766.37" cy="2030.75" rx="56.59" ry="107.45" fill="#e0e0e0" fill-opacity="0.24" transform="rotate(0 1766.37 2030.75)"/>
<ellipse cx="1735.49" cy="1874.53" rx="24.98" ry="15.9" fill="#e0e0e0" fill-opacity="0.24" transform="rotate(0 1735.49 1874.53)"/>
<g filter="url(#emm3)">
<ellipse cx="1408.52" cy="2074.35" rx="77.02" ry="65.39" fill="#707070" stroke="#303030" stroke-width="1.8" transform="rotate(-15 1408.52 2074.35)"/>
<ellipse cx="1366.74" cy="1983.52" rx="27.25" ry="27.25" fill="#707070" stroke="#303030" stroke-width="1.8" transform="rotate(0 1366.74 1983.52)"/>
<ellipse cx="1466.65" cy="1939.93" rx="27.25" ry="51.59" fill="#7a7a7a" stroke="#303030" stroke-width="1.8" transform="rotate(15 1466.65 1939.93)"/>
<ellipse cx="1524.78" cy="2079.8" rx="29.79" ry="42.51" fill="#707070" stroke="#303030" stroke-width="1.8" transform="rotate(0 1524.78 2079.8)"/>
<ellipse cx="1516.42" cy="2192.42" rx="46.14" ry="69.03" fill="#707070" stroke="#303030" stroke-width="1.8" transform="rotate(0 1516.42 2192.42)"/>
<ellipse cx="1610.15" cy="2008.95" rx="27.97" ry="113.35" fill="#707070" stroke="#303030" stroke-width="1.8" transform="rotate(0 1610.15 2008.95)"/>
<ellipse cx="1656.29" cy="2157.91" rx="31.61" ry="98.82" fill="#707070" stroke="#303030" stroke-width="1.8" transform="rotate(-8 1656.29 2157.91)"/>
<ellipse cx="1766.37" cy="2030.75" rx="51.59" ry="102.45" fill="#707070" stroke="#303030" stroke-width="1.8" transform="rotate(0 1766.37 2030.75)"/>
<ellipse cx="1524.78" cy="1965.36" rx="19.98" ry="22.52" fill="#858585" stroke="#303030" stroke-width="1.8" transform="rotate(0 1524.78 1965.36)"/>
<ellipse cx="1350.39" cy="1918.13" rx="21.8" ry="18.16" fill="#808080" stroke="#303030" stroke-width="1.8" transform="rotate(30 1350.39 1918.13)"/>
<ellipse cx="1561.11" cy="1878.16" rx="21.8" ry="10.9" fill="#808080" stroke="#303030" stroke-width="1.8" transform="rotate(0 1561.11 1878.16)"/>
<ellipse cx="1735.49" cy="1874.53" rx="19.98" ry="10.9" fill="#707070" stroke="#303030" stroke-width="1.8" transform="rotate(0 1735.49 1874.53)"/>
</g>
<g filter="url(#emr3)">
<ellipse cx="1513.88" cy="2024.21" rx="18.89" ry="10.9" fill="#e9e9e9" fill-opacity="0.92"/>
<ellipse cx="1626.5" cy="2035.11" rx="9.45" ry="8.72" fill="#e9e9e9" fill-opacity="0.92"/>
<ellipse cx="1339.49" cy="2147.73" rx="14.53" ry="7.27" fill="#e9e9e9" fill-opacity="0.92"/>
<ellipse cx="1735.49" cy="1905.41" rx="14.53" ry="10.9" fill="#d5d5d5" fill-opacity="0.92"/>
<ellipse cx="1517.51" cy="2239.65" rx="26.16" ry="22.52" fill="#e9e9e9" fill-opacity="0.92"/>
<ellipse cx="1393.99" cy="2063.45" rx="11.63" ry="14.53" fill="#e9e9e9" fill-opacity="0.92"/>
<ellipse cx="1535.68" cy="2197.87" rx="14.53" ry="14.53" fill="#e9e9e9" fill-opacity="0.92"/>
<ellipse cx="1321.33" cy="1889.06" rx="18.16" ry="14.53" fill="#c8c8c8" fill-opacity="0.92"/>
<ellipse cx="1757.29" cy="1925.39" rx="29.06" ry="10.9" fill="#c8c8c8" fill-opacity="0.92"/>
<ellipse cx="1499.35" cy="1990.79" rx="21.8" ry="10.9" fill="#cccccc" fill-opacity="0.92"/>
<ellipse cx="1670.1" cy="2201.5" rx="10.9" ry="10.9" fill="#cccccc" fill-opacity="0.92"/>
<ellipse cx="1800.89" cy="2259.63" rx="14.53" ry="10.9" fill="#c4c4c4" fill-opacity="0.92"/>
<ellipse cx="1459.38" cy="2016.22" rx="9.08" ry="5.45" fill="#e9e9e9" fill-opacity="0.92"/>
</g>
</g>
</g>
</g>
<g clip-path="url(#emc4)">
<g filter="url(#emg4)">
<rect x="1848.5" y="1852.6" width="594.3" height="452.8" fill="#9e9e9e"/>
<g filter="url(#emw4)">
<rect x="1848.5" y="1852.6" width="594.3" height="452.8" fill="#9e9e9e"/>
<polygon points="1864.08,1867.27 2429.01,1867.27 2429.01,2292.33 1864.08,2292.33" fill="url(#emp4)"/>
<path d="M1869.53 1941.74 L1963.99 1943.56" fill="none" stroke="#333" stroke-opacity="0.3" stroke-width="6" stroke-linecap="round"/>
<path d="M2025.75 1938.11 L2062.08 1937.02" fill="none" stroke="#333" stroke-opacity="0.3" stroke-width="6" stroke-linecap="round"/>
<path d="M2229.2 1954.46 L2276.43 1932.66" fill="none" stroke="#333" stroke-opacity="0.3" stroke-width="6" stroke-linecap="round"/>
<path d="M2356.35 1938.11 L2422.84 1934.48" fill="none" stroke="#333" stroke-opacity="0.35" stroke-width="6" stroke-linecap="round"/>
<path d="M1869.53 2012.59 L1963.99 2018.04" fill="none" stroke="#333" stroke-opacity="0.3" stroke-width="6" stroke-linecap="round"/>
<path d="M2036.65 2077.98 L2069.35 2078.71" fill="none" stroke="#333" stroke-opacity="0.3" stroke-width="6" stroke-linecap="round"/>
<path d="M2167.44 2114.31 L2218.3 2110.68 L2280.06 2088.88" fill="none" stroke="#333" stroke-opacity="0.3" stroke-width="6" stroke-linecap="round"/>
<path d="M2345.45 2087.06 L2422.84 2081.61" fill="none" stroke="#333" stroke-opacity="0.35" stroke-width="6" stroke-linecap="round"/>
<path d="M1869.53 2161.54 L1963.99 2163.36" fill="none" stroke="#333" stroke-opacity="0.3" stroke-width="6" stroke-linecap="round"/>
<path d="M2036.65 2219.67 L2069.35 2221.48" fill="none" stroke="#333" stroke-opacity="0.25" stroke-width="6" stroke-linecap="round"/>
<path d="M2156.54 2254.18 L2218.3 2250.55 L2283.69 2237.83" fill="none" stroke="#333" stroke-opacity="0.3" stroke-width="6" stroke-linecap="round"/>
<path d="M2345.45 2232.38 L2422.84 2230.57" fill="none" stroke="#333" stroke-opacity="0.35" stroke-width="6" stroke-linecap="round"/>
<path d="M1913.13 1872.72 L1914.94 2285.06" fill="none" stroke="#333" stroke-opacity="0" stroke-width="9" stroke-linecap="round"/>
<path d="M2178.34 1976.26 L2214.67 1974.44" fill="none" stroke="#333" stroke-opacity="0.25" stroke-width="5" stroke-linecap="round"/>
<ellipse cx="1994.87" cy="1892.7" rx="34.06" ry="27.52" fill="#e0e0e0" fill-opacity="0.24" transform="rotate(0 1994.87 1892.7)"/>
<ellipse cx="1994.87" cy="1963.54" rx="37.7" ry="57.68" fill="#e0e0e0" fill-opacity="0.24" transform="rotate(0 1994.87 1963.54)"/>
<ellipse cx="1994.87" cy="2058" rx="43.15" ry="50.41" fill="#e0e0e0" fill-opacity="0.24" transform="rotate(0 1994.87 2058)"/>
<ellipse cx="1999.23" cy="2132.47" rx="43.15" ry="43.15" fill="#e0e0e0" fill-opacity="0.24" transform="rotate(0 1999.23 2132.47)"/>
<ellipse cx="2000.32" cy="2192.42" rx="38.42" ry="27.52" fill="#e0e0e0" fill-opacity="0.18" transform="rotate(0 2000.32 2192.42)"/>
<ellipse cx="1998.5" cy="2254.18" rx="41.33" ry="42.06" fill="#e0e0e0" fill-opacity="0.24" transform="rotate(0 1998.5 2254.18)"/>
<ellipse cx="2116.58" cy="1892.7" rx="58.41" ry="34.06" fill="#e0e0e0" fill-opacity="0.24" transform="rotate(0 2116.58 1892.7)"/>
<ellipse cx="2080.25" cy="1956.27" rx="23.16" ry="24.98" fill="#e0e0e0" fill-opacity="0.24" transform="rotate(0 2080.25 1956.27)"/>
<ellipse cx="2114.76" cy="2005.32" rx="51.14" ry="47.51" fill="#e0e0e0" fill-opacity="0.3" transform="rotate(0 2114.76 2005.32)"/>
<ellipse cx="2123.84" cy="2067.81" rx="34.06" ry="28.61" fill="#e0e0e0" fill-opacity="0.24" transform="rotate(0 2123.84 2067.81)"/>
<ellipse cx="2114.76" cy="2135.02" rx="52.96" ry="50.41" fill="#e0e0e0" fill-opacity="0.3" transform="rotate(0 2114.76 2135.02)"/>
<ellipse cx="2109.31" cy="2214.94" rx="48.6" ry="42.06" fill="#e0e0e0" fill-opacity="0.24" transform="rotate(0 2109.31 2214.94)"/>
<ellipse cx="2116.58" cy="2272.35" rx="37.7" ry="27.52" fill="#e0e0e0" fill-opacity="0.24" transform="rotate(0 2116.58 2272.35)"/>
<ellipse cx="2323.66" cy="1896.33" rx="34.06" ry="32.25" fill="#e0e0e0" fill-opacity="0.24" transform="rotate(0 2323.66 1896.33)"/>
<ellipse cx="2327.29" cy="1937.02" rx="30.43" ry="23.16" fill="#e0e0e0" fill-opacity="0.18" transform="rotate(0 2327.29 1937.02)"/>
<ellipse cx="2327.29" cy="1980.62" rx="30.43" ry="28.61" fill="#e0e0e0" fill-opacity="0.24" transform="rotate(0 2327.29 1980.62)"/>
<ellipse cx="2309.12" cy="2056.18" rx="32.25" ry="52.96" fill="#e0e0e0" fill-opacity="0.24" transform="rotate(0 2309.12 2056.18)"/>
<ellipse cx="2303.68" cy="2194.24" rx="30.43" ry="49.32" fill="#e0e0e0" fill-opacity="0.18" transform="rotate(0 2303.68 2194.24)"/>
<ellipse cx="1914.94" cy="1898.15" rx="16.99" ry="26.8" fill="#e0e0e0" fill-opacity="0.18" transform="rotate(0 1914.94 1898.15)"/>
<ellipse cx="1916.76" cy="1981.71" rx="16.99" ry="27.52" fill="#e0e0e0" fill-opacity="0.18" transform="rotate(0 1916.76 1981.71)"/>
<ellipse cx="1913.13" cy="2077.98" rx="5.09" ry="181.65" fill="#b4b4b4"/>
<ellipse cx="2214.67" cy="2077.98" rx="5.81" ry="207.08" fill="#bcbcbc"/>
<ellipse cx="2287.33" cy="2077.98" rx="6.54" ry="207.08" fill="#b6b6b6"/>
<g filter="url(#emm4)">
<ellipse cx="1994.87" cy="1892.7" rx="29.06" ry="22.52" fill="#6a6a6a" stroke="#303030" stroke-width="1.8" transform="rotate(0 1994.87 1892.7)"/>
<ellipse cx="1994.87" cy="1963.54" rx="32.7" ry="52.68" fill="#6a6a6a" stroke="#303030" stroke-width="1.8" transform="rotate(0 1994.87 1963.54)"/>
<ellipse cx="1994.87" cy="2058" rx="38.15" ry="45.41" fill="#6a6a6a" stroke="#303030" stroke-width="1.8" transform="rotate(0 1994.87 2058)"/>
<ellipse cx="1999.23" cy="2132.47" rx="38.15" ry="38.15" fill="#6a6a6a" stroke="#303030" stroke-width="1.8" transform="rotate(0 1999.23 2132.47)"/>
<ellipse cx="2000.32" cy="2192.42" rx="33.42" ry="22.52" fill="#808080" stroke="#303030" stroke-width="1.8" transform="rotate(0 2000.32 2192.42)"/>
<ellipse cx="1998.5" cy="2254.18" rx="36.33" ry="37.06" fill="#6a6a6a" stroke="#303030" stroke-width="1.8" transform="rotate(0 1998.5 2254.18)"/>
<ellipse cx="2116.58" cy="1892.7" rx="53.41" ry="29.06" fill="#6a6a6a" stroke="#303030" stroke-width="1.8" transform="rotate(0 2116.58 1892.7)"/>
<ellipse cx="2080.25" cy="1956.27" rx="18.16" ry="19.98" fill="#7a7a7a" stroke="#303030" stroke-width="1.8" transform="rotate(0 2080.25 1956.27)"/>
<ellipse cx="2114.76" cy="2005.32" rx="46.14" ry="42.51" fill="#6a6a6a" stroke="#303030" stroke-width="1.8" transform="rotate(0 2114.76 2005.32)"/>
<ellipse cx="2123.84" cy="2067.81" rx="29.06" ry="23.61" fill="#747474" stroke="#303030" stroke-width="1.8" transform="rotate(0 2123.84 2067.81)"/>
<ellipse cx="2114.76" cy="2135.02" rx="47.96" ry="45.41" fill="#6a6a6a" stroke="#303030" stroke-width="1.8" transform="rotate(0 2114.76 2135.02)"/>
<ellipse cx="2109.31" cy="2214.94" rx="43.6" ry="37.06" fill="#6a6a6a" stroke="#303030" stroke-width="1.8" transform="rotate(0 2109.31 2214.94)"/>
<ellipse cx="2116.58" cy="2272.35" rx="32.7" ry="22.52" fill="#6a6a6a" stroke="#303030" stroke-width="1.8" transform="rotate(0 2116.58 2272.35)"/>
<ellipse cx="2323.66" cy="1896.33" rx="29.06" ry="27.25" fill="#6a6a6a" stroke="#303030" stroke-width="1.8" transform="rotate(0 2323.66 1896.33)"/>
<ellipse cx="2327.29" cy="1937.02" rx="25.43" ry="18.16" fill="#5a5a5a" stroke="#303030" stroke-width="1.8" transform="rotate(0 2327.29 1937.02)"/>
<ellipse cx="2327.29" cy="1980.62" rx="25.43" ry="23.61" fill="#6a6a6a" stroke="#303030" stroke-width="1.8" transform="rotate(0 2327.29 1980.62)"/>
<ellipse cx="2309.12" cy="2056.18" rx="27.25" ry="47.96" fill="#808080" stroke="#303030" stroke-width="1.8" transform="rotate(0 2309.12 2056.18)"/>
<ellipse cx="2303.68" cy="2194.24" rx="25.43" ry="44.32" fill="#6a6a6a" stroke="#303030" stroke-width="1.8" transform="rotate(0 2303.68 2194.24)"/>
<ellipse cx="1914.94" cy="1898.15" rx="11.99" ry="21.8" fill="#6a6a6a" stroke="#303030" stroke-width="1.8" transform="rotate(0 1914.94 1898.15)"/>
<ellipse cx="1916.76" cy="1981.71" rx="11.99" ry="22.52" fill="#6a6a6a" stroke="#303030" stroke-width="1.8" transform="rotate(0 1916.76 1981.71)"/>
<ellipse cx="2123.84" cy="1939.93" rx="21.8" ry="18.16" fill="#858585" stroke="#303030" stroke-width="1.8" transform="rotate(0 2123.84 1939.93)"/>
<ellipse cx="1865.9" cy="2038.02" rx="7.27" ry="21.8" fill="#6a6a6a" stroke="#303030" stroke-width="1.8" transform="rotate(0 1865.9 2038.02)"/>
</g>
<g filter="url(#emr4)">
<ellipse cx="2329.11" cy="2015.13" rx="14.53" ry="10.9" fill="#e9e9e9" fill-opacity="0.92"/>
<ellipse cx="2014.85" cy="2091.42" rx="10.9" ry="7.27" fill="#e9e9e9" fill-opacity="0.92"/>
<ellipse cx="2072.98" cy="2176.8" rx="7.27" ry="7.99" fill="#e9e9e9" fill-opacity="0.92"/>
<ellipse cx="2145.64" cy="2034.38" rx="9.08" ry="6.54" fill="#e9e9e9" fill-opacity="0.92"/>
<ellipse cx="1982.15" cy="2210.58" rx="6.54" ry="5.81" fill="#e9e9e9" fill-opacity="0.92"/>
<ellipse cx="1989.42" cy="1950.83" rx="7.27" ry="5.09" fill="#cccccc" fill-opacity="0.92"/>
<ellipse cx="2290.96" cy="2092.51" rx="5.09" ry="14.53" fill="#d0d0d0" fill-opacity="0.92"/>
</g>
</g>
</g>
</g>
<rect x="97" y="2263.3" width="75.3" height="8.3" fill="#fff200"/>
<rect x="669.5" y="2263.3" width="77" height="8.3" fill="#fff200"/>
<rect x="1321.7" y="2263.3" width="77.6" height="8.3" fill="#fff200"/>
<rect x="1888.5" y="2263.3" width="76.5" height="8.3" fill="#fff200"/>
<text x="135" y="2258" font-size="20" text-anchor="middle" font-weight="bold" fill="#fff200" font-style="italic">1µm</text>
</g>
<g id="panelGI">
<text x="88" y="2381" font-size="50" font-weight="bold">G</text>
<text x="1308.5" y="2381.5" font-size="50" font-weight="bold">I</text>
<rect x="405" y="2353" width="24.4" height="23.9" fill="#cbcbcb" stroke="#777" stroke-width="1.1"/>
<line x1="417.2" y1="2353" x2="417.2" y2="2358.6" stroke="#777" stroke-width="1.2"/>
<line x1="417.2" y1="2371.4" x2="417.2" y2="2376.9" stroke="#777" stroke-width="1.2"/>
<rect x="407.7" y="2358.6" width="19" height="12.8" fill="none" stroke="#777" stroke-width="1.2"/>
<line x1="407.7" y1="2365" x2="426.7" y2="2365" stroke="#777" stroke-width="1.3"/>
<text x="437.8" y="2371.7" font-size="26.5">WT</text>
<rect x="559.3" y="2353" width="24.4" height="23.9" fill="#d92b23" stroke="#8a1a14" stroke-width="1.1"/>
<line x1="571.5" y1="2353" x2="571.5" y2="2358.6" stroke="#8a1a14" stroke-width="1.2"/>
<line x1="571.5" y1="2371.4" x2="571.5" y2="2376.9" stroke="#8a1a14" stroke-width="1.2"/>
<rect x="562" y="2358.6" width="19" height="12.8" fill="none" stroke="#8a1a14" stroke-width="1.2"/>
<line x1="562" y1="2365" x2="581" y2="2365" stroke="#8a1a14" stroke-width="1.3"/>
<text x="592.2" y="2371.7" font-size="26.5">D1-Tg</text>
<rect x="1656.8" y="2353" width="24.4" height="23.9" fill="#cbcbcb" stroke="#777" stroke-width="1.1"/>
<line x1="1669" y1="2353" x2="1669" y2="2358.6" stroke="#777" stroke-width="1.2"/>
<line x1="1669" y1="2371.4" x2="1669" y2="2376.9" stroke="#777" stroke-width="1.2"/>
<rect x="1659.5" y="2358.6" width="19" height="12.8" fill="none" stroke="#777" stroke-width="1.2"/>
<line x1="1659.5" y1="2365" x2="1678.5" y2="2365" stroke="#777" stroke-width="1.3"/>
<text x="1691" y="2371.7" font-size="26.5">WT TAC</text>
<rect x="1845.1" y="2353" width="24.4" height="23.9" fill="#4aaeea" stroke="#1f6fa0" stroke-width="1.1"/>
<line x1="1857.3" y1="2353" x2="1857.3" y2="2358.6" stroke="#1f6fa0" stroke-width="1.2"/>
<line x1="1857.3" y1="2371.4" x2="1857.3" y2="2376.9" stroke="#1f6fa0" stroke-width="1.2"/>
<rect x="1847.8" y="2358.6" width="19" height="12.8" fill="none" stroke="#1f6fa0" stroke-width="1.2"/>
<line x1="1847.8" y1="2365" x2="1866.8" y2="2365" stroke="#1f6fa0" stroke-width="1.3"/>
<text x="1879.5" y="2371.7" font-size="26.5">D1KO TAC</text>
<line x1="197.9" y1="2427.8" x2="197.9" y2="2690.6" stroke="#000" stroke-width="4.2"/>
<line x1="195.8" y1="2688.5" x2="401.4" y2="2688.5" stroke="#000" stroke-width="4.2"/>
<line x1="186.9" y1="2482.5" x2="197.9" y2="2482.5" stroke="#000" stroke-width="4"/>
<text x="180.6" y="2494.2" font-size="33.5" text-anchor="end">0.5</text>
<line x1="186.9" y1="2542" x2="197.9" y2="2542" stroke="#000" stroke-width="4"/>
<text x="180.6" y="2553.7" font-size="33.5" text-anchor="end">0.4</text>
<line x1="186.9" y1="2601" x2="197.9" y2="2601" stroke="#000" stroke-width="4"/>
<text x="180.6" y="2612.7" font-size="33.5" text-anchor="end">0.3</text>
<line x1="186.9" y1="2660.5" x2="197.9" y2="2660.5" stroke="#000" stroke-width="4"/>
<text x="180.6" y="2672.2" font-size="33.5" text-anchor="end">0.2</text>
<text transform="translate(116.5 2546) rotate(-90)" font-size="33" text-anchor="middle">Mitochondria / µm<tspan font-size="20.46" dy="-10">2</tspan></text>
<path d="M253.1 2495.26 C253.52 2495.26 253.73 2505.2 254.36 2508.87 C254.98 2512.53 255.61 2514.45 256.87 2517.24 C258.12 2520.03 259.66 2522.48 261.89 2525.62 C264.13 2528.76 267.55 2532.59 270.27 2536.08 C272.99 2539.57 275.15 2542.02 278.22 2546.55 C281.29 2551.09 285.9 2557.02 288.69 2563.3 C291.48 2569.58 294.06 2577.96 294.97 2584.24 C295.88 2590.52 295.11 2595.75 294.13 2600.99 C293.16 2606.22 291.41 2610.76 289.11 2615.64 C286.81 2620.53 283.53 2625.76 280.32 2630.3 C277.11 2634.83 272.99 2639.02 269.85 2642.86 C266.71 2646.7 263.85 2649.84 261.47 2653.33 C259.1 2656.81 257.01 2659.78 255.61 2663.79 C254.22 2667.81 253.94 2677.4 253.1 2677.4 C252.26 2677.4 251.98 2667.81 250.59 2663.79 C249.19 2659.78 247.1 2656.81 244.73 2653.33 C242.35 2649.84 239.49 2646.7 236.35 2642.86 C233.21 2639.02 229.09 2634.83 225.88 2630.3 C222.67 2625.76 219.39 2620.53 217.09 2615.64 C214.79 2610.76 213.04 2606.22 212.07 2600.99 C211.09 2595.75 210.32 2590.52 211.23 2584.24 C212.14 2577.96 214.72 2569.58 217.51 2563.3 C220.3 2557.02 224.91 2551.09 227.98 2546.55 C231.05 2542.02 233.21 2539.57 235.93 2536.08 C238.65 2532.59 242.07 2528.76 244.31 2525.62 C246.54 2522.48 248.08 2520.03 249.33 2517.24 C250.59 2514.45 251.22 2512.53 251.84 2508.87 C252.47 2505.2 252.68 2495.26 253.1 2495.26Z" fill="#fafafa" stroke="#333" stroke-width="2.2"/>
<line x1="253.1" y1="2548.02" x2="253.1" y2="2624.64" stroke="#222" stroke-width="1.6"/>
<rect x="239.7" y="2570.9" width="28.1" height="35.7" fill="#b3b3b3" stroke="#333" stroke-width="1.5"/>
<line x1="239.7" y1="2586.4" x2="267.8" y2="2586.4" stroke="#333" stroke-width="1.8"/>
<circle cx="253.1" cy="2548.02" r="2.2" fill="#222"/>
<circle cx="253.1" cy="2624.64" r="2.2" fill="#222"/>
<path d="M344.5 2439.78 C345.06 2439.78 345.2 2450.42 346.17 2454.43 C347.15 2458.45 348.2 2460.71 350.36 2463.85 C352.53 2467 356.57 2470.14 359.16 2473.28 C361.74 2476.42 364.39 2479.91 365.85 2482.7 C367.32 2485.49 368.02 2487.41 367.95 2490.02 C367.88 2492.64 366.76 2495.61 365.44 2498.4 C364.11 2501.19 361.53 2503.81 359.99 2506.77 C358.46 2509.74 355.49 2513.05 356.22 2516.19 C356.96 2519.34 360.76 2522.3 364.39 2525.62 C368.02 2528.93 374.33 2532.42 378 2536.08 C381.66 2539.75 385.85 2543.41 386.37 2547.6 C386.9 2551.79 383.93 2556.15 381.14 2561.21 C378.35 2566.27 373.01 2573.07 369.62 2577.96 C366.24 2582.84 363.55 2586.68 360.83 2590.52 C358.11 2594.36 355.49 2597.5 353.29 2600.99 C351.09 2604.47 349.11 2606.92 347.64 2611.45 C346.17 2615.99 345.55 2628.2 344.5 2628.2 C343.45 2628.2 342.83 2615.99 341.36 2611.45 C339.89 2606.92 337.91 2604.47 335.71 2600.99 C333.51 2597.5 330.89 2594.36 328.17 2590.52 C325.45 2586.68 322.76 2582.84 319.38 2577.96 C315.99 2573.07 310.65 2566.27 307.86 2561.21 C305.07 2556.15 302.1 2551.79 302.63 2547.6 C303.15 2543.41 307.34 2539.75 311 2536.08 C314.67 2532.42 320.98 2528.93 324.61 2525.62 C328.24 2522.3 332.04 2519.34 332.78 2516.19 C333.51 2513.05 330.54 2509.74 329.01 2506.77 C327.47 2503.81 324.89 2501.19 323.56 2498.4 C322.24 2495.61 321.12 2492.64 321.05 2490.02 C320.98 2487.41 321.68 2485.49 323.15 2482.7 C324.61 2479.91 327.26 2476.42 329.84 2473.28 C332.43 2470.14 336.47 2467 338.64 2463.85 C340.8 2460.71 341.85 2458.45 342.83 2454.43 C343.8 2450.42 343.94 2439.78 344.5 2439.78Z" fill="#ee8d8a" stroke="#333" stroke-width="2.2"/>
<line x1="344.5" y1="2489.61" x2="344.5" y2="2579" stroke="#222" stroke-width="1.6"/>
<rect x="330.7" y="2527.8" width="28" height="31.9" fill="#d92b23" stroke="#333" stroke-width="1.5"/>
<line x1="330.7" y1="2546.3" x2="358.7" y2="2546.3" stroke="#333" stroke-width="1.8"/>
<circle cx="344.5" cy="2489.61" r="2.2" fill="#222"/>
<circle cx="344.5" cy="2579" r="2.2" fill="#222"/>
<path d="M251.8 2436.3 V2426.8 H344.5 V2436.3" fill="none" stroke="#000" stroke-width="3.3"/>
<text x="303" y="2416" font-size="28.7" text-anchor="middle">p=0.074</text>
<line x1="589" y1="2424" x2="589" y2="2690.1" stroke="#000" stroke-width="4.2"/>
<line x1="586.9" y1="2688" x2="791.3" y2="2688" stroke="#000" stroke-width="4.2"/>
<line x1="578" y1="2428.6" x2="589" y2="2428.6" stroke="#000" stroke-width="4"/>
<text x="572.4" y="2440.3" font-size="33.5" text-anchor="end">15</text>
<line x1="578" y1="2508.4" x2="589" y2="2508.4" stroke="#000" stroke-width="4"/>
<text x="572.4" y="2520.1" font-size="33.5" text-anchor="end">10</text>
<line x1="578" y1="2587.4" x2="589" y2="2587.4" stroke="#000" stroke-width="4"/>
<text x="572.4" y="2599.1" font-size="33.5" text-anchor="end">5</text>
<line x1="578" y1="2666.3" x2="589" y2="2666.3" stroke="#000" stroke-width="4"/>
<text x="572.4" y="2678" font-size="33.5" text-anchor="end">0</text>
<text text-anchor="middle" transform="translate(521.5 2550) rotate(-90)" font-size="33">‰ Mitochondria area</text>
<path d="M644 2435.59 C644.21 2435.59 644.35 2469.44 644.63 2483.74 C644.91 2498.05 644.87 2513.05 645.67 2521.43 C646.48 2529.8 648.61 2529.8 649.44 2533.99 C650.28 2538.18 649.79 2542.36 650.7 2546.55 C651.61 2550.74 653.14 2554.93 654.89 2559.11 C656.63 2563.3 658.79 2567.49 661.17 2571.68 C663.54 2575.86 666.23 2580.05 669.12 2584.24 C672.02 2588.42 675.89 2592.61 678.54 2596.8 C681.2 2600.99 685.03 2605.52 685.03 2609.36 C685.03 2613.2 681.72 2615.64 678.54 2619.83 C675.37 2624.02 670 2629.6 665.98 2634.48 C661.97 2639.37 657.61 2644.95 654.47 2649.14 C651.33 2653.33 648.89 2655.07 647.14 2659.61 C645.4 2664.14 645.05 2676.36 644 2676.36 C642.95 2676.36 642.6 2664.14 640.86 2659.61 C639.11 2655.07 636.67 2653.33 633.53 2649.14 C630.39 2644.95 626.03 2639.37 622.02 2634.48 C618 2629.6 612.63 2624.02 609.46 2619.83 C606.28 2615.64 602.97 2613.2 602.97 2609.36 C602.97 2605.52 606.8 2600.99 609.46 2596.8 C612.11 2592.61 615.98 2588.42 618.88 2584.24 C621.77 2580.05 624.46 2575.86 626.83 2571.68 C629.21 2567.49 631.37 2563.3 633.11 2559.11 C634.86 2554.93 636.39 2550.74 637.3 2546.55 C638.21 2542.36 637.72 2538.18 638.56 2533.99 C639.39 2529.8 641.52 2529.8 642.33 2521.43 C643.13 2513.05 643.09 2498.05 643.37 2483.74 C643.65 2469.44 643.79 2435.59 644 2435.59Z" fill="#fafafa" stroke="#333" stroke-width="2.2"/>
<line x1="644" y1="2527.71" x2="644" y2="2654.37" stroke="#222" stroke-width="3.6"/>
<line x1="644" y1="2527.71" x2="644" y2="2654.37" stroke="#222" stroke-width="1.6"/>
<circle cx="644" cy="2460.71" r="2.6" fill="#3a3a3a"/>
<circle cx="644" cy="2474.32" r="3" fill="#3a3a3a"/>
<circle cx="644" cy="2479.56" r="3.2" fill="#3a3a3a"/>
<circle cx="644" cy="2484.79" r="3.2" fill="#3a3a3a"/>
<circle cx="644" cy="2490.02" r="3.4" fill="#3a3a3a"/>
<circle cx="644" cy="2495.26" r="3.4" fill="#3a3a3a"/>
<circle cx="644" cy="2500.49" r="3.6" fill="#3a3a3a"/>
<circle cx="644" cy="2505.73" r="3.6" fill="#3a3a3a"/>
<circle cx="644" cy="2510.96" r="3.6" fill="#3a3a3a"/>
<circle cx="644" cy="2517.24" r="3.8" fill="#3a3a3a"/>
<circle cx="644" cy="2523.52" r="4" fill="#3a3a3a"/>
<rect x="630.2" y="2582" width="28.1" height="37" fill="#b3b3b3" stroke="#333" stroke-width="1.5"/>
<line x1="630.2" y1="2603.2" x2="658.3" y2="2603.2" stroke="#333" stroke-width="1.8"/>
<path d="M735.2 2487.93 C735.41 2487.93 735.48 2513.05 735.83 2525.62 C736.18 2538.18 736.42 2554.93 737.29 2563.3 C738.17 2571.68 739.46 2571.68 741.06 2575.86 C742.67 2580.05 745.04 2584.59 746.92 2588.42 C748.81 2592.26 750.41 2595.4 752.37 2598.89 C754.32 2602.38 756.28 2605.87 758.65 2609.36 C761.02 2612.85 764.02 2616.34 766.6 2619.83 C769.19 2623.32 772.4 2627.33 774.14 2630.3 C775.89 2633.26 777.56 2635.36 777.07 2637.62 C776.58 2639.89 774.18 2641.64 771.21 2643.9 C768.24 2646.17 763.25 2648.61 759.28 2651.23 C755.3 2653.85 750.8 2656.81 747.34 2659.61 C743.89 2662.4 740.57 2665.01 738.55 2667.98 C736.53 2670.95 736.32 2677.4 735.2 2677.4 C734.08 2677.4 733.87 2670.95 731.85 2667.98 C729.83 2665.01 726.51 2662.4 723.06 2659.61 C719.6 2656.81 715.1 2653.85 711.12 2651.23 C707.15 2648.61 702.16 2646.17 699.19 2643.9 C696.22 2641.64 693.82 2639.89 693.33 2637.62 C692.84 2635.36 694.51 2633.26 696.26 2630.3 C698 2627.33 701.21 2623.32 703.8 2619.83 C706.38 2616.34 709.38 2612.85 711.75 2609.36 C714.12 2605.87 716.08 2602.38 718.03 2598.89 C719.99 2595.4 721.59 2592.26 723.48 2588.42 C725.36 2584.59 727.73 2580.05 729.34 2575.86 C730.94 2571.68 732.23 2571.68 733.11 2563.3 C733.98 2554.93 734.22 2538.18 734.57 2525.62 C734.92 2513.05 734.99 2487.93 735.2 2487.93Z" fill="#ee8d8a" stroke="#333" stroke-width="2.2"/>
<line x1="735.2" y1="2565.39" x2="735.2" y2="2659.61" stroke="#222" stroke-width="3.6"/>
<line x1="735.2" y1="2565.39" x2="735.2" y2="2659.61" stroke="#222" stroke-width="1.6"/>
<circle cx="735.2" cy="2505.73" r="3.6" fill="#3a3a3a"/>
<circle cx="735.2" cy="2509.91" r="3.6" fill="#3a3a3a"/>
<circle cx="735.2" cy="2520.38" r="3.4" fill="#3a3a3a"/>
<circle cx="735.2" cy="2527.71" r="3.4" fill="#3a3a3a"/>
<circle cx="735.2" cy="2533.99" r="3.6" fill="#3a3a3a"/>
<circle cx="735.2" cy="2540.27" r="3.6" fill="#3a3a3a"/>
<circle cx="735.2" cy="2546.55" r="3.8" fill="#3a3a3a"/>
<circle cx="735.2" cy="2552.83" r="4" fill="#3a3a3a"/>
<circle cx="735.2" cy="2558.07" r="4.2" fill="#3a3a3a"/>
<circle cx="735.2" cy="2562.25" r="4.2" fill="#3a3a3a"/>
<rect x="721.4" y="2609.7" width="28.1" height="28.5" fill="#d92b23" stroke="#333" stroke-width="1.5"/>
<line x1="721.4" y1="2624.4" x2="749.5" y2="2624.4" stroke="#333" stroke-width="1.8"/>
<path d="M644 2438 V2427 H738 V2438" fill="none" stroke="#000" stroke-width="3.3"/>
<text x="691" y="2431.5" font-size="38" text-anchor="middle">***</text>
<line x1="979" y1="2425" x2="979" y2="2690.1" stroke="#000" stroke-width="4.2"/>
<line x1="976.9" y1="2688" x2="1180.5" y2="2688" stroke="#000" stroke-width="4.2"/>
<line x1="968" y1="2480.1" x2="979" y2="2480.1" stroke="#000" stroke-width="4"/>
<text x="961.7" y="2491.8" font-size="33.5" text-anchor="end">30</text>
<line x1="968" y1="2555.5" x2="979" y2="2555.5" stroke="#000" stroke-width="4"/>
<text x="961.7" y="2567.2" font-size="33.5" text-anchor="end">20</text>
<line x1="968" y1="2631.3" x2="979" y2="2631.3" stroke="#000" stroke-width="4"/>
<text x="961.7" y="2643" font-size="33.5" text-anchor="end">10</text>
<text text-anchor="middle" transform="translate(911.5 2553) rotate(-90)" font-size="29">% Abnormal mitochondria</text>
<path d="M1034.2 2576.35 C1035.84 2576.35 1036.89 2580.95 1039.13 2583.25 C1041.36 2585.55 1045.92 2587.84 1047.6 2590.14 C1049.27 2592.44 1049.57 2594.91 1049.18 2597.04 C1048.78 2599.17 1046.22 2601.14 1045.23 2602.95 C1044.25 2604.76 1042.15 2606.07 1043.26 2607.88 C1044.38 2609.68 1047.86 2611.82 1051.93 2613.79 C1056.01 2615.76 1063.76 2617.73 1067.7 2619.7 C1071.64 2621.67 1076.24 2623.64 1075.58 2625.61 C1074.92 2627.58 1068.68 2629.55 1063.76 2631.52 C1058.83 2633.49 1050.46 2635.46 1046.02 2637.43 C1041.59 2639.4 1039.13 2641.54 1037.16 2643.34 C1035.19 2645.15 1035.19 2648.27 1034.2 2648.27 C1033.21 2648.27 1033.21 2645.15 1031.24 2643.34 C1029.27 2641.54 1026.81 2639.4 1022.38 2637.43 C1017.94 2635.46 1009.57 2633.49 1004.64 2631.52 C999.72 2629.55 993.48 2627.58 992.82 2625.61 C992.16 2623.64 996.76 2621.67 1000.7 2619.7 C1004.64 2617.73 1012.39 2615.76 1016.47 2613.79 C1020.54 2611.82 1024.02 2609.68 1025.14 2607.88 C1026.25 2606.07 1024.15 2604.76 1023.17 2602.95 C1022.18 2601.14 1019.62 2599.17 1019.22 2597.04 C1018.83 2594.91 1019.13 2592.44 1020.8 2590.14 C1022.48 2587.84 1027.04 2585.55 1029.27 2583.25 C1031.51 2580.95 1032.56 2576.35 1034.2 2576.35Z" fill="#fafafa" stroke="#333" stroke-width="2.2"/>
<line x1="1034.2" y1="2614.57" x2="1034.2" y2="2629.35" stroke="#222" stroke-width="1.6"/>
<circle cx="1034.2" cy="2595.36" r="3.6" fill="#3a3a3a"/>
<rect x="1020.4" y="2614.6" width="26.1" height="13.3" fill="#b3b3b3" stroke="#333" stroke-width="1.5"/>
<line x1="1020.4" y1="2623.5" x2="1046.5" y2="2623.5" stroke="#333" stroke-width="1.8"/>
<circle cx="1034.2" cy="2629.35" r="2.2" fill="#222"/>
<path d="M1124.3 2439.41 C1125.29 2439.41 1125.12 2452.54 1127.26 2459.11 C1129.39 2465.68 1133.5 2472.9 1137.11 2478.82 C1140.72 2484.73 1146.4 2489.32 1148.93 2494.58 C1151.46 2499.83 1150.64 2504.76 1152.28 2510.34 C1153.92 2515.93 1156.55 2521.18 1158.78 2528.08 C1161.02 2534.97 1166.17 2544.17 1165.68 2551.72 C1165.19 2559.27 1158.78 2567.16 1155.83 2573.4 C1152.87 2579.63 1149.09 2583.58 1147.94 2589.16 C1146.8 2594.74 1149.59 2600.65 1148.93 2606.89 C1148.27 2613.13 1146.47 2620.03 1144 2626.6 C1141.54 2633.16 1136.94 2640.39 1134.15 2646.3 C1131.36 2652.21 1128.9 2656.81 1127.26 2662.06 C1125.61 2667.32 1125.29 2677.83 1124.3 2677.83 C1123.31 2677.83 1122.99 2667.32 1121.34 2662.06 C1119.7 2656.81 1117.24 2652.21 1114.45 2646.3 C1111.66 2640.39 1107.06 2633.16 1104.6 2626.6 C1102.13 2620.03 1100.33 2613.13 1099.67 2606.89 C1099.01 2600.65 1101.8 2594.74 1100.66 2589.16 C1099.51 2583.58 1095.73 2579.63 1092.77 2573.4 C1089.82 2567.16 1083.41 2559.27 1082.92 2551.72 C1082.43 2544.17 1087.58 2534.97 1089.82 2528.08 C1092.05 2521.18 1094.68 2515.93 1096.32 2510.34 C1097.96 2504.76 1097.14 2499.83 1099.67 2494.58 C1102.2 2489.32 1107.88 2484.73 1111.49 2478.82 C1115.1 2472.9 1119.21 2465.68 1121.34 2459.11 C1123.48 2452.54 1123.31 2439.41 1124.3 2439.41Z" fill="#ee8d8a" stroke="#333" stroke-width="2.2"/>
<line x1="1124.3" y1="2501.28" x2="1124.3" y2="2614.08" stroke="#222" stroke-width="1.6"/>
<rect x="1110.5" y="2533.3" width="28.6" height="41.9" fill="#d92b23" stroke="#333" stroke-width="1.5"/>
<line x1="1110.5" y1="2553" x2="1139.1" y2="2553" stroke="#333" stroke-width="1.8"/>
<circle cx="1124.3" cy="2501.28" r="2.2" fill="#222"/>
<circle cx="1124.3" cy="2614.08" r="2.2" fill="#222"/>
<path d="M1030.2 2440.5 V2429.5 H1122.8 V2440.5" fill="none" stroke="#000" stroke-width="3.3"/>
<text x="1076.5" y="2431.5" font-size="38" text-anchor="middle">*</text>
<line x1="1401" y1="2424.7" x2="1401" y2="2690.6" stroke="#000" stroke-width="4.2"/>
<line x1="1398.9" y1="2688.5" x2="1610.4" y2="2688.5" stroke="#000" stroke-width="4.2"/>
<line x1="1390" y1="2437.2" x2="1401" y2="2437.2" stroke="#000" stroke-width="4"/>
<text x="1383.7" y="2448.9" font-size="33.5" text-anchor="end">0.6</text>
<line x1="1390" y1="2490.3" x2="1401" y2="2490.3" stroke="#000" stroke-width="4"/>
<text x="1383.7" y="2502" font-size="33.5" text-anchor="end">0.5</text>
<line x1="1390" y1="2542.8" x2="1401" y2="2542.8" stroke="#000" stroke-width="4"/>
<text x="1383.7" y="2554.5" font-size="33.5" text-anchor="end">0.4</text>
<line x1="1390" y1="2595" x2="1401" y2="2595" stroke="#000" stroke-width="4"/>
<text x="1383.7" y="2606.7" font-size="33.5" text-anchor="end">0.3</text>
<line x1="1390" y1="2647.6" x2="1401" y2="2647.6" stroke="#000" stroke-width="4"/>
<text x="1383.7" y="2659.3" font-size="33.5" text-anchor="end">0.2</text>
<text transform="translate(1323 2546) rotate(-90)" font-size="33" text-anchor="middle">Mitochondria / µm<tspan font-size="20.46" dy="-10">2</tspan></text>
<path d="M1458.3 2473.28 C1458.65 2473.28 1458.86 2482.17 1459.35 2485.84 C1459.84 2489.5 1460.01 2492.12 1461.23 2495.26 C1462.45 2498.4 1463.67 2501.02 1466.67 2504.68 C1469.68 2508.34 1475.05 2513.05 1479.24 2517.24 C1483.42 2521.43 1488.38 2525.62 1491.8 2529.8 C1495.22 2533.99 1498.18 2538.88 1499.75 2542.36 C1501.32 2545.85 1501.5 2547.25 1501.22 2550.74 C1500.94 2554.23 1499.75 2558.76 1498.08 2563.3 C1496.4 2567.84 1492.98 2573.07 1491.17 2577.96 C1489.36 2582.84 1488.41 2587.38 1487.19 2592.61 C1485.97 2597.85 1485.34 2604.47 1483.84 2609.36 C1482.34 2614.25 1480.53 2617.39 1478.19 2621.92 C1475.85 2626.46 1472.36 2631.69 1469.81 2636.58 C1467.27 2641.46 1464.62 2646.7 1462.91 2651.23 C1461.2 2655.77 1460.32 2659.43 1459.56 2663.79 C1458.79 2668.16 1458.72 2677.4 1458.3 2677.4 C1457.88 2677.4 1457.81 2668.16 1457.04 2663.79 C1456.28 2659.43 1455.4 2655.77 1453.69 2651.23 C1451.98 2646.7 1449.33 2641.46 1446.79 2636.58 C1444.24 2631.69 1440.75 2626.46 1438.41 2621.92 C1436.07 2617.39 1434.26 2614.25 1432.76 2609.36 C1431.26 2604.47 1430.63 2597.85 1429.41 2592.61 C1428.19 2587.38 1427.24 2582.84 1425.43 2577.96 C1423.62 2573.07 1420.2 2567.84 1418.52 2563.3 C1416.85 2558.76 1415.66 2554.23 1415.38 2550.74 C1415.1 2547.25 1415.28 2545.85 1416.85 2542.36 C1418.42 2538.88 1421.38 2533.99 1424.8 2529.8 C1428.22 2525.62 1433.18 2521.43 1437.36 2517.24 C1441.55 2513.05 1446.92 2508.34 1449.93 2504.68 C1452.93 2501.02 1454.15 2498.4 1455.37 2495.26 C1456.59 2492.12 1456.76 2489.5 1457.25 2485.84 C1457.74 2482.17 1457.95 2473.28 1458.3 2473.28Z" fill="#fafafa" stroke="#333" stroke-width="2.2"/>
<line x1="1458.3" y1="2536.81" x2="1458.3" y2="2613.1" stroke="#222" stroke-width="1.6"/>
<rect x="1444" y="2550.6" width="28.5" height="44.4" fill="#b3b3b3" stroke="#333" stroke-width="1.5"/>
<line x1="1444" y1="2554.91" x2="1472.5" y2="2554.91" stroke="#333" stroke-width="1.8"/>
<circle cx="1458.3" cy="2536.81" r="2.4" fill="#222"/>
<circle cx="1458.3" cy="2613.1" r="2.4" fill="#222"/>
<path d="M1552.2 2437.68 C1553.46 2437.68 1554.4 2448.15 1555.97 2452.34 C1557.54 2456.53 1559.46 2459.32 1561.62 2462.81 C1563.78 2466.3 1565.98 2469.09 1568.95 2473.28 C1571.91 2477.46 1576.7 2482.7 1579.42 2487.93 C1582.14 2493.17 1583.81 2499.45 1585.28 2504.68 C1586.74 2509.91 1586.92 2514.45 1588.21 2519.34 C1589.5 2524.22 1591.87 2529.45 1593.03 2533.99 C1594.18 2538.53 1595.64 2542.36 1595.12 2546.55 C1594.6 2550.74 1592.78 2554.93 1589.88 2559.11 C1586.99 2563.3 1581.16 2567.84 1577.74 2571.68 C1574.32 2575.51 1571.08 2578.65 1569.37 2582.14 C1567.66 2585.63 1567.38 2589.47 1567.48 2592.61 C1567.59 2595.75 1569.23 2598.19 1570 2600.99 C1570.76 2603.78 1571.98 2606.57 1572.09 2609.36 C1572.19 2612.15 1571.84 2614.59 1570.62 2617.73 C1569.4 2620.87 1566.79 2624.71 1564.76 2628.2 C1562.74 2631.69 1560.23 2635.18 1558.48 2638.67 C1556.74 2642.16 1555.34 2645.3 1554.29 2649.14 C1553.25 2652.98 1552.9 2661.7 1552.2 2661.7 C1551.5 2661.7 1551.15 2652.98 1550.11 2649.14 C1549.06 2645.3 1547.66 2642.16 1545.92 2638.67 C1544.17 2635.18 1541.66 2631.69 1539.64 2628.2 C1537.61 2624.71 1535 2620.87 1533.78 2617.73 C1532.56 2614.59 1532.21 2612.15 1532.31 2609.36 C1532.42 2606.57 1533.64 2603.78 1534.4 2600.99 C1535.17 2598.19 1536.81 2595.75 1536.92 2592.61 C1537.02 2589.47 1536.74 2585.63 1535.03 2582.14 C1533.32 2578.65 1530.08 2575.51 1526.66 2571.68 C1523.24 2567.84 1517.41 2563.3 1514.52 2559.11 C1511.62 2554.93 1509.8 2550.74 1509.28 2546.55 C1508.76 2542.36 1510.22 2538.53 1511.37 2533.99 C1512.53 2529.45 1514.9 2524.22 1516.19 2519.34 C1517.48 2514.45 1517.66 2509.91 1519.12 2504.68 C1520.59 2499.45 1522.26 2493.17 1524.98 2487.93 C1527.7 2482.7 1532.49 2477.46 1535.45 2473.28 C1538.42 2469.09 1540.62 2466.3 1542.78 2462.81 C1544.94 2459.32 1546.86 2456.53 1548.43 2452.34 C1550 2448.15 1550.94 2437.68 1552.2 2437.68Z" fill="#8ac8f0" stroke="#333" stroke-width="2.2"/>
<line x1="1552.2" y1="2490.26" x2="1552.2" y2="2554.05" stroke="#222" stroke-width="1.6"/>
<circle cx="1552.2" cy="2608.79" r="4.3" fill="#3a3a3a"/>
<rect x="1538" y="2517" width="28.5" height="35.8" fill="#4aaeea" stroke="#333" stroke-width="1.5"/>
<line x1="1538" y1="2547.58" x2="1566.5" y2="2547.58" stroke="#333" stroke-width="1.8"/>
<circle cx="1552.2" cy="2490.26" r="2.4" fill="#222"/>
<circle cx="1552.2" cy="2554.05" r="2.2" fill="#222"/>
<path d="M1458.3 2436.9 V2427.4 H1551 V2436.9" fill="none" stroke="#000" stroke-width="3.3"/>
<text x="1502.3" y="2416" font-size="28.7" text-anchor="middle">p=0.307</text>
<line x1="1789.8" y1="2421.2" x2="1789.8" y2="2692.7" stroke="#000" stroke-width="4.2"/>
<line x1="1787.7" y1="2690.6" x2="1997.7" y2="2690.6" stroke="#000" stroke-width="4.2"/>
<line x1="1778.8" y1="2435.4" x2="1789.8" y2="2435.4" stroke="#000" stroke-width="4"/>
<text x="1776" y="2447.1" font-size="33.5" text-anchor="end">15</text>
<line x1="1778.8" y1="2516.6" x2="1789.8" y2="2516.6" stroke="#000" stroke-width="4"/>
<text x="1776" y="2528.3" font-size="33.5" text-anchor="end">10</text>
<line x1="1778.8" y1="2597.8" x2="1789.8" y2="2597.8" stroke="#000" stroke-width="4"/>
<text x="1776" y="2609.5" font-size="33.5" text-anchor="end">5</text>
<line x1="1778.8" y1="2679" x2="1789.8" y2="2679" stroke="#000" stroke-width="4"/>
<text x="1776" y="2690.7" font-size="33.5" text-anchor="end">0</text>
<text text-anchor="middle" transform="translate(1733 2559) rotate(-90)" font-size="33">‰ Mitochondria area</text>
<path d="M1846.5 2435.59 C1846.78 2435.59 1846.99 2470.14 1847.34 2483.74 C1847.69 2497.35 1847.86 2508.87 1848.59 2517.24 C1849.33 2525.62 1850.48 2529.11 1851.73 2533.99 C1852.99 2538.88 1853.79 2540.97 1856.13 2546.55 C1858.47 2552.13 1861.96 2560.51 1865.76 2567.49 C1869.56 2574.47 1875.46 2582.84 1878.95 2588.42 C1882.44 2594.01 1884.92 2597.15 1886.7 2600.99 C1888.48 2604.82 1889.21 2607.96 1889.63 2611.45 C1890.05 2614.94 1889.77 2618.08 1889.21 2621.92 C1888.65 2625.76 1888.09 2629.95 1886.28 2634.48 C1884.46 2639.02 1881.64 2644.6 1878.32 2649.14 C1875.01 2653.67 1870.37 2658.21 1866.39 2661.7 C1862.41 2665.19 1857.77 2667.98 1854.46 2670.07 C1851.14 2672.17 1849.15 2674.26 1846.5 2674.26 C1843.85 2674.26 1841.86 2672.17 1838.54 2670.07 C1835.23 2667.98 1830.59 2665.19 1826.61 2661.7 C1822.63 2658.21 1817.99 2653.67 1814.68 2649.14 C1811.36 2644.6 1808.54 2639.02 1806.72 2634.48 C1804.91 2629.95 1804.35 2625.76 1803.79 2621.92 C1803.23 2618.08 1802.95 2614.94 1803.37 2611.45 C1803.79 2607.96 1804.52 2604.82 1806.3 2600.99 C1808.08 2597.15 1810.56 2594.01 1814.05 2588.42 C1817.54 2582.84 1823.44 2574.47 1827.24 2567.49 C1831.04 2560.51 1834.53 2552.13 1836.87 2546.55 C1839.21 2540.97 1840.01 2538.88 1841.27 2533.99 C1842.52 2529.11 1843.67 2525.62 1844.41 2517.24 C1845.14 2508.87 1845.31 2497.35 1845.66 2483.74 C1846.01 2470.14 1846.22 2435.59 1846.5 2435.59Z" fill="#fafafa" stroke="#333" stroke-width="2.2"/>
<line x1="1846.5" y1="2523.52" x2="1846.5" y2="2672.17" stroke="#222" stroke-width="3.6"/>
<line x1="1846.5" y1="2523.52" x2="1846.5" y2="2672.17" stroke="#222" stroke-width="1.6"/>
<circle cx="1846.5" cy="2437.68" r="4.2" fill="#3a3a3a"/>
<circle cx="1846.5" cy="2479.14" r="4.2" fill="#3a3a3a"/>
<circle cx="1846.5" cy="2483.74" r="4.2" fill="#3a3a3a"/>
<circle cx="1846.5" cy="2504.68" r="4.2" fill="#3a3a3a"/>
<circle cx="1846.5" cy="2509.91" r="4.2" fill="#3a3a3a"/>
<circle cx="1846.5" cy="2515.57" r="4" fill="#3a3a3a"/>
<circle cx="1846.5" cy="2520.38" r="3.6" fill="#3a3a3a"/>
<rect x="1831.7" y="2589.5" width="29.1" height="46.8" fill="#b3b3b3" stroke="#333" stroke-width="1.5"/>
<line x1="1831.7" y1="2613.13" x2="1860.8" y2="2613.13" stroke="#333" stroke-width="1.8"/>
<path d="M1940.1 2492.12 C1940.38 2492.12 1940.52 2533.99 1940.94 2546.55 C1941.36 2559.11 1941.01 2560.51 1942.61 2567.49 C1944.22 2574.47 1948.02 2583.19 1950.57 2588.42 C1953.12 2593.66 1955.45 2595.4 1957.9 2598.89 C1960.34 2602.38 1962.78 2605.87 1965.22 2609.36 C1967.67 2612.85 1970.11 2616.34 1972.55 2619.83 C1974.99 2623.32 1978.13 2627.16 1979.88 2630.3 C1981.62 2633.44 1983.3 2635.88 1983.02 2638.67 C1982.74 2641.46 1981.45 2643.9 1978.2 2647.04 C1974.96 2650.19 1968.29 2654.37 1963.55 2657.51 C1958.8 2660.65 1953.64 2663.58 1949.73 2665.89 C1945.82 2668.19 1943.31 2671.33 1940.1 2671.33 C1936.89 2671.33 1934.38 2668.19 1930.47 2665.89 C1926.56 2663.58 1921.4 2660.65 1916.65 2657.51 C1911.91 2654.37 1905.24 2650.19 1902 2647.04 C1898.75 2643.9 1897.46 2641.46 1897.18 2638.67 C1896.9 2635.88 1898.58 2633.44 1900.32 2630.3 C1902.07 2627.16 1905.21 2623.32 1907.65 2619.83 C1910.09 2616.34 1912.53 2612.85 1914.98 2609.36 C1917.42 2605.87 1919.86 2602.38 1922.3 2598.89 C1924.75 2595.4 1927.08 2593.66 1929.63 2588.42 C1932.18 2583.19 1935.98 2574.47 1937.59 2567.49 C1939.19 2560.51 1938.84 2559.11 1939.26 2546.55 C1939.68 2533.99 1939.82 2492.12 1940.1 2492.12Z" fill="#8ac8f0" stroke="#333" stroke-width="2.2"/>
<line x1="1940.1" y1="2565.39" x2="1940.1" y2="2670.07" stroke="#222" stroke-width="3.6"/>
<line x1="1940.1" y1="2565.39" x2="1940.1" y2="2670.07" stroke="#222" stroke-width="1.6"/>
<circle cx="1940.1" cy="2496.72" r="4.2" fill="#3a3a3a"/>
<circle cx="1940.1" cy="2500.07" r="4.2" fill="#3a3a3a"/>
<circle cx="1940.1" cy="2503.63" r="4.2" fill="#3a3a3a"/>
<circle cx="1940.1" cy="2507.19" r="4.2" fill="#3a3a3a"/>
<circle cx="1940.1" cy="2529.38" r="4.2" fill="#3a3a3a"/>
<circle cx="1940.1" cy="2536.08" r="4.2" fill="#3a3a3a"/>
<circle cx="1940.1" cy="2541.95" r="4.2" fill="#3a3a3a"/>
<circle cx="1940.1" cy="2547.6" r="4.2" fill="#3a3a3a"/>
<circle cx="1940.1" cy="2552.83" r="4.2" fill="#3a3a3a"/>
<circle cx="1940.1" cy="2558.07" r="4.2" fill="#3a3a3a"/>
<circle cx="1940.1" cy="2562.25" r="4" fill="#3a3a3a"/>
<rect x="1925.3" y="2612" width="29.1" height="32" fill="#4aaeea" stroke="#333" stroke-width="1.5"/>
<line x1="1925.3" y1="2631.97" x2="1954.4" y2="2631.97" stroke="#333" stroke-width="1.8"/>
<path d="M1846.5 2439 V2428 H1940.1 V2439" fill="none" stroke="#000" stroke-width="3.3"/>
<text x="1893.3" y="2431.5" font-size="38" text-anchor="middle">***</text>
<line x1="2145.5" y1="2426" x2="2145.5" y2="2690.1" stroke="#000" stroke-width="4.2"/>
<line x1="2143.4" y1="2688" x2="2347.5" y2="2688" stroke="#000" stroke-width="4.2"/>
<line x1="2134.5" y1="2453.5" x2="2145.5" y2="2453.5" stroke="#000" stroke-width="4"/>
<text x="2128.2" y="2465.2" font-size="33.5" text-anchor="end">40</text>
<line x1="2134.5" y1="2504.7" x2="2145.5" y2="2504.7" stroke="#000" stroke-width="4"/>
<text x="2128.2" y="2516.4" font-size="33.5" text-anchor="end">30</text>
<line x1="2134.5" y1="2556" x2="2145.5" y2="2556" stroke="#000" stroke-width="4"/>
<text x="2128.2" y="2567.7" font-size="33.5" text-anchor="end">20</text>
<line x1="2134.5" y1="2607.2" x2="2145.5" y2="2607.2" stroke="#000" stroke-width="4"/>
<text x="2128.2" y="2618.9" font-size="33.5" text-anchor="end">10</text>
<line x1="2134.5" y1="2658.4" x2="2145.5" y2="2658.4" stroke="#000" stroke-width="4"/>
<text x="2128.2" y="2670.1" font-size="33.5" text-anchor="end">0</text>
<text text-anchor="middle" transform="translate(2074.5 2567) rotate(-90)" font-size="29">% Abnormal mitochondria</text>
<path d="M2200.4 2438.73 C2200.75 2438.73 2200.92 2448.33 2201.45 2452.34 C2201.97 2456.35 2202.32 2459.32 2203.54 2462.81 C2204.76 2466.3 2206.86 2469.79 2208.77 2473.28 C2210.69 2476.77 2213.14 2480.25 2215.06 2483.74 C2216.97 2487.23 2218.89 2490.72 2220.29 2494.21 C2221.68 2497.7 2222.38 2501.19 2223.43 2504.68 C2224.48 2508.17 2225.35 2511.66 2226.57 2515.15 C2227.79 2518.64 2229.36 2522.13 2230.76 2525.62 C2232.15 2529.11 2233.55 2532.59 2234.94 2536.08 C2236.34 2539.57 2238.02 2543.06 2239.13 2546.55 C2240.25 2550.04 2241.19 2553.88 2241.64 2557.02 C2242.1 2560.16 2242.27 2562.6 2241.85 2565.39 C2241.43 2568.19 2240.81 2570.63 2239.13 2573.77 C2237.46 2576.91 2234.77 2580.75 2231.8 2584.24 C2228.84 2587.73 2224.65 2591.22 2221.34 2594.7 C2218.02 2598.19 2214.64 2601.68 2211.91 2605.17 C2209.19 2608.66 2206.72 2612.15 2205.01 2615.64 C2203.3 2619.13 2202.42 2622.45 2201.66 2626.11 C2200.89 2629.77 2200.82 2637.62 2200.4 2637.62 C2199.98 2637.62 2199.91 2629.77 2199.14 2626.11 C2198.38 2622.45 2197.5 2619.13 2195.79 2615.64 C2194.08 2612.15 2191.61 2608.66 2188.89 2605.17 C2186.16 2601.68 2182.78 2598.19 2179.46 2594.7 C2176.15 2591.22 2171.96 2587.73 2169 2584.24 C2166.03 2580.75 2163.34 2576.91 2161.67 2573.77 C2159.99 2570.63 2159.37 2568.19 2158.95 2565.39 C2158.53 2562.6 2158.7 2560.16 2159.16 2557.02 C2159.61 2553.88 2160.55 2550.04 2161.67 2546.55 C2162.78 2543.06 2164.46 2539.57 2165.86 2536.08 C2167.25 2532.59 2168.65 2529.11 2170.04 2525.62 C2171.44 2522.13 2173.01 2518.64 2174.23 2515.15 C2175.45 2511.66 2176.32 2508.17 2177.37 2504.68 C2178.42 2501.19 2179.12 2497.7 2180.51 2494.21 C2181.91 2490.72 2183.83 2487.23 2185.74 2483.74 C2187.66 2480.25 2190.11 2476.77 2192.03 2473.28 C2193.94 2469.79 2196.04 2466.3 2197.26 2462.81 C2198.48 2459.32 2198.83 2456.35 2199.35 2452.34 C2199.88 2448.33 2200.05 2438.73 2200.4 2438.73Z" fill="#fafafa" stroke="#333" stroke-width="2.2"/>
<line x1="2200.4" y1="2497.34" x2="2200.4" y2="2578.61" stroke="#222" stroke-width="1.6"/>
<rect x="2186.4" y="2527.9" width="28.1" height="39.9" fill="#b3b3b3" stroke="#333" stroke-width="1.5"/>
<line x1="2186.4" y1="2548.07" x2="2214.5" y2="2548.07" stroke="#333" stroke-width="1.8"/>
<circle cx="2200.4" cy="2497.98" r="2.6" fill="#222"/>
<circle cx="2200.4" cy="2578.58" r="2.6" fill="#222"/>
<path d="M2291.3 2567.49 C2291.86 2567.49 2291.93 2574.82 2292.97 2577.96 C2294.02 2581.1 2294.72 2583.89 2297.58 2586.33 C2300.44 2588.77 2305.96 2590.52 2310.14 2592.61 C2314.33 2594.7 2319.74 2596.97 2322.7 2598.89 C2325.67 2600.81 2326.96 2602.38 2327.94 2604.13 C2328.92 2605.87 2328.67 2607.09 2328.57 2609.36 C2328.46 2611.63 2327.07 2614.94 2327.31 2617.73 C2327.55 2620.53 2329.12 2623.67 2330.03 2626.11 C2330.94 2628.55 2332.4 2630.3 2332.75 2632.39 C2333.1 2634.48 2333.8 2636.58 2332.13 2638.67 C2330.45 2640.76 2326.37 2642.86 2322.7 2644.95 C2319.04 2647.04 2313.98 2649.14 2310.14 2651.23 C2306.3 2653.33 2302.4 2655.42 2299.67 2657.51 C2296.95 2659.61 2295.21 2660.48 2293.81 2663.79 C2292.42 2667.11 2292.14 2677.4 2291.3 2677.4 C2290.46 2677.4 2290.18 2667.11 2288.79 2663.79 C2287.39 2660.48 2285.65 2659.61 2282.93 2657.51 C2280.2 2655.42 2276.3 2653.33 2272.46 2651.23 C2268.62 2649.14 2263.56 2647.04 2259.9 2644.95 C2256.23 2642.86 2252.15 2640.76 2250.47 2638.67 C2248.8 2636.58 2249.5 2634.48 2249.85 2632.39 C2250.2 2630.3 2251.66 2628.55 2252.57 2626.11 C2253.48 2623.67 2255.05 2620.53 2255.29 2617.73 C2255.53 2614.94 2254.14 2611.63 2254.03 2609.36 C2253.93 2607.09 2253.68 2605.87 2254.66 2604.13 C2255.64 2602.38 2256.93 2600.81 2259.9 2598.89 C2262.86 2596.97 2268.27 2594.7 2272.46 2592.61 C2276.64 2590.52 2282.16 2588.77 2285.02 2586.33 C2287.88 2583.89 2288.58 2581.1 2289.63 2577.96 C2290.67 2574.82 2290.74 2567.49 2291.3 2567.49Z" fill="#8ac8f0" stroke="#333" stroke-width="2.2"/>
<line x1="2291.3" y1="2601.77" x2="2291.3" y2="2642.65" stroke="#222" stroke-width="1.6"/>
<rect x="2277" y="2609.6" width="28.1" height="26.6" fill="#4aaeea" stroke="#333" stroke-width="1.5"/>
<line x1="2277" y1="2623.93" x2="2305.1" y2="2623.93" stroke="#333" stroke-width="1.8"/>
<circle cx="2291.3" cy="2602.03" r="2.8" fill="#222"/>
<circle cx="2291.3" cy="2642.86" r="2.8" fill="#222"/>
<path d="M2203.6 2439 V2428 H2296.7 V2439" fill="none" stroke="#000" stroke-width="3.3"/>
<text x="2250.15" y="2431.5" font-size="38" text-anchor="middle">**</text>
</g>
<g id="panelJKL">
<text x="86.5" y="2804" font-size="50" font-weight="bold">J</text>
<line x1="238" y1="2822.3" x2="238" y2="3096" stroke="#000" stroke-width="3.6"/>
<line x1="221.6" y1="3094.3" x2="473" y2="3094.3" stroke="#000" stroke-width="3.6"/>
<line x1="221.6" y1="2824" x2="238" y2="2824" stroke="#000" stroke-width="3.6"/>
<text x="217.5" y="2835.8" font-size="33.5" text-anchor="end">80</text>
<line x1="221.6" y1="2892.2" x2="238" y2="2892.2" stroke="#000" stroke-width="3.6"/>
<text x="217.5" y="2904" font-size="33.5" text-anchor="end">60</text>
<line x1="221.6" y1="2959.8" x2="238" y2="2959.8" stroke="#000" stroke-width="3.6"/>
<text x="217.5" y="2971.6" font-size="33.5" text-anchor="end">40</text>
<line x1="221.6" y1="3027.5" x2="238" y2="3027.5" stroke="#000" stroke-width="3.6"/>
<text x="217.5" y="3039.3" font-size="33.5" text-anchor="end">20</text>
<line x1="221.6" y1="3094.3" x2="238" y2="3094.3" stroke="#000" stroke-width="3.6"/>
<text x="217.5" y="3106.1" font-size="33.5" text-anchor="end">0</text>
<line x1="304.8" y1="3094.3" x2="304.8" y2="3110.7" stroke="#000" stroke-width="3.6"/>
<line x1="404.8" y1="3094.3" x2="404.8" y2="3110.7" stroke="#000" stroke-width="3.6"/>
<text x="303.5" y="3148.5" font-size="33" text-anchor="middle">WT</text>
<text x="405.5" y="3148.5" font-size="33" text-anchor="middle">D1-Tg</text>
<text text-anchor="middle" transform="translate(118.5 2979) rotate(-90)" font-size="32">ATP Production in</text>
<text text-anchor="middle" transform="translate(159.5 2951) rotate(-90)" font-size="33">heart(nmol/mg tissue)</text>
<line x1="304.8" y1="2926.6" x2="304.8" y2="2987" stroke="#000" stroke-width="4"/>
<line x1="287.2" y1="2926.6" x2="322.9" y2="2926.6" stroke="#000" stroke-width="4"/>
<line x1="287.2" y1="2987" x2="322.9" y2="2987" stroke="#000" stroke-width="4"/>
<line x1="271.2" y1="2956.8" x2="338" y2="2956.8" stroke="#000" stroke-width="4"/>
<circle cx="304.8" cy="2900.8" r="8.6" fill="none" stroke="#000" stroke-width="4.3"/>
<circle cx="304.8" cy="2966.3" r="8.6" fill="none" stroke="#000" stroke-width="4.3"/>
<circle cx="304.8" cy="3002" r="8.6" fill="none" stroke="#000" stroke-width="4.3"/>
<line x1="372.5" y1="3043.9" x2="438.4" y2="3043.9" stroke="#f42a12" stroke-width="4"/>
<line x1="404.8" y1="3038" x2="404.8" y2="3049.8" stroke="#f42a12" stroke-width="4"/>
<line x1="388" y1="3038" x2="421.5" y2="3038" stroke="#f42a12" stroke-width="4"/>
<line x1="388" y1="3049.8" x2="421.5" y2="3049.8" stroke="#f42a12" stroke-width="4"/>
<circle cx="386.3" cy="3034.4" r="8.6" fill="none" stroke="#f42a12" stroke-width="4.3"/>
<circle cx="425.5" cy="3040.4" r="8.6" fill="none" stroke="#f42a12" stroke-width="4.3"/>
<circle cx="404.8" cy="3054.6" r="8.6" fill="none" stroke="#f42a12" stroke-width="4.3"/>
<path d="M305.7 2883.5 V2872.8 H407 V2883.5" fill="none" stroke="#000" stroke-width="2.6"/>
<text x="356.1" y="2876" font-size="36" text-anchor="middle">*</text>
<text x="495" y="2812.5" font-size="50" font-weight="bold">K</text>
<line x1="655.7" y1="2810.3" x2="655.7" y2="3175" stroke="#000" stroke-width="3.6"/>
<line x1="640.7" y1="3159.5" x2="1186.7" y2="3159.5" stroke="#000" stroke-width="3.6"/>
<line x1="640.7" y1="3159.5" x2="655.7" y2="3159.5" stroke="#000" stroke-width="3.6"/>
<text x="636.2" y="3171.2" font-size="33" text-anchor="end">0</text>
<line x1="640.7" y1="3090" x2="655.7" y2="3090" stroke="#000" stroke-width="3.6"/>
<text x="636.2" y="3101.7" font-size="33" text-anchor="end">10</text>
<line x1="640.7" y1="3020.5" x2="655.7" y2="3020.5" stroke="#000" stroke-width="3.6"/>
<text x="636.2" y="3032.2" font-size="33" text-anchor="end">20</text>
<line x1="640.7" y1="2951" x2="655.7" y2="2951" stroke="#000" stroke-width="3.6"/>
<text x="636.2" y="2962.7" font-size="33" text-anchor="end">30</text>
<line x1="640.7" y1="2881.5" x2="655.7" y2="2881.5" stroke="#000" stroke-width="3.6"/>
<text x="636.2" y="2893.2" font-size="33" text-anchor="end">40</text>
<line x1="640.7" y1="2812" x2="655.7" y2="2812" stroke="#000" stroke-width="3.6"/>
<text x="636.2" y="2823.7" font-size="33" text-anchor="end">50</text>
<line x1="655.7" y1="3159.5" x2="655.7" y2="3175" stroke="#000" stroke-width="3.6"/>
<text x="655.7" y="3209" font-size="33" text-anchor="middle">0</text>
<line x1="787.6" y1="3159.5" x2="787.6" y2="3175" stroke="#000" stroke-width="3.6"/>
<text x="787.6" y="3209" font-size="33" text-anchor="middle">20</text>
<line x1="919.5" y1="3159.5" x2="919.5" y2="3175" stroke="#000" stroke-width="3.6"/>
<text x="919.5" y="3209" font-size="33" text-anchor="middle">40</text>
<line x1="1051.9" y1="3159.5" x2="1051.9" y2="3175" stroke="#000" stroke-width="3.6"/>
<text x="1051.9" y="3209" font-size="33" text-anchor="middle">60</text>
<line x1="1184.9" y1="3159.5" x2="1184.9" y2="3175" stroke="#000" stroke-width="3.6"/>
<text x="1184.9" y="3209" font-size="33" text-anchor="middle">80</text>
<text x="926.8" y="3246" font-size="31.4" text-anchor="middle">Time (minutes)</text>
<text text-anchor="middle" transform="translate(576.5 2983.5) rotate(-90)" font-size="31.1">OCR (pmol/min/ug protein)</text>
<line x1="764.3" y1="2853" x2="764.3" y2="3158.5" stroke="#231815" stroke-width="4.3" stroke-dasharray="8 8.75" stroke-dashoffset="3.5"/>
<line x1="895.6" y1="2853" x2="895.6" y2="3158.5" stroke="#231815" stroke-width="4.3" stroke-dasharray="8 8.75" stroke-dashoffset="3.5"/>
<line x1="1029.2" y1="2853" x2="1029.2" y2="3158.5" stroke="#231815" stroke-width="4.3" stroke-dasharray="8 8.75" stroke-dashoffset="3.5"/>
<text x="765.4" y="2800" font-size="32" text-anchor="middle">Oligo</text>
<line x1="764.3" y1="2808" x2="764.3" y2="2826" stroke="#231815" stroke-width="4.8"/>
<path d="M764.3 2841 L753.7 2816.5 Q760.3 2820 764.3 2822 Q768.3 2820 774.9 2816.5 Z" fill="#231815"/>
<text x="896.8" y="2800" font-size="32" text-anchor="middle">FCCP</text>
<line x1="895.6" y1="2808" x2="895.6" y2="2826" stroke="#231815" stroke-width="4.8"/>
<path d="M895.6 2841 L885 2816.5 Q891.6 2820 895.6 2822 Q899.6 2820 906.2 2816.5 Z" fill="#231815"/>
<text x="1031.4" y="2800" font-size="32" text-anchor="middle">Rot/AA</text>
<line x1="1029.2" y1="2808" x2="1029.2" y2="2826" stroke="#231815" stroke-width="4.8"/>
<path d="M1029.2 2841 L1018.6 2816.5 Q1025.2 2820 1029.2 2822 Q1033.2 2820 1039.8 2816.5 Z" fill="#231815"/>
<line x1="664.55" y1="3006.58" x2="664.55" y2="3042.05" stroke="#f42a12" stroke-width="4"/>
<line x1="706.11" y1="3009.35" x2="706.11" y2="3047.03" stroke="#f42a12" stroke-width="4"/>
<line x1="748.78" y1="3009.35" x2="748.78" y2="3047.03" stroke="#f42a12" stroke-width="4"/>
<line x1="793.12" y1="3058.67" x2="793.12" y2="3088.6" stroke="#f42a12" stroke-width="4"/>
<line x1="834.68" y1="3058.67" x2="834.68" y2="3088.6" stroke="#f42a12" stroke-width="4"/>
<line x1="877.35" y1="3058.67" x2="877.35" y2="3088.6" stroke="#f42a12" stroke-width="4"/>
<line x1="921.69" y1="2919" x2="921.69" y2="2975.53" stroke="#f42a12" stroke-width="4"/>
<line x1="964.92" y1="2925.65" x2="964.92" y2="2981.07" stroke="#f42a12" stroke-width="4"/>
<line x1="1006.48" y1="2928.42" x2="1006.48" y2="2986.06" stroke="#f42a12" stroke-width="4"/>
<line x1="1050.82" y1="3099.79" x2="1050.82" y2="3108.66" stroke="#f42a12" stroke-width="4"/>
<line x1="1092.38" y1="3098.68" x2="1092.38" y2="3107.55" stroke="#f42a12" stroke-width="4"/>
<line x1="1135.61" y1="3098.13" x2="1135.61" y2="3106.99" stroke="#f42a12" stroke-width="4"/>
<circle cx="664.55" cy="3019.31" r="8.4" fill="#fff" stroke="#f42a12" stroke-width="4.4"/>
<circle cx="706.11" cy="3023.19" r="8.4" fill="#fff" stroke="#f42a12" stroke-width="4.4"/>
<circle cx="748.78" cy="3023.19" r="8.4" fill="#fff" stroke="#f42a12" stroke-width="4.4"/>
<circle cx="793.12" cy="3068.63" r="8.4" fill="#fff" stroke="#f42a12" stroke-width="4.4"/>
<circle cx="834.68" cy="3068.63" r="8.4" fill="#fff" stroke="#f42a12" stroke-width="4.4"/>
<circle cx="877.35" cy="3068.63" r="8.4" fill="#fff" stroke="#f42a12" stroke-width="4.4"/>
<circle cx="921.69" cy="2947.27" r="8.4" fill="#fff" stroke="#f42a12" stroke-width="4.4"/>
<circle cx="964.92" cy="2953.36" r="8.4" fill="#fff" stroke="#f42a12" stroke-width="4.4"/>
<circle cx="1006.48" cy="2957.24" r="8.4" fill="#fff" stroke="#f42a12" stroke-width="4.4"/>
<circle cx="1050.82" cy="3100.22" r="8.4" fill="#fff" stroke="#f42a12" stroke-width="4.4"/>
<circle cx="1092.38" cy="3099.12" r="8.4" fill="#fff" stroke="#f42a12" stroke-width="4.4"/>
<circle cx="1135.61" cy="3098.56" r="8.4" fill="#fff" stroke="#f42a12" stroke-width="4.4"/>
<line x1="654.25" y1="3006.58" x2="674.85" y2="3006.58" stroke="#f42a12" stroke-width="4.2" stroke-linecap="round"/>
<line x1="654.25" y1="3042.05" x2="674.85" y2="3042.05" stroke="#f42a12" stroke-width="4.2" stroke-linecap="round"/>
<line x1="695.81" y1="3009.35" x2="716.41" y2="3009.35" stroke="#f42a12" stroke-width="4.2" stroke-linecap="round"/>
<line x1="695.81" y1="3047.03" x2="716.41" y2="3047.03" stroke="#f42a12" stroke-width="4.2" stroke-linecap="round"/>
<line x1="738.48" y1="3009.35" x2="759.08" y2="3009.35" stroke="#f42a12" stroke-width="4.2" stroke-linecap="round"/>
<line x1="738.48" y1="3047.03" x2="759.08" y2="3047.03" stroke="#f42a12" stroke-width="4.2" stroke-linecap="round"/>
<line x1="782.82" y1="3058.67" x2="803.42" y2="3058.67" stroke="#f42a12" stroke-width="4.2" stroke-linecap="round"/>
<line x1="782.82" y1="3088.6" x2="803.42" y2="3088.6" stroke="#f42a12" stroke-width="4.2" stroke-linecap="round"/>
<line x1="824.38" y1="3058.67" x2="844.98" y2="3058.67" stroke="#f42a12" stroke-width="4.2" stroke-linecap="round"/>
<line x1="824.38" y1="3088.6" x2="844.98" y2="3088.6" stroke="#f42a12" stroke-width="4.2" stroke-linecap="round"/>
<line x1="867.05" y1="3058.67" x2="887.65" y2="3058.67" stroke="#f42a12" stroke-width="4.2" stroke-linecap="round"/>
<line x1="867.05" y1="3088.6" x2="887.65" y2="3088.6" stroke="#f42a12" stroke-width="4.2" stroke-linecap="round"/>
<line x1="911.39" y1="2919" x2="931.99" y2="2919" stroke="#f42a12" stroke-width="4.2" stroke-linecap="round"/>
<line x1="911.39" y1="2975.53" x2="931.99" y2="2975.53" stroke="#f42a12" stroke-width="4.2" stroke-linecap="round"/>
<line x1="954.62" y1="2925.65" x2="975.22" y2="2925.65" stroke="#f42a12" stroke-width="4.2" stroke-linecap="round"/>
<line x1="954.62" y1="2981.07" x2="975.22" y2="2981.07" stroke="#f42a12" stroke-width="4.2" stroke-linecap="round"/>
<line x1="996.18" y1="2928.42" x2="1016.78" y2="2928.42" stroke="#f42a12" stroke-width="4.2" stroke-linecap="round"/>
<line x1="996.18" y1="2986.06" x2="1016.78" y2="2986.06" stroke="#f42a12" stroke-width="4.2" stroke-linecap="round"/>
<line x1="1040.52" y1="3099.79" x2="1061.12" y2="3099.79" stroke="#f42a12" stroke-width="4.2" stroke-linecap="round"/>
<line x1="1040.52" y1="3108.66" x2="1061.12" y2="3108.66" stroke="#f42a12" stroke-width="4.2" stroke-linecap="round"/>
<line x1="1082.08" y1="3098.68" x2="1102.68" y2="3098.68" stroke="#f42a12" stroke-width="4.2" stroke-linecap="round"/>
<line x1="1082.08" y1="3107.55" x2="1102.68" y2="3107.55" stroke="#f42a12" stroke-width="4.2" stroke-linecap="round"/>
<line x1="1125.31" y1="3098.13" x2="1145.91" y2="3098.13" stroke="#f42a12" stroke-width="4.2" stroke-linecap="round"/>
<line x1="1125.31" y1="3106.99" x2="1145.91" y2="3106.99" stroke="#f42a12" stroke-width="4.2" stroke-linecap="round"/>
<path d="M664.55 3024.31 L706.11 3028.19 L748.78 3028.19 L793.12 3073.63 L834.68 3073.63 L877.35 3073.63 L921.69 2947.27 L964.92 2953.36 L1006.48 2957.24 L1050.82 3104.22 L1092.38 3103.12 L1135.61 3102.56" fill="none" stroke="#f42a12" stroke-width="4.4" stroke-linejoin="round"/>
<line x1="664.55" y1="2992.72" x2="664.55" y2="2999.37" stroke="#404040" stroke-width="4"/>
<line x1="706.11" y1="2990.51" x2="706.11" y2="3010.46" stroke="#404040" stroke-width="4"/>
<line x1="748.78" y1="2990.51" x2="748.78" y2="3010.46" stroke="#404040" stroke-width="4"/>
<line x1="793.12" y1="3068.65" x2="793.12" y2="3075.3" stroke="#404040" stroke-width="4"/>
<line x1="834.68" y1="3068.65" x2="834.68" y2="3075.3" stroke="#404040" stroke-width="4"/>
<line x1="877.35" y1="3069.76" x2="877.35" y2="3076.41" stroke="#404040" stroke-width="4"/>
<line x1="921.69" y1="2838.65" x2="921.69" y2="2866.36" stroke="#404040" stroke-width="4"/>
<line x1="964.92" y1="2857.49" x2="964.92" y2="2880.76" stroke="#404040" stroke-width="4"/>
<line x1="1006.48" y1="2866.91" x2="1006.48" y2="2886.86" stroke="#404040" stroke-width="4"/>
<line x1="1050.82" y1="3103.67" x2="1050.82" y2="3110.32" stroke="#404040" stroke-width="4"/>
<line x1="1092.38" y1="3100.9" x2="1092.38" y2="3107.55" stroke="#404040" stroke-width="4"/>
<line x1="1135.61" y1="3100.9" x2="1135.61" y2="3107.55" stroke="#404040" stroke-width="4"/>
<circle cx="664.55" cy="2991.05" r="8.4" fill="#fff" stroke="#404040" stroke-width="4.4"/>
<circle cx="706.11" cy="2995.48" r="8.4" fill="#fff" stroke="#404040" stroke-width="4.4"/>
<circle cx="748.78" cy="2995.48" r="8.4" fill="#fff" stroke="#404040" stroke-width="4.4"/>
<circle cx="793.12" cy="3066.97" r="8.4" fill="#fff" stroke="#404040" stroke-width="4.4"/>
<circle cx="834.68" cy="3066.97" r="8.4" fill="#fff" stroke="#404040" stroke-width="4.4"/>
<circle cx="877.35" cy="3068.08" r="8.4" fill="#fff" stroke="#404040" stroke-width="4.4"/>
<circle cx="921.69" cy="2852.5" r="8.4" fill="#fff" stroke="#404040" stroke-width="4.4"/>
<circle cx="964.92" cy="2869.13" r="8.4" fill="#fff" stroke="#404040" stroke-width="4.4"/>
<circle cx="1006.48" cy="2876.88" r="8.4" fill="#fff" stroke="#404040" stroke-width="4.4"/>
<circle cx="1050.82" cy="3102.99" r="8.4" fill="#fff" stroke="#404040" stroke-width="4.4"/>
<circle cx="1092.38" cy="3100.22" r="8.4" fill="#fff" stroke="#404040" stroke-width="4.4"/>
<circle cx="1135.61" cy="3100.22" r="8.4" fill="#fff" stroke="#404040" stroke-width="4.4"/>
<line x1="654.25" y1="2992.72" x2="674.85" y2="2992.72" stroke="#404040" stroke-width="4.2" stroke-linecap="round"/>
<line x1="654.25" y1="2999.37" x2="674.85" y2="2999.37" stroke="#404040" stroke-width="4.2" stroke-linecap="round"/>
<line x1="695.81" y1="2990.51" x2="716.41" y2="2990.51" stroke="#404040" stroke-width="4.2" stroke-linecap="round"/>
<line x1="695.81" y1="3010.46" x2="716.41" y2="3010.46" stroke="#404040" stroke-width="4.2" stroke-linecap="round"/>
<line x1="738.48" y1="2990.51" x2="759.08" y2="2990.51" stroke="#404040" stroke-width="4.2" stroke-linecap="round"/>
<line x1="738.48" y1="3010.46" x2="759.08" y2="3010.46" stroke="#404040" stroke-width="4.2" stroke-linecap="round"/>
<line x1="782.82" y1="3068.65" x2="803.42" y2="3068.65" stroke="#404040" stroke-width="4.2" stroke-linecap="round"/>
<line x1="782.82" y1="3075.3" x2="803.42" y2="3075.3" stroke="#404040" stroke-width="4.2" stroke-linecap="round"/>
<line x1="824.38" y1="3068.65" x2="844.98" y2="3068.65" stroke="#404040" stroke-width="4.2" stroke-linecap="round"/>
<line x1="824.38" y1="3075.3" x2="844.98" y2="3075.3" stroke="#404040" stroke-width="4.2" stroke-linecap="round"/>
<line x1="867.05" y1="3069.76" x2="887.65" y2="3069.76" stroke="#404040" stroke-width="4.2" stroke-linecap="round"/>
<line x1="867.05" y1="3076.41" x2="887.65" y2="3076.41" stroke="#404040" stroke-width="4.2" stroke-linecap="round"/>
<line x1="911.39" y1="2838.65" x2="931.99" y2="2838.65" stroke="#404040" stroke-width="4.2" stroke-linecap="round"/>
<line x1="911.39" y1="2866.36" x2="931.99" y2="2866.36" stroke="#404040" stroke-width="4.2" stroke-linecap="round"/>
<line x1="954.62" y1="2857.49" x2="975.22" y2="2857.49" stroke="#404040" stroke-width="4.2" stroke-linecap="round"/>
<line x1="954.62" y1="2880.76" x2="975.22" y2="2880.76" stroke="#404040" stroke-width="4.2" stroke-linecap="round"/>
<line x1="996.18" y1="2866.91" x2="1016.78" y2="2866.91" stroke="#404040" stroke-width="4.2" stroke-linecap="round"/>
<line x1="996.18" y1="2886.86" x2="1016.78" y2="2886.86" stroke="#404040" stroke-width="4.2" stroke-linecap="round"/>
<line x1="1040.52" y1="3103.67" x2="1061.12" y2="3103.67" stroke="#404040" stroke-width="4.2" stroke-linecap="round"/>
<line x1="1040.52" y1="3110.32" x2="1061.12" y2="3110.32" stroke="#404040" stroke-width="4.2" stroke-linecap="round"/>
<line x1="1082.08" y1="3100.9" x2="1102.68" y2="3100.9" stroke="#404040" stroke-width="4.2" stroke-linecap="round"/>
<line x1="1082.08" y1="3107.55" x2="1102.68" y2="3107.55" stroke="#404040" stroke-width="4.2" stroke-linecap="round"/>
<line x1="1125.31" y1="3100.9" x2="1145.91" y2="3100.9" stroke="#404040" stroke-width="4.2" stroke-linecap="round"/>
<line x1="1125.31" y1="3107.55" x2="1145.91" y2="3107.55" stroke="#404040" stroke-width="4.2" stroke-linecap="round"/>
<path d="M664.55 2996.05 L706.11 3000.48 L748.78 3000.48 L793.12 3071.97 L834.68 3071.97 L877.35 3073.08 L921.69 2852.5 L964.92 2869.13 L1006.48 2876.88 L1050.82 3106.99 L1092.38 3104.22 L1135.61 3104.22" fill="none" stroke="#404040" stroke-width="4.4" stroke-linejoin="round"/>
<line x1="1124.5" y1="2927.3" x2="1167.2" y2="2927.3" stroke="#404040" stroke-width="4.2"/>
<circle cx="1145.85" cy="2927.3" r="8" fill="none" stroke="#404040" stroke-width="4.2"/>
<text x="1192" y="2936" font-size="31.5">Len-ctl</text>
<line x1="1124.5" y1="2978.3" x2="1167.2" y2="2978.3" stroke="#f42a12" stroke-width="4.2"/>
<circle cx="1145.85" cy="2978.3" r="8" fill="none" stroke="#f42a12" stroke-width="4.2"/>
<text x="1192" y="2987" font-size="31.5">Len-D1</text>
<text x="1467" y="2802" font-size="50" font-weight="bold">L</text>
<line x1="1600.7" y1="2803.6" x2="1600.7" y2="3173.9" stroke="#000" stroke-width="3.6"/>
<line x1="1585.7" y1="3158.4" x2="2132.9" y2="3158.4" stroke="#000" stroke-width="3.6"/>
<line x1="1585.7" y1="3158.4" x2="1600.7" y2="3158.4" stroke="#000" stroke-width="3.6"/>
<text x="1581.2" y="3170.1" font-size="33" text-anchor="end">0</text>
<line x1="1585.7" y1="3094.2" x2="1600.7" y2="3094.2" stroke="#000" stroke-width="3.6"/>
<text x="1581.2" y="3105.9" font-size="33" text-anchor="end">10</text>
<line x1="1585.7" y1="3030" x2="1600.7" y2="3030" stroke="#000" stroke-width="3.6"/>
<text x="1581.2" y="3041.7" font-size="33" text-anchor="end">20</text>
<line x1="1585.7" y1="2965.8" x2="1600.7" y2="2965.8" stroke="#000" stroke-width="3.6"/>
<text x="1581.2" y="2977.5" font-size="33" text-anchor="end">30</text>
<line x1="1585.7" y1="2901.6" x2="1600.7" y2="2901.6" stroke="#000" stroke-width="3.6"/>
<text x="1581.2" y="2913.3" font-size="33" text-anchor="end">40</text>
<line x1="1585.7" y1="2837.4" x2="1600.7" y2="2837.4" stroke="#000" stroke-width="3.6"/>
<text x="1581.2" y="2849.1" font-size="33" text-anchor="end">50</text>
<line x1="1600.7" y1="3158.4" x2="1600.7" y2="3173.9" stroke="#000" stroke-width="3.6"/>
<text x="1600.7" y="3207.9" font-size="33" text-anchor="middle">0</text>
<line x1="1733.2" y1="3158.4" x2="1733.2" y2="3173.9" stroke="#000" stroke-width="3.6"/>
<text x="1733.2" y="3207.9" font-size="33" text-anchor="middle">20</text>
<line x1="1865.6" y1="3158.4" x2="1865.6" y2="3173.9" stroke="#000" stroke-width="3.6"/>
<text x="1865.6" y="3207.9" font-size="33" text-anchor="middle">40</text>
<line x1="1998" y1="3158.4" x2="1998" y2="3173.9" stroke="#000" stroke-width="3.6"/>
<text x="1998" y="3207.9" font-size="33" text-anchor="middle">60</text>
<line x1="2131.1" y1="3158.4" x2="2131.1" y2="3173.9" stroke="#000" stroke-width="3.6"/>
<text x="2131.1" y="3207.9" font-size="33" text-anchor="middle">80</text>
<text x="1865.6" y="3244.9" font-size="32.6" text-anchor="middle">Time (minutes)</text>
<text text-anchor="middle" transform="translate(1522 2992) rotate(-90)" font-size="31.1">OCR (pmol/min/ug protein)</text>
<line x1="1709.9" y1="2853" x2="1709.9" y2="3157.4" stroke="#231815" stroke-width="4.3" stroke-dasharray="8 8.75" stroke-dashoffset="3.5"/>
<line x1="1841.2" y1="2853" x2="1841.2" y2="3157.4" stroke="#231815" stroke-width="4.3" stroke-dasharray="8 8.75" stroke-dashoffset="3.5"/>
<line x1="1974.2" y1="2853" x2="1974.2" y2="3157.4" stroke="#231815" stroke-width="4.3" stroke-dasharray="8 8.75" stroke-dashoffset="3.5"/>
<text x="1711.5" y="2798.3" font-size="32" text-anchor="middle">Oligo</text>
<line x1="1709.9" y1="2805" x2="1709.9" y2="2823" stroke="#231815" stroke-width="4.8"/>
<path d="M1709.9 2838 L1699.3 2813.5 Q1705.9 2817 1709.9 2819 Q1713.9 2817 1720.5 2813.5 Z" fill="#231815"/>
<text x="1842.9" y="2798.3" font-size="32" text-anchor="middle">FCCP</text>
<line x1="1841.2" y1="2805" x2="1841.2" y2="2823" stroke="#231815" stroke-width="4.8"/>
<path d="M1841.2 2838 L1830.6 2813.5 Q1837.2 2817 1841.2 2819 Q1845.2 2817 1851.8 2813.5 Z" fill="#231815"/>
<text x="1977.6" y="2798.3" font-size="32" text-anchor="middle">Rot/AA</text>
<line x1="1974.2" y1="2805" x2="1974.2" y2="2823" stroke="#231815" stroke-width="4.8"/>
<path d="M1974.2 2838 L1963.6 2813.5 Q1970.2 2817 1974.2 2819 Q1978.2 2817 1984.8 2813.5 Z" fill="#231815"/>
<line x1="1609.03" y1="2962.78" x2="1609.03" y2="2984.95" stroke="#1e9cf0" stroke-width="4"/>
<line x1="1651.7" y1="2967.22" x2="1651.7" y2="2989.39" stroke="#1e9cf0" stroke-width="4"/>
<line x1="1693.82" y1="2965.56" x2="1693.82" y2="2987.72" stroke="#1e9cf0" stroke-width="4"/>
<line x1="1738.15" y1="3050.9" x2="1738.15" y2="3067.53" stroke="#1e9cf0" stroke-width="4"/>
<line x1="1780.27" y1="3049.24" x2="1780.27" y2="3065.86" stroke="#1e9cf0" stroke-width="4"/>
<line x1="1822.95" y1="3049.24" x2="1822.95" y2="3065.86" stroke="#1e9cf0" stroke-width="4"/>
<line x1="1866.73" y1="2817.59" x2="1866.73" y2="2859.71" stroke="#1e9cf0" stroke-width="4"/>
<line x1="1909.95" y1="2836.98" x2="1909.95" y2="2876.88" stroke="#1e9cf0" stroke-width="4"/>
<line x1="1952.63" y1="2848.07" x2="1952.63" y2="2883.54" stroke="#1e9cf0" stroke-width="4"/>
<line x1="1996.41" y1="3089.69" x2="1996.41" y2="3100.78" stroke="#1e9cf0" stroke-width="4"/>
<line x1="2038.53" y1="3086.92" x2="2038.53" y2="3098.01" stroke="#1e9cf0" stroke-width="4"/>
<line x1="2081.2" y1="3088.59" x2="2081.2" y2="3099.67" stroke="#1e9cf0" stroke-width="4"/>
<circle cx="1609.03" cy="2973.87" r="8.4" fill="#fff" stroke="#1e9cf0" stroke-width="4.4"/>
<circle cx="1651.7" cy="2978.3" r="8.4" fill="#fff" stroke="#1e9cf0" stroke-width="4.4"/>
<circle cx="1693.82" cy="2976.64" r="8.4" fill="#fff" stroke="#1e9cf0" stroke-width="4.4"/>
<circle cx="1738.15" cy="3059.21" r="8.4" fill="#fff" stroke="#1e9cf0" stroke-width="4.4"/>
<circle cx="1780.27" cy="3057.55" r="8.4" fill="#fff" stroke="#1e9cf0" stroke-width="4.4"/>
<circle cx="1822.95" cy="3057.55" r="8.4" fill="#fff" stroke="#1e9cf0" stroke-width="4.4"/>
<circle cx="1866.73" cy="2838.65" r="8.4" fill="#fff" stroke="#1e9cf0" stroke-width="4.4"/>
<circle cx="1909.95" cy="2856.93" r="8.4" fill="#fff" stroke="#1e9cf0" stroke-width="4.4"/>
<circle cx="1952.63" cy="2865.8" r="8.4" fill="#fff" stroke="#1e9cf0" stroke-width="4.4"/>
<circle cx="1996.41" cy="3095.24" r="8.4" fill="#fff" stroke="#1e9cf0" stroke-width="4.4"/>
<circle cx="2038.53" cy="3092.46" r="8.4" fill="#fff" stroke="#1e9cf0" stroke-width="4.4"/>
<circle cx="2081.2" cy="3094.13" r="8.4" fill="#fff" stroke="#1e9cf0" stroke-width="4.4"/>
<line x1="1598.73" y1="2962.78" x2="1619.33" y2="2962.78" stroke="#1e9cf0" stroke-width="4.2" stroke-linecap="round"/>
<line x1="1598.73" y1="2984.95" x2="1619.33" y2="2984.95" stroke="#1e9cf0" stroke-width="4.2" stroke-linecap="round"/>
<line x1="1641.4" y1="2967.22" x2="1662" y2="2967.22" stroke="#1e9cf0" stroke-width="4.2" stroke-linecap="round"/>
<line x1="1641.4" y1="2989.39" x2="1662" y2="2989.39" stroke="#1e9cf0" stroke-width="4.2" stroke-linecap="round"/>
<line x1="1683.52" y1="2965.56" x2="1704.12" y2="2965.56" stroke="#1e9cf0" stroke-width="4.2" stroke-linecap="round"/>
<line x1="1683.52" y1="2987.72" x2="1704.12" y2="2987.72" stroke="#1e9cf0" stroke-width="4.2" stroke-linecap="round"/>
<line x1="1727.85" y1="3050.9" x2="1748.45" y2="3050.9" stroke="#1e9cf0" stroke-width="4.2" stroke-linecap="round"/>
<line x1="1727.85" y1="3067.53" x2="1748.45" y2="3067.53" stroke="#1e9cf0" stroke-width="4.2" stroke-linecap="round"/>
<line x1="1769.97" y1="3049.24" x2="1790.57" y2="3049.24" stroke="#1e9cf0" stroke-width="4.2" stroke-linecap="round"/>
<line x1="1769.97" y1="3065.86" x2="1790.57" y2="3065.86" stroke="#1e9cf0" stroke-width="4.2" stroke-linecap="round"/>
<line x1="1812.65" y1="3049.24" x2="1833.25" y2="3049.24" stroke="#1e9cf0" stroke-width="4.2" stroke-linecap="round"/>
<line x1="1812.65" y1="3065.86" x2="1833.25" y2="3065.86" stroke="#1e9cf0" stroke-width="4.2" stroke-linecap="round"/>
<line x1="1856.43" y1="2817.59" x2="1877.03" y2="2817.59" stroke="#1e9cf0" stroke-width="4.2" stroke-linecap="round"/>
<line x1="1856.43" y1="2859.71" x2="1877.03" y2="2859.71" stroke="#1e9cf0" stroke-width="4.2" stroke-linecap="round"/>
<line x1="1899.65" y1="2836.98" x2="1920.25" y2="2836.98" stroke="#1e9cf0" stroke-width="4.2" stroke-linecap="round"/>
<line x1="1899.65" y1="2876.88" x2="1920.25" y2="2876.88" stroke="#1e9cf0" stroke-width="4.2" stroke-linecap="round"/>
<line x1="1942.33" y1="2848.07" x2="1962.93" y2="2848.07" stroke="#1e9cf0" stroke-width="4.2" stroke-linecap="round"/>
<line x1="1942.33" y1="2883.54" x2="1962.93" y2="2883.54" stroke="#1e9cf0" stroke-width="4.2" stroke-linecap="round"/>
<line x1="1986.11" y1="3089.69" x2="2006.71" y2="3089.69" stroke="#1e9cf0" stroke-width="4.2" stroke-linecap="round"/>
<line x1="1986.11" y1="3100.78" x2="2006.71" y2="3100.78" stroke="#1e9cf0" stroke-width="4.2" stroke-linecap="round"/>
<line x1="2028.23" y1="3086.92" x2="2048.83" y2="3086.92" stroke="#1e9cf0" stroke-width="4.2" stroke-linecap="round"/>
<line x1="2028.23" y1="3098.01" x2="2048.83" y2="3098.01" stroke="#1e9cf0" stroke-width="4.2" stroke-linecap="round"/>
<line x1="2070.9" y1="3088.59" x2="2091.5" y2="3088.59" stroke="#1e9cf0" stroke-width="4.2" stroke-linecap="round"/>
<line x1="2070.9" y1="3099.67" x2="2091.5" y2="3099.67" stroke="#1e9cf0" stroke-width="4.2" stroke-linecap="round"/>
<path d="M1609.03 2973.87 L1651.7 2978.3 L1693.82 2976.64 L1738.15 3059.21 L1780.27 3057.55 L1822.95 3057.55 L1866.73 2838.65 L1909.95 2856.93 L1952.63 2865.8 L1996.41 3095.24 L2038.53 3092.46 L2081.2 3094.13" fill="none" stroke="#1e9cf0" stroke-width="4.4" stroke-linejoin="round"/>
<line x1="1609.03" y1="2994.93" x2="1609.03" y2="3017.09" stroke="#a0601a" stroke-width="4"/>
<line x1="1651.7" y1="2997.14" x2="1651.7" y2="3024.85" stroke="#a0601a" stroke-width="4"/>
<line x1="1693.82" y1="3001.02" x2="1693.82" y2="3025.41" stroke="#a0601a" stroke-width="4"/>
<line x1="1738.15" y1="3049.79" x2="1738.15" y2="3094.13" stroke="#a0601a" stroke-width="4"/>
<line x1="1780.27" y1="3048.68" x2="1780.27" y2="3093.02" stroke="#a0601a" stroke-width="4"/>
<line x1="1822.95" y1="3048.68" x2="1822.95" y2="3093.02" stroke="#a0601a" stroke-width="4"/>
<line x1="1866.73" y1="2890.74" x2="1866.73" y2="2955.03" stroke="#a0601a" stroke-width="4"/>
<line x1="1909.95" y1="2910.69" x2="1909.95" y2="2962.78" stroke="#a0601a" stroke-width="4"/>
<line x1="1952.63" y1="2914.02" x2="1952.63" y2="2966.11" stroke="#a0601a" stroke-width="4"/>
<line x1="1996.41" y1="3080.83" x2="1996.41" y2="3114.08" stroke="#a0601a" stroke-width="4"/>
<line x1="2038.53" y1="3076.95" x2="2038.53" y2="3110.2" stroke="#a0601a" stroke-width="4"/>
<line x1="2081.2" y1="3077.5" x2="2081.2" y2="3110.75" stroke="#a0601a" stroke-width="4"/>
<circle cx="1609.03" cy="3006.01" r="8.4" fill="#fff" stroke="#a0601a" stroke-width="4.4"/>
<circle cx="1651.7" cy="3011" r="8.4" fill="#fff" stroke="#a0601a" stroke-width="4.4"/>
<circle cx="1693.82" cy="3013.22" r="8.4" fill="#fff" stroke="#a0601a" stroke-width="4.4"/>
<circle cx="1738.15" cy="3071.96" r="8.4" fill="#fff" stroke="#a0601a" stroke-width="4.4"/>
<circle cx="1780.27" cy="3070.85" r="8.4" fill="#fff" stroke="#a0601a" stroke-width="4.4"/>
<circle cx="1822.95" cy="3070.85" r="8.4" fill="#fff" stroke="#a0601a" stroke-width="4.4"/>
<circle cx="1866.73" cy="2922.88" r="8.4" fill="#fff" stroke="#a0601a" stroke-width="4.4"/>
<circle cx="1909.95" cy="2936.74" r="8.4" fill="#fff" stroke="#a0601a" stroke-width="4.4"/>
<circle cx="1952.63" cy="2940.06" r="8.4" fill="#fff" stroke="#a0601a" stroke-width="4.4"/>
<circle cx="1996.41" cy="3097.45" r="8.4" fill="#fff" stroke="#a0601a" stroke-width="4.4"/>
<circle cx="2038.53" cy="3093.57" r="8.4" fill="#fff" stroke="#a0601a" stroke-width="4.4"/>
<circle cx="2081.2" cy="3094.13" r="8.4" fill="#fff" stroke="#a0601a" stroke-width="4.4"/>
<line x1="1598.73" y1="2994.93" x2="1619.33" y2="2994.93" stroke="#a0601a" stroke-width="4.2" stroke-linecap="round"/>
<line x1="1598.73" y1="3017.09" x2="1619.33" y2="3017.09" stroke="#a0601a" stroke-width="4.2" stroke-linecap="round"/>
<line x1="1641.4" y1="2997.14" x2="1662" y2="2997.14" stroke="#a0601a" stroke-width="4.2" stroke-linecap="round"/>
<line x1="1641.4" y1="3024.85" x2="1662" y2="3024.85" stroke="#a0601a" stroke-width="4.2" stroke-linecap="round"/>
<line x1="1683.52" y1="3001.02" x2="1704.12" y2="3001.02" stroke="#a0601a" stroke-width="4.2" stroke-linecap="round"/>
<line x1="1683.52" y1="3025.41" x2="1704.12" y2="3025.41" stroke="#a0601a" stroke-width="4.2" stroke-linecap="round"/>
<line x1="1727.85" y1="3049.79" x2="1748.45" y2="3049.79" stroke="#a0601a" stroke-width="4.2" stroke-linecap="round"/>
<line x1="1727.85" y1="3094.13" x2="1748.45" y2="3094.13" stroke="#a0601a" stroke-width="4.2" stroke-linecap="round"/>
<line x1="1769.97" y1="3048.68" x2="1790.57" y2="3048.68" stroke="#a0601a" stroke-width="4.2" stroke-linecap="round"/>
<line x1="1769.97" y1="3093.02" x2="1790.57" y2="3093.02" stroke="#a0601a" stroke-width="4.2" stroke-linecap="round"/>
<line x1="1812.65" y1="3048.68" x2="1833.25" y2="3048.68" stroke="#a0601a" stroke-width="4.2" stroke-linecap="round"/>
<line x1="1812.65" y1="3093.02" x2="1833.25" y2="3093.02" stroke="#a0601a" stroke-width="4.2" stroke-linecap="round"/>
<line x1="1856.43" y1="2890.74" x2="1877.03" y2="2890.74" stroke="#a0601a" stroke-width="4.2" stroke-linecap="round"/>
<line x1="1856.43" y1="2955.03" x2="1877.03" y2="2955.03" stroke="#a0601a" stroke-width="4.2" stroke-linecap="round"/>
<line x1="1899.65" y1="2910.69" x2="1920.25" y2="2910.69" stroke="#a0601a" stroke-width="4.2" stroke-linecap="round"/>
<line x1="1899.65" y1="2962.78" x2="1920.25" y2="2962.78" stroke="#a0601a" stroke-width="4.2" stroke-linecap="round"/>
<line x1="1942.33" y1="2914.02" x2="1962.93" y2="2914.02" stroke="#a0601a" stroke-width="4.2" stroke-linecap="round"/>
<line x1="1942.33" y1="2966.11" x2="1962.93" y2="2966.11" stroke="#a0601a" stroke-width="4.2" stroke-linecap="round"/>
<line x1="1986.11" y1="3080.83" x2="2006.71" y2="3080.83" stroke="#a0601a" stroke-width="4.2" stroke-linecap="round"/>
<line x1="1986.11" y1="3114.08" x2="2006.71" y2="3114.08" stroke="#a0601a" stroke-width="4.2" stroke-linecap="round"/>
<line x1="2028.23" y1="3076.95" x2="2048.83" y2="3076.95" stroke="#a0601a" stroke-width="4.2" stroke-linecap="round"/>
<line x1="2028.23" y1="3110.2" x2="2048.83" y2="3110.2" stroke="#a0601a" stroke-width="4.2" stroke-linecap="round"/>
<line x1="2070.9" y1="3077.5" x2="2091.5" y2="3077.5" stroke="#a0601a" stroke-width="4.2" stroke-linecap="round"/>
<line x1="2070.9" y1="3110.75" x2="2091.5" y2="3110.75" stroke="#a0601a" stroke-width="4.2" stroke-linecap="round"/>
<path d="M1609.03 3006.01 L1651.7 3011 L1693.82 3013.22 L1738.15 3071.96 L1780.27 3070.85 L1822.95 3070.85 L1866.73 2922.88 L1909.95 2936.74 L1952.63 2940.06 L1996.41 3097.45 L2038.53 3093.57 L2081.2 3094.13" fill="none" stroke="#a0601a" stroke-width="4.4" stroke-linejoin="round"/>
<line x1="2055.2" y1="2914.5" x2="2097.5" y2="2914.5" stroke="#a0601a" stroke-width="4.2"/>
<circle cx="2076.35" cy="2914.5" r="8" fill="none" stroke="#a0601a" stroke-width="4.2"/>
<text x="2104.5" y="2924" font-size="31.5">si-nc + Ang II</text>
<line x1="2055.2" y1="2967.5" x2="2097.5" y2="2967.5" stroke="#1e9cf0" stroke-width="4.2"/>
<circle cx="2076.35" cy="2967.5" r="8" fill="none" stroke="#1e9cf0" stroke-width="4.2"/>
<text x="2104.5" y="2976.7" font-size="31.5">si-D1 + Ang II</text>
</g>
</svg>
</body></html>
